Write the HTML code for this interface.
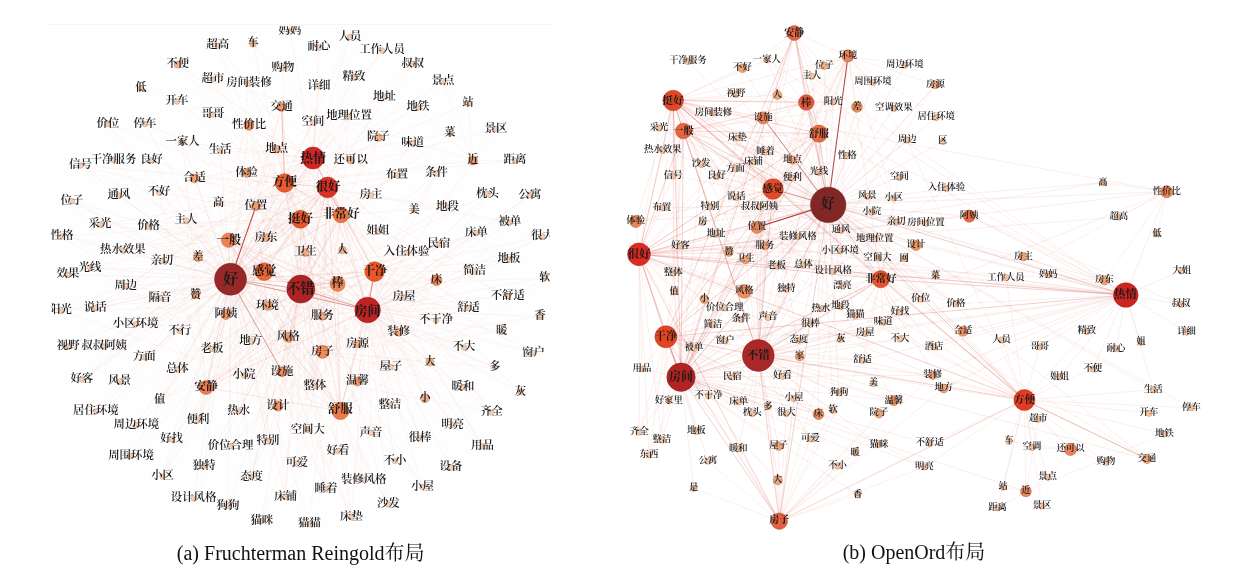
<!DOCTYPE html>
<html><head><meta charset="utf-8"><title>graph layouts</title>
<style>
html,body{margin:0;padding:0;background:#fff;width:1244px;height:571px;overflow:hidden}
svg{display:block;filter:blur(0.45px)}
text{font-family:"Liberation Serif","Noto Serif CJK SC",serif;fill:#1a1a1a;font-weight:600}
.cap{font-family:"Liberation Serif","Noto Serif CJK SC",serif;fill:#111;font-weight:400}
</style></head><body>
<svg width="1244" height="571" viewBox="0 0 1244 571">
<defs><clipPath id="cl"><rect x="51.5" y="26.3" width="498" height="501"/></clipPath></defs>
<rect x="0" y="0" width="1244" height="571" fill="#fff"/>
<rect x="48" y="24" width="504" height="504" fill="#fefefe"/>
<line x1="48" y1="24.5" x2="552" y2="24.5" stroke="#f6f6f6" stroke-width="1"/>
<g clip-path="url(#cl)">
<g fill="none" stroke-linecap="round">
<line x1="230.5" y1="279.2" x2="267.4" y2="305.7" stroke="#cb6457" stroke-opacity="0.10" stroke-width="0.70"/>
<line x1="230.5" y1="279.2" x2="255.9" y2="206.1" stroke="#b02828" stroke-opacity="0.85" stroke-width="1.10"/>
<line x1="230.5" y1="279.2" x2="282.0" y2="371.7" stroke="#b03a30" stroke-opacity="0.55" stroke-width="0.90"/>
<line x1="230.5" y1="279.2" x2="322.5" y2="316.3" stroke="#cc695d" stroke-opacity="0.10" stroke-width="0.70"/>
<line x1="230.5" y1="279.2" x2="367.6" y2="310.0" stroke="#b02828" stroke-opacity="0.45" stroke-width="1.00"/>
<line x1="230.5" y1="279.2" x2="300.8" y2="289.1" stroke="#b02828" stroke-opacity="0.35" stroke-width="1.00"/>
<line x1="230.5" y1="279.2" x2="264.1" y2="271.6" stroke="#cb5445" stroke-opacity="0.18" stroke-width="0.91"/>
<line x1="230.5" y1="279.2" x2="228.6" y2="240.2" stroke="#cc5d4e" stroke-opacity="0.18" stroke-width="0.91"/>
<line x1="230.5" y1="279.2" x2="226.0" y2="314.5" stroke="#cb6254" stroke-opacity="0.10" stroke-width="0.70"/>
<line x1="230.5" y1="279.2" x2="72.0" y2="201.2" stroke="#cd736b" stroke-opacity="0.10" stroke-width="0.70"/>
<line x1="230.5" y1="279.2" x2="186.0" y2="220.5" stroke="#cd736b" stroke-opacity="0.10" stroke-width="0.70"/>
<line x1="230.5" y1="279.2" x2="148.6" y2="226.5" stroke="#cd736b" stroke-opacity="0.10" stroke-width="0.70"/>
<line x1="230.5" y1="279.2" x2="100.0" y2="224.5" stroke="#cd736b" stroke-opacity="0.10" stroke-width="0.70"/>
<line x1="230.5" y1="279.2" x2="62.0" y2="236.5" stroke="#cd736b" stroke-opacity="0.10" stroke-width="0.70"/>
<line x1="230.5" y1="279.2" x2="122.8" y2="250.5" stroke="#cd736b" stroke-opacity="0.10" stroke-width="0.70"/>
<line x1="230.5" y1="279.2" x2="90.0" y2="267.8" stroke="#cd736b" stroke-opacity="0.10" stroke-width="0.70"/>
<line x1="230.5" y1="279.2" x2="67.9" y2="274.6" stroke="#cd736b" stroke-opacity="0.10" stroke-width="0.70"/>
<line x1="230.5" y1="279.2" x2="125.8" y2="286.1" stroke="#cd736b" stroke-opacity="0.10" stroke-width="0.70"/>
<line x1="230.5" y1="279.2" x2="160.0" y2="297.9" stroke="#cd736b" stroke-opacity="0.10" stroke-width="0.70"/>
<line x1="230.5" y1="279.2" x2="195.6" y2="294.9" stroke="#cc695c" stroke-opacity="0.10" stroke-width="0.70"/>
<line x1="230.5" y1="279.2" x2="95.2" y2="308.3" stroke="#cd736b" stroke-opacity="0.10" stroke-width="0.70"/>
<line x1="230.5" y1="279.2" x2="60.5" y2="310.4" stroke="#cd736b" stroke-opacity="0.10" stroke-width="0.70"/>
<line x1="230.5" y1="279.2" x2="135.6" y2="324.3" stroke="#cd736b" stroke-opacity="0.10" stroke-width="0.70"/>
<line x1="230.5" y1="279.2" x2="179.7" y2="331.0" stroke="#cd736b" stroke-opacity="0.10" stroke-width="0.70"/>
<line x1="230.5" y1="279.2" x2="68.2" y2="346.5" stroke="#cd736b" stroke-opacity="0.10" stroke-width="0.70"/>
<line x1="230.5" y1="279.2" x2="104.2" y2="346.5" stroke="#cd736b" stroke-opacity="0.10" stroke-width="0.70"/>
<line x1="230.5" y1="279.2" x2="144.2" y2="357.2" stroke="#cd736b" stroke-opacity="0.10" stroke-width="0.70"/>
<line x1="230.5" y1="279.2" x2="212.0" y2="348.9" stroke="#cd736b" stroke-opacity="0.10" stroke-width="0.70"/>
<line x1="230.5" y1="279.2" x2="177.3" y2="369.5" stroke="#cd736b" stroke-opacity="0.10" stroke-width="0.70"/>
<line x1="230.5" y1="279.2" x2="82.0" y2="379.5" stroke="#cd736b" stroke-opacity="0.10" stroke-width="0.70"/>
<line x1="230.5" y1="279.2" x2="119.7" y2="381.5" stroke="#cd736b" stroke-opacity="0.10" stroke-width="0.70"/>
<line x1="230.5" y1="279.2" x2="159.6" y2="400.5" stroke="#cd736b" stroke-opacity="0.10" stroke-width="0.70"/>
<line x1="230.5" y1="279.2" x2="95.9" y2="411.5" stroke="#cd736b" stroke-opacity="0.10" stroke-width="0.70"/>
<line x1="230.5" y1="279.2" x2="198.0" y2="420.3" stroke="#cd736b" stroke-opacity="0.10" stroke-width="0.70"/>
<line x1="230.5" y1="279.2" x2="136.3" y2="425.5" stroke="#cd736b" stroke-opacity="0.10" stroke-width="0.70"/>
<line x1="230.5" y1="279.2" x2="171.6" y2="439.5" stroke="#cd736b" stroke-opacity="0.10" stroke-width="0.70"/>
<line x1="230.5" y1="279.2" x2="131.0" y2="455.9" stroke="#cd736b" stroke-opacity="0.10" stroke-width="0.70"/>
<line x1="230.5" y1="279.2" x2="162.6" y2="476.5" stroke="#cd736b" stroke-opacity="0.10" stroke-width="0.70"/>
<line x1="230.5" y1="279.2" x2="193.5" y2="498.3" stroke="#cd736b" stroke-opacity="0.10" stroke-width="0.70"/>
<line x1="230.5" y1="279.2" x2="204.2" y2="465.8" stroke="#cd736b" stroke-opacity="0.10" stroke-width="0.70"/>
<line x1="230.5" y1="279.2" x2="230.6" y2="446.1" stroke="#cd736b" stroke-opacity="0.10" stroke-width="0.70"/>
<line x1="230.5" y1="279.2" x2="238.7" y2="411.5" stroke="#cd736b" stroke-opacity="0.10" stroke-width="0.70"/>
<line x1="230.5" y1="279.2" x2="206.0" y2="387.5" stroke="#cb5b4d" stroke-opacity="0.18" stroke-width="0.91"/>
<line x1="230.5" y1="279.2" x2="244.0" y2="375.5" stroke="#cd736b" stroke-opacity="0.10" stroke-width="0.70"/>
<line x1="230.5" y1="279.2" x2="250.7" y2="340.8" stroke="#cd736b" stroke-opacity="0.10" stroke-width="0.70"/>
<line x1="230.5" y1="279.2" x2="288.2" y2="337.5" stroke="#cb6456" stroke-opacity="0.10" stroke-width="0.70"/>
<line x1="230.5" y1="279.2" x2="278.0" y2="406.1" stroke="#cb6254" stroke-opacity="0.10" stroke-width="0.70"/>
<line x1="230.5" y1="279.2" x2="251.6" y2="476.7" stroke="#cd736b" stroke-opacity="0.10" stroke-width="0.70"/>
<line x1="230.5" y1="279.2" x2="228.0" y2="505.7" stroke="#cd736b" stroke-opacity="0.10" stroke-width="0.70"/>
<line x1="230.5" y1="279.2" x2="268.0" y2="441.2" stroke="#cd736b" stroke-opacity="0.10" stroke-width="0.70"/>
<line x1="230.5" y1="279.2" x2="119.0" y2="195.5" stroke="#cd736b" stroke-opacity="0.10" stroke-width="0.70"/>
<line x1="230.5" y1="279.2" x2="218.4" y2="203.5" stroke="#cd736b" stroke-opacity="0.10" stroke-width="0.70"/>
<line x1="230.5" y1="279.2" x2="198.0" y2="257.0" stroke="#cc675a" stroke-opacity="0.10" stroke-width="0.70"/>
<line x1="230.5" y1="279.2" x2="161.8" y2="261.1" stroke="#cd736b" stroke-opacity="0.10" stroke-width="0.70"/>
<line x1="230.5" y1="279.2" x2="80.4" y2="165.5" stroke="#cd736b" stroke-opacity="0.10" stroke-width="0.70"/>
<line x1="230.5" y1="279.2" x2="113.5" y2="160.2" stroke="#cd736b" stroke-opacity="0.10" stroke-width="0.70"/>
<line x1="230.5" y1="279.2" x2="151.5" y2="160.2" stroke="#cd736b" stroke-opacity="0.10" stroke-width="0.70"/>
<line x1="230.5" y1="279.2" x2="158.9" y2="192.5" stroke="#cd736b" stroke-opacity="0.10" stroke-width="0.70"/>
<line x1="230.5" y1="279.2" x2="194.4" y2="178.4" stroke="#cc675a" stroke-opacity="0.10" stroke-width="0.70"/>
<line x1="230.5" y1="279.2" x2="182.6" y2="142.3" stroke="#cd736b" stroke-opacity="0.10" stroke-width="0.70"/>
<line x1="230.5" y1="279.2" x2="220.0" y2="150.5" stroke="#cd736b" stroke-opacity="0.10" stroke-width="0.70"/>
<line x1="230.5" y1="279.2" x2="246.6" y2="173.0" stroke="#cb6457" stroke-opacity="0.10" stroke-width="0.70"/>
<line x1="230.5" y1="279.2" x2="266.0" y2="237.9" stroke="#cc6a5e" stroke-opacity="0.10" stroke-width="0.70"/>
<line x1="230.5" y1="279.2" x2="249.0" y2="125.3" stroke="#cb6153" stroke-opacity="0.10" stroke-width="0.70"/>
<line x1="230.5" y1="279.2" x2="108.0" y2="124.0" stroke="#cd736b" stroke-opacity="0.10" stroke-width="0.70"/>
<line x1="230.5" y1="279.2" x2="145.0" y2="124.0" stroke="#cd736b" stroke-opacity="0.10" stroke-width="0.70"/>
<line x1="230.5" y1="279.2" x2="276.7" y2="149.0" stroke="#cc6a5e" stroke-opacity="0.10" stroke-width="0.70"/>
<line x1="230.5" y1="279.2" x2="281.6" y2="106.9" stroke="#cb6456" stroke-opacity="0.10" stroke-width="0.70"/>
<line x1="230.5" y1="279.2" x2="313.0" y2="122.5" stroke="#cd736b" stroke-opacity="0.10" stroke-width="0.70"/>
<line x1="230.5" y1="279.2" x2="349.0" y2="116.5" stroke="#cd736b" stroke-opacity="0.10" stroke-width="0.70"/>
<line x1="230.5" y1="279.2" x2="363.7" y2="479.8" stroke="#cd736b" stroke-opacity="0.10" stroke-width="0.70"/>
<line x1="230.5" y1="279.2" x2="315.0" y2="386.0" stroke="#cd736b" stroke-opacity="0.10" stroke-width="0.70"/>
<line x1="230.5" y1="279.2" x2="307.8" y2="430.1" stroke="#cd736b" stroke-opacity="0.10" stroke-width="0.70"/>
<line x1="230.5" y1="279.2" x2="406.6" y2="252.5" stroke="#cd736b" stroke-opacity="0.10" stroke-width="0.70"/>
<line x1="230.5" y1="279.2" x2="327.6" y2="187.4" stroke="#c64441" stroke-opacity="0.18" stroke-width="0.91"/>
<line x1="230.5" y1="279.2" x2="300.5" y2="219.3" stroke="#ca5043" stroke-opacity="0.18" stroke-width="0.91"/>
<line x1="230.5" y1="279.2" x2="341.0" y2="215.0" stroke="#cb5849" stroke-opacity="0.18" stroke-width="0.91"/>
<line x1="230.5" y1="279.2" x2="340.4" y2="411.0" stroke="#cb5a4c" stroke-opacity="0.18" stroke-width="0.91"/>
<line x1="230.5" y1="279.2" x2="337.6" y2="284.0" stroke="#cc5d4f" stroke-opacity="0.18" stroke-width="0.91"/>
<line x1="230.5" y1="279.2" x2="322.5" y2="351.8" stroke="#cc5f51" stroke-opacity="0.10" stroke-width="0.70"/>
<line x1="230.5" y1="279.2" x2="313.0" y2="158.0" stroke="#c44040" stroke-opacity="0.18" stroke-width="0.91"/>
<line x1="230.5" y1="279.2" x2="374.6" y2="271.6" stroke="#ca4f41" stroke-opacity="0.18" stroke-width="0.91"/>
<line x1="230.5" y1="279.2" x2="284.6" y2="183.0" stroke="#ca5143" stroke-opacity="0.18" stroke-width="0.91"/>
<line x1="230.5" y1="279.2" x2="285.7" y2="496.8" stroke="#cd736b" stroke-opacity="0.10" stroke-width="0.70"/>
<line x1="230.5" y1="279.2" x2="326.0" y2="489.5" stroke="#cd736b" stroke-opacity="0.10" stroke-width="0.70"/>
<line x1="230.5" y1="279.2" x2="309.5" y2="524.0" stroke="#cd736b" stroke-opacity="0.10" stroke-width="0.70"/>
<line x1="230.5" y1="279.2" x2="396.8" y2="175.5" stroke="#cd736b" stroke-opacity="0.10" stroke-width="0.70"/>
<line x1="230.5" y1="279.2" x2="357.4" y2="344.0" stroke="#cc6a5f" stroke-opacity="0.10" stroke-width="0.70"/>
<line x1="300.8" y1="289.1" x2="367.6" y2="310.0" stroke="#b02828" stroke-opacity="0.45" stroke-width="1.00"/>
<line x1="300.8" y1="289.1" x2="322.5" y2="316.3" stroke="#d2685c" stroke-opacity="0.10" stroke-width="0.70"/>
<line x1="300.8" y1="289.1" x2="267.4" y2="305.7" stroke="#d26356" stroke-opacity="0.10" stroke-width="0.70"/>
<line x1="300.8" y1="289.1" x2="322.5" y2="351.8" stroke="#d25d4f" stroke-opacity="0.10" stroke-width="0.70"/>
<line x1="300.8" y1="289.1" x2="357.4" y2="344.0" stroke="#d2695d" stroke-opacity="0.10" stroke-width="0.70"/>
<line x1="300.8" y1="289.1" x2="288.2" y2="337.5" stroke="#d26255" stroke-opacity="0.10" stroke-width="0.70"/>
<line x1="300.8" y1="289.1" x2="305.4" y2="252.5" stroke="#d2685c" stroke-opacity="0.10" stroke-width="0.70"/>
<line x1="300.8" y1="289.1" x2="315.0" y2="386.0" stroke="#d37269" stroke-opacity="0.10" stroke-width="0.70"/>
<line x1="300.8" y1="289.1" x2="282.0" y2="371.7" stroke="#d16051" stroke-opacity="0.10" stroke-width="0.70"/>
<line x1="300.8" y1="289.1" x2="398.7" y2="332.2" stroke="#d2685c" stroke-opacity="0.10" stroke-width="0.70"/>
<line x1="300.8" y1="289.1" x2="255.9" y2="206.1" stroke="#d26355" stroke-opacity="0.10" stroke-width="0.70"/>
<line x1="300.8" y1="289.1" x2="264.1" y2="271.6" stroke="#d25244" stroke-opacity="0.18" stroke-width="0.91"/>
<line x1="300.8" y1="289.1" x2="148.6" y2="226.5" stroke="#d37269" stroke-opacity="0.10" stroke-width="0.70"/>
<line x1="300.8" y1="289.1" x2="281.6" y2="106.9" stroke="#d26255" stroke-opacity="0.10" stroke-width="0.70"/>
<line x1="300.8" y1="289.1" x2="212.0" y2="348.9" stroke="#d37269" stroke-opacity="0.10" stroke-width="0.70"/>
<line x1="300.8" y1="289.1" x2="250.7" y2="340.8" stroke="#d37269" stroke-opacity="0.10" stroke-width="0.70"/>
<line x1="300.8" y1="289.1" x2="249.0" y2="125.3" stroke="#d15f51" stroke-opacity="0.10" stroke-width="0.70"/>
<line x1="300.8" y1="289.1" x2="391.0" y2="367.0" stroke="#d37269" stroke-opacity="0.10" stroke-width="0.70"/>
<line x1="300.8" y1="289.1" x2="439.0" y2="244.0" stroke="#d37269" stroke-opacity="0.10" stroke-width="0.70"/>
<line x1="300.8" y1="289.1" x2="436.5" y2="280.2" stroke="#d15d50" stroke-opacity="0.10" stroke-width="0.70"/>
<line x1="300.8" y1="289.1" x2="357.4" y2="381.5" stroke="#d26255" stroke-opacity="0.10" stroke-width="0.70"/>
<line x1="300.8" y1="289.1" x2="422.5" y2="487.1" stroke="#d37269" stroke-opacity="0.10" stroke-width="0.70"/>
<line x1="300.8" y1="289.1" x2="338.0" y2="451.0" stroke="#d37269" stroke-opacity="0.10" stroke-width="0.70"/>
<line x1="300.8" y1="289.1" x2="296.8" y2="463.5" stroke="#d37269" stroke-opacity="0.10" stroke-width="0.70"/>
<line x1="300.8" y1="289.1" x2="307.8" y2="430.1" stroke="#d37269" stroke-opacity="0.10" stroke-width="0.70"/>
<line x1="300.8" y1="289.1" x2="326.0" y2="489.5" stroke="#d37269" stroke-opacity="0.10" stroke-width="0.70"/>
<line x1="300.8" y1="289.1" x2="251.6" y2="476.7" stroke="#d37269" stroke-opacity="0.10" stroke-width="0.70"/>
<line x1="300.8" y1="289.1" x2="371.0" y2="432.8" stroke="#d37269" stroke-opacity="0.10" stroke-width="0.70"/>
<line x1="300.8" y1="289.1" x2="285.7" y2="496.8" stroke="#d37269" stroke-opacity="0.10" stroke-width="0.70"/>
<line x1="300.8" y1="289.1" x2="363.7" y2="479.8" stroke="#d37269" stroke-opacity="0.10" stroke-width="0.70"/>
<line x1="300.8" y1="289.1" x2="278.0" y2="406.1" stroke="#d16152" stroke-opacity="0.10" stroke-width="0.70"/>
<line x1="300.8" y1="289.1" x2="495.0" y2="367.5" stroke="#d37269" stroke-opacity="0.10" stroke-width="0.70"/>
<line x1="300.8" y1="289.1" x2="542.5" y2="236.5" stroke="#d37269" stroke-opacity="0.10" stroke-width="0.70"/>
<line x1="300.8" y1="289.1" x2="487.5" y2="193.8" stroke="#d37269" stroke-opacity="0.10" stroke-width="0.70"/>
<line x1="300.8" y1="289.1" x2="476.4" y2="233.0" stroke="#d37269" stroke-opacity="0.10" stroke-width="0.70"/>
<line x1="300.8" y1="289.1" x2="436.0" y2="320.5" stroke="#d37269" stroke-opacity="0.10" stroke-width="0.70"/>
<line x1="300.8" y1="289.1" x2="464.0" y2="347.5" stroke="#d37269" stroke-opacity="0.10" stroke-width="0.70"/>
<line x1="300.8" y1="289.1" x2="468.6" y2="308.2" stroke="#d37269" stroke-opacity="0.10" stroke-width="0.70"/>
<line x1="300.8" y1="289.1" x2="412.7" y2="143.5" stroke="#d37269" stroke-opacity="0.10" stroke-width="0.70"/>
<line x1="300.8" y1="289.1" x2="204.2" y2="465.8" stroke="#d37269" stroke-opacity="0.10" stroke-width="0.70"/>
<line x1="300.8" y1="289.1" x2="177.3" y2="369.5" stroke="#d37269" stroke-opacity="0.10" stroke-width="0.70"/>
<line x1="300.8" y1="289.1" x2="171.6" y2="439.5" stroke="#d37269" stroke-opacity="0.10" stroke-width="0.70"/>
<line x1="300.8" y1="289.1" x2="238.7" y2="411.5" stroke="#d37269" stroke-opacity="0.10" stroke-width="0.70"/>
<line x1="300.8" y1="289.1" x2="447.5" y2="206.8" stroke="#d37269" stroke-opacity="0.10" stroke-width="0.70"/>
<line x1="300.8" y1="289.1" x2="420.0" y2="438.0" stroke="#d37269" stroke-opacity="0.10" stroke-width="0.70"/>
<line x1="300.8" y1="289.1" x2="430.0" y2="362.1" stroke="#d2695d" stroke-opacity="0.10" stroke-width="0.70"/>
<line x1="300.8" y1="289.1" x2="378.5" y2="137.5" stroke="#d2685c" stroke-opacity="0.10" stroke-width="0.70"/>
<line x1="300.8" y1="289.1" x2="261.8" y2="521.1" stroke="#d37269" stroke-opacity="0.10" stroke-width="0.70"/>
<line x1="300.8" y1="289.1" x2="228.0" y2="505.7" stroke="#d37269" stroke-opacity="0.10" stroke-width="0.70"/>
<line x1="300.8" y1="289.1" x2="463.0" y2="387.2" stroke="#d37269" stroke-opacity="0.10" stroke-width="0.70"/>
<line x1="300.8" y1="289.1" x2="545.0" y2="277.8" stroke="#d37269" stroke-opacity="0.10" stroke-width="0.70"/>
<line x1="300.8" y1="289.1" x2="436.5" y2="173.5" stroke="#d37269" stroke-opacity="0.10" stroke-width="0.70"/>
<line x1="300.8" y1="289.1" x2="230.6" y2="446.1" stroke="#d37269" stroke-opacity="0.10" stroke-width="0.70"/>
<line x1="300.8" y1="289.1" x2="342.5" y2="250.0" stroke="#d2695d" stroke-opacity="0.10" stroke-width="0.70"/>
<line x1="367.6" y1="310.0" x2="374.6" y2="271.6" stroke="#d84020" stroke-opacity="0.60" stroke-width="1.00"/>
<line x1="367.6" y1="310.0" x2="398.7" y2="332.2" stroke="#d8685c" stroke-opacity="0.10" stroke-width="0.70"/>
<line x1="367.6" y1="310.0" x2="404.0" y2="297.5" stroke="#d97269" stroke-opacity="0.10" stroke-width="0.70"/>
<line x1="367.6" y1="310.0" x2="436.0" y2="320.5" stroke="#d97269" stroke-opacity="0.10" stroke-width="0.70"/>
<line x1="367.6" y1="310.0" x2="464.0" y2="347.5" stroke="#d97269" stroke-opacity="0.10" stroke-width="0.70"/>
<line x1="367.6" y1="310.0" x2="430.0" y2="362.1" stroke="#d8695d" stroke-opacity="0.10" stroke-width="0.70"/>
<line x1="367.6" y1="310.0" x2="391.0" y2="367.0" stroke="#d97269" stroke-opacity="0.10" stroke-width="0.70"/>
<line x1="367.6" y1="310.0" x2="425.0" y2="398.3" stroke="#d8685d" stroke-opacity="0.10" stroke-width="0.70"/>
<line x1="367.6" y1="310.0" x2="468.6" y2="308.2" stroke="#d97269" stroke-opacity="0.10" stroke-width="0.70"/>
<line x1="367.6" y1="310.0" x2="507.8" y2="295.9" stroke="#d97269" stroke-opacity="0.10" stroke-width="0.70"/>
<line x1="367.6" y1="310.0" x2="501.7" y2="331.0" stroke="#d97269" stroke-opacity="0.10" stroke-width="0.70"/>
<line x1="367.6" y1="310.0" x2="533.5" y2="353.0" stroke="#d97269" stroke-opacity="0.10" stroke-width="0.70"/>
<line x1="367.6" y1="310.0" x2="495.0" y2="367.5" stroke="#d97269" stroke-opacity="0.10" stroke-width="0.70"/>
<line x1="367.6" y1="310.0" x2="463.0" y2="387.2" stroke="#d97269" stroke-opacity="0.10" stroke-width="0.70"/>
<line x1="367.6" y1="310.0" x2="520.5" y2="392.1" stroke="#d97269" stroke-opacity="0.10" stroke-width="0.70"/>
<line x1="367.6" y1="310.0" x2="491.6" y2="412.5" stroke="#d97269" stroke-opacity="0.10" stroke-width="0.70"/>
<line x1="367.6" y1="310.0" x2="452.6" y2="424.7" stroke="#d97269" stroke-opacity="0.10" stroke-width="0.70"/>
<line x1="367.6" y1="310.0" x2="482.5" y2="446.1" stroke="#d97269" stroke-opacity="0.10" stroke-width="0.70"/>
<line x1="367.6" y1="310.0" x2="451.0" y2="467.5" stroke="#d97269" stroke-opacity="0.10" stroke-width="0.70"/>
<line x1="367.6" y1="310.0" x2="390.0" y2="405.1" stroke="#d97269" stroke-opacity="0.10" stroke-width="0.70"/>
<line x1="367.6" y1="310.0" x2="420.0" y2="438.0" stroke="#d97269" stroke-opacity="0.10" stroke-width="0.70"/>
<line x1="367.6" y1="310.0" x2="395.0" y2="461.0" stroke="#d97269" stroke-opacity="0.10" stroke-width="0.70"/>
<line x1="367.6" y1="310.0" x2="422.5" y2="487.1" stroke="#d97269" stroke-opacity="0.10" stroke-width="0.70"/>
<line x1="367.6" y1="310.0" x2="436.5" y2="280.2" stroke="#d65d50" stroke-opacity="0.10" stroke-width="0.70"/>
<line x1="367.6" y1="310.0" x2="545.0" y2="277.8" stroke="#d97269" stroke-opacity="0.10" stroke-width="0.70"/>
<line x1="367.6" y1="310.0" x2="540.0" y2="316.3" stroke="#d97269" stroke-opacity="0.10" stroke-width="0.70"/>
<line x1="367.6" y1="310.0" x2="474.7" y2="271.5" stroke="#d97269" stroke-opacity="0.10" stroke-width="0.70"/>
<line x1="367.6" y1="310.0" x2="509.0" y2="259.5" stroke="#d97269" stroke-opacity="0.10" stroke-width="0.70"/>
<line x1="367.6" y1="310.0" x2="476.4" y2="233.0" stroke="#d97269" stroke-opacity="0.10" stroke-width="0.70"/>
<line x1="367.6" y1="310.0" x2="510.0" y2="222.5" stroke="#d97269" stroke-opacity="0.10" stroke-width="0.70"/>
<line x1="367.6" y1="310.0" x2="487.5" y2="193.8" stroke="#d97269" stroke-opacity="0.10" stroke-width="0.70"/>
<line x1="367.6" y1="310.0" x2="439.0" y2="244.0" stroke="#d97269" stroke-opacity="0.10" stroke-width="0.70"/>
<line x1="367.6" y1="310.0" x2="530.0" y2="195.0" stroke="#d97269" stroke-opacity="0.10" stroke-width="0.70"/>
<line x1="367.6" y1="310.0" x2="406.6" y2="252.5" stroke="#d97269" stroke-opacity="0.10" stroke-width="0.70"/>
<line x1="367.6" y1="310.0" x2="305.4" y2="252.5" stroke="#d8685c" stroke-opacity="0.10" stroke-width="0.70"/>
<line x1="367.6" y1="310.0" x2="357.4" y2="344.0" stroke="#d8695d" stroke-opacity="0.10" stroke-width="0.70"/>
<line x1="367.6" y1="310.0" x2="357.4" y2="381.5" stroke="#d76255" stroke-opacity="0.10" stroke-width="0.70"/>
<line x1="367.6" y1="310.0" x2="322.5" y2="351.8" stroke="#d75d4f" stroke-opacity="0.10" stroke-width="0.70"/>
<line x1="367.6" y1="310.0" x2="371.0" y2="432.8" stroke="#d97269" stroke-opacity="0.10" stroke-width="0.70"/>
<line x1="367.6" y1="310.0" x2="388.5" y2="504.5" stroke="#d97269" stroke-opacity="0.10" stroke-width="0.70"/>
<line x1="367.6" y1="310.0" x2="351.5" y2="517.3" stroke="#d97269" stroke-opacity="0.10" stroke-width="0.70"/>
<line x1="367.6" y1="310.0" x2="542.5" y2="236.5" stroke="#d97269" stroke-opacity="0.10" stroke-width="0.70"/>
<line x1="367.6" y1="310.0" x2="436.5" y2="173.5" stroke="#d97269" stroke-opacity="0.10" stroke-width="0.70"/>
<line x1="367.6" y1="310.0" x2="230.6" y2="446.1" stroke="#d97269" stroke-opacity="0.10" stroke-width="0.70"/>
<line x1="367.6" y1="310.0" x2="315.0" y2="386.0" stroke="#d97269" stroke-opacity="0.10" stroke-width="0.70"/>
<line x1="367.6" y1="310.0" x2="159.6" y2="400.5" stroke="#d97269" stroke-opacity="0.10" stroke-width="0.70"/>
<line x1="367.6" y1="310.0" x2="322.5" y2="316.3" stroke="#d8685c" stroke-opacity="0.10" stroke-width="0.70"/>
<line x1="367.6" y1="310.0" x2="267.4" y2="305.7" stroke="#d76356" stroke-opacity="0.10" stroke-width="0.70"/>
<line x1="367.6" y1="310.0" x2="255.9" y2="206.1" stroke="#d76355" stroke-opacity="0.10" stroke-width="0.70"/>
<line x1="367.6" y1="310.0" x2="327.6" y2="187.4" stroke="#d2433f" stroke-opacity="0.18" stroke-width="0.91"/>
<line x1="313.0" y1="158.0" x2="327.6" y2="187.4" stroke="#d84340" stroke-opacity="0.18" stroke-width="0.91"/>
<line x1="313.0" y1="158.0" x2="322.5" y2="316.3" stroke="#de685c" stroke-opacity="0.10" stroke-width="0.70"/>
<line x1="313.0" y1="158.0" x2="226.0" y2="314.5" stroke="#dd6153" stroke-opacity="0.10" stroke-width="0.70"/>
<line x1="313.0" y1="158.0" x2="212.0" y2="348.9" stroke="#df726a" stroke-opacity="0.10" stroke-width="0.70"/>
<line x1="313.0" y1="158.0" x2="319.0" y2="47.5" stroke="#df726a" stroke-opacity="0.10" stroke-width="0.70"/>
<line x1="313.0" y1="158.0" x2="350.0" y2="37.0" stroke="#df726a" stroke-opacity="0.10" stroke-width="0.70"/>
<line x1="313.0" y1="158.0" x2="382.0" y2="50.5" stroke="#df726a" stroke-opacity="0.10" stroke-width="0.70"/>
<line x1="313.0" y1="158.0" x2="412.7" y2="64.0" stroke="#df726a" stroke-opacity="0.10" stroke-width="0.70"/>
<line x1="313.0" y1="158.0" x2="319.0" y2="86.0" stroke="#df726a" stroke-opacity="0.10" stroke-width="0.70"/>
<line x1="313.0" y1="158.0" x2="354.0" y2="77.5" stroke="#df726a" stroke-opacity="0.10" stroke-width="0.70"/>
<line x1="313.0" y1="158.0" x2="290.0" y2="30.8" stroke="#df726a" stroke-opacity="0.10" stroke-width="0.70"/>
<line x1="313.0" y1="158.0" x2="177.7" y2="64.5" stroke="#de6a60" stroke-opacity="0.10" stroke-width="0.70"/>
<line x1="313.0" y1="158.0" x2="220.0" y2="150.5" stroke="#df726a" stroke-opacity="0.10" stroke-width="0.70"/>
<line x1="313.0" y1="158.0" x2="378.0" y2="231.0" stroke="#df726a" stroke-opacity="0.10" stroke-width="0.70"/>
<line x1="313.0" y1="158.0" x2="266.0" y2="237.9" stroke="#de695d" stroke-opacity="0.10" stroke-width="0.70"/>
<line x1="313.0" y1="158.0" x2="371.0" y2="195.0" stroke="#df726a" stroke-opacity="0.10" stroke-width="0.70"/>
<line x1="313.0" y1="158.0" x2="213.0" y2="114.5" stroke="#df726a" stroke-opacity="0.10" stroke-width="0.70"/>
<line x1="313.0" y1="158.0" x2="186.0" y2="220.5" stroke="#df726a" stroke-opacity="0.10" stroke-width="0.70"/>
<line x1="313.0" y1="158.0" x2="104.2" y2="346.5" stroke="#df726a" stroke-opacity="0.10" stroke-width="0.70"/>
<line x1="313.0" y1="158.0" x2="251.6" y2="476.7" stroke="#df726a" stroke-opacity="0.10" stroke-width="0.70"/>
<line x1="313.0" y1="158.0" x2="182.6" y2="142.3" stroke="#df726a" stroke-opacity="0.10" stroke-width="0.70"/>
<line x1="313.0" y1="158.0" x2="342.5" y2="250.0" stroke="#de695d" stroke-opacity="0.10" stroke-width="0.70"/>
<line x1="313.0" y1="158.0" x2="161.8" y2="261.1" stroke="#df726a" stroke-opacity="0.10" stroke-width="0.70"/>
<line x1="313.0" y1="158.0" x2="82.0" y2="379.5" stroke="#df726a" stroke-opacity="0.10" stroke-width="0.70"/>
<line x1="313.0" y1="158.0" x2="95.2" y2="308.3" stroke="#df726a" stroke-opacity="0.10" stroke-width="0.70"/>
<line x1="313.0" y1="158.0" x2="341.0" y2="215.0" stroke="#dd5748" stroke-opacity="0.18" stroke-width="0.91"/>
<line x1="313.0" y1="158.0" x2="374.6" y2="271.6" stroke="#dc4e40" stroke-opacity="0.18" stroke-width="0.91"/>
<line x1="313.0" y1="158.0" x2="194.4" y2="178.4" stroke="#de6659" stroke-opacity="0.10" stroke-width="0.70"/>
<line x1="313.0" y1="158.0" x2="148.6" y2="226.5" stroke="#df726a" stroke-opacity="0.10" stroke-width="0.70"/>
<line x1="313.0" y1="158.0" x2="450.0" y2="133.5" stroke="#df726a" stroke-opacity="0.10" stroke-width="0.70"/>
<line x1="313.0" y1="158.0" x2="398.7" y2="332.2" stroke="#de685c" stroke-opacity="0.10" stroke-width="0.70"/>
<line x1="313.0" y1="158.0" x2="250.7" y2="340.8" stroke="#df726a" stroke-opacity="0.10" stroke-width="0.70"/>
<line x1="313.0" y1="158.0" x2="468.6" y2="308.2" stroke="#df726a" stroke-opacity="0.10" stroke-width="0.70"/>
<line x1="313.0" y1="158.0" x2="404.0" y2="297.5" stroke="#df726a" stroke-opacity="0.10" stroke-width="0.70"/>
<line x1="284.6" y1="183.0" x2="281.6" y2="106.9" stroke="#e06040" stroke-opacity="0.45" stroke-width="0.90"/>
<line x1="284.6" y1="183.0" x2="283.0" y2="68.2" stroke="#e6826c" stroke-opacity="0.10" stroke-width="0.70"/>
<line x1="284.6" y1="183.0" x2="213.0" y2="79.5" stroke="#e6826c" stroke-opacity="0.10" stroke-width="0.70"/>
<line x1="284.6" y1="183.0" x2="418.0" y2="107.5" stroke="#e6826c" stroke-opacity="0.10" stroke-width="0.70"/>
<line x1="284.6" y1="183.0" x2="253.0" y2="43.5" stroke="#e57d64" stroke-opacity="0.10" stroke-width="0.70"/>
<line x1="284.6" y1="183.0" x2="145.0" y2="124.0" stroke="#e6826c" stroke-opacity="0.10" stroke-width="0.70"/>
<line x1="284.6" y1="183.0" x2="177.0" y2="101.5" stroke="#e6826c" stroke-opacity="0.10" stroke-width="0.70"/>
<line x1="284.6" y1="183.0" x2="468.0" y2="103.2" stroke="#e6826c" stroke-opacity="0.10" stroke-width="0.70"/>
<line x1="284.6" y1="183.0" x2="443.0" y2="81.1" stroke="#e6826c" stroke-opacity="0.10" stroke-width="0.70"/>
<line x1="284.6" y1="183.0" x2="473.0" y2="160.5" stroke="#e37055" stroke-opacity="0.10" stroke-width="0.70"/>
<line x1="284.6" y1="183.0" x2="515.0" y2="160.5" stroke="#e6826c" stroke-opacity="0.10" stroke-width="0.70"/>
<line x1="284.6" y1="183.0" x2="496.0" y2="129.0" stroke="#e6826c" stroke-opacity="0.10" stroke-width="0.70"/>
<line x1="284.6" y1="183.0" x2="220.0" y2="150.5" stroke="#e6826c" stroke-opacity="0.10" stroke-width="0.70"/>
<line x1="284.6" y1="183.0" x2="350.7" y2="160.2" stroke="#e5795f" stroke-opacity="0.10" stroke-width="0.70"/>
<line x1="284.6" y1="183.0" x2="255.9" y2="206.1" stroke="#e47358" stroke-opacity="0.10" stroke-width="0.70"/>
<line x1="284.6" y1="183.0" x2="349.0" y2="116.5" stroke="#e6826c" stroke-opacity="0.10" stroke-width="0.70"/>
<line x1="284.6" y1="183.0" x2="384.5" y2="97.1" stroke="#e6826c" stroke-opacity="0.10" stroke-width="0.70"/>
<line x1="284.6" y1="183.0" x2="276.7" y2="149.0" stroke="#e5795f" stroke-opacity="0.10" stroke-width="0.70"/>
<line x1="284.6" y1="183.0" x2="447.5" y2="206.8" stroke="#e6826c" stroke-opacity="0.10" stroke-width="0.70"/>
<line x1="284.6" y1="183.0" x2="125.8" y2="286.1" stroke="#e6826c" stroke-opacity="0.10" stroke-width="0.70"/>
<line x1="284.6" y1="183.0" x2="198.0" y2="420.3" stroke="#e6826c" stroke-opacity="0.10" stroke-width="0.70"/>
<line x1="284.6" y1="183.0" x2="327.6" y2="187.4" stroke="#df5342" stroke-opacity="0.18" stroke-width="0.91"/>
<line x1="284.6" y1="183.0" x2="300.8" y2="289.1" stroke="#d14f42" stroke-opacity="0.18" stroke-width="0.91"/>
<line x1="284.6" y1="183.0" x2="341.0" y2="215.0" stroke="#e4674a" stroke-opacity="0.18" stroke-width="0.91"/>
<line x1="284.6" y1="183.0" x2="300.5" y2="219.3" stroke="#e25f44" stroke-opacity="0.18" stroke-width="0.91"/>
<line x1="284.6" y1="183.0" x2="177.7" y2="64.5" stroke="#e57b62" stroke-opacity="0.10" stroke-width="0.70"/>
<line x1="284.6" y1="183.0" x2="382.0" y2="50.5" stroke="#e6826c" stroke-opacity="0.10" stroke-width="0.70"/>
<line x1="284.6" y1="183.0" x2="350.0" y2="37.0" stroke="#e6826c" stroke-opacity="0.10" stroke-width="0.70"/>
<line x1="284.6" y1="183.0" x2="213.0" y2="114.5" stroke="#e6826c" stroke-opacity="0.10" stroke-width="0.70"/>
<line x1="284.6" y1="183.0" x2="378.0" y2="231.0" stroke="#e6826c" stroke-opacity="0.10" stroke-width="0.70"/>
<line x1="284.6" y1="183.0" x2="354.0" y2="77.5" stroke="#e6826c" stroke-opacity="0.10" stroke-width="0.70"/>
<line x1="284.6" y1="183.0" x2="250.7" y2="340.8" stroke="#e6826c" stroke-opacity="0.10" stroke-width="0.70"/>
<line x1="284.6" y1="183.0" x2="398.7" y2="332.2" stroke="#e5785e" stroke-opacity="0.10" stroke-width="0.70"/>
<line x1="284.6" y1="183.0" x2="507.8" y2="295.9" stroke="#e6826c" stroke-opacity="0.10" stroke-width="0.70"/>
<line x1="284.6" y1="183.0" x2="468.6" y2="308.2" stroke="#e6826c" stroke-opacity="0.10" stroke-width="0.70"/>
<line x1="284.6" y1="183.0" x2="452.6" y2="424.7" stroke="#e6826c" stroke-opacity="0.10" stroke-width="0.70"/>
<line x1="284.6" y1="183.0" x2="194.4" y2="178.4" stroke="#e4765b" stroke-opacity="0.10" stroke-width="0.70"/>
<line x1="327.6" y1="187.4" x2="341.0" y2="215.0" stroke="#e05a48" stroke-opacity="0.18" stroke-width="0.91"/>
<line x1="327.6" y1="187.4" x2="322.5" y2="351.8" stroke="#e06150" stroke-opacity="0.10" stroke-width="0.70"/>
<line x1="327.6" y1="187.4" x2="135.6" y2="324.3" stroke="#e2756a" stroke-opacity="0.10" stroke-width="0.70"/>
<line x1="327.6" y1="187.4" x2="363.7" y2="479.8" stroke="#e2756a" stroke-opacity="0.10" stroke-width="0.70"/>
<line x1="327.6" y1="187.4" x2="349.0" y2="116.5" stroke="#e2756a" stroke-opacity="0.10" stroke-width="0.70"/>
<line x1="327.6" y1="187.4" x2="226.0" y2="314.5" stroke="#e06454" stroke-opacity="0.10" stroke-width="0.70"/>
<line x1="327.6" y1="187.4" x2="322.5" y2="316.3" stroke="#e06c5d" stroke-opacity="0.10" stroke-width="0.70"/>
<line x1="327.6" y1="187.4" x2="267.4" y2="305.7" stroke="#e06757" stroke-opacity="0.10" stroke-width="0.70"/>
<line x1="327.6" y1="187.4" x2="255.9" y2="206.1" stroke="#e06756" stroke-opacity="0.10" stroke-width="0.70"/>
<line x1="327.6" y1="187.4" x2="374.6" y2="271.6" stroke="#df5240" stroke-opacity="0.18" stroke-width="0.91"/>
<line x1="327.6" y1="187.4" x2="315.0" y2="386.0" stroke="#e2756a" stroke-opacity="0.10" stroke-width="0.70"/>
<line x1="327.6" y1="187.4" x2="159.6" y2="400.5" stroke="#e2756a" stroke-opacity="0.10" stroke-width="0.70"/>
<line x1="327.6" y1="187.4" x2="82.0" y2="379.5" stroke="#e2756a" stroke-opacity="0.10" stroke-width="0.70"/>
<line x1="327.6" y1="187.4" x2="246.6" y2="173.0" stroke="#e06756" stroke-opacity="0.10" stroke-width="0.70"/>
<line x1="327.6" y1="187.4" x2="396.8" y2="175.5" stroke="#e2756a" stroke-opacity="0.10" stroke-width="0.70"/>
<line x1="327.6" y1="187.4" x2="238.7" y2="411.5" stroke="#e2756a" stroke-opacity="0.10" stroke-width="0.70"/>
<line x1="327.6" y1="187.4" x2="264.1" y2="271.6" stroke="#e05745" stroke-opacity="0.18" stroke-width="0.91"/>
<line x1="327.6" y1="187.4" x2="288.2" y2="337.5" stroke="#e06655" stroke-opacity="0.10" stroke-width="0.70"/>
<line x1="327.6" y1="187.4" x2="398.7" y2="332.2" stroke="#e06c5d" stroke-opacity="0.10" stroke-width="0.70"/>
<line x1="327.6" y1="187.4" x2="282.0" y2="371.7" stroke="#df6352" stroke-opacity="0.10" stroke-width="0.70"/>
<line x1="327.6" y1="187.4" x2="305.4" y2="252.5" stroke="#e06c5d" stroke-opacity="0.10" stroke-width="0.70"/>
<line x1="327.6" y1="187.4" x2="266.0" y2="237.9" stroke="#e06c5d" stroke-opacity="0.10" stroke-width="0.70"/>
<line x1="327.6" y1="187.4" x2="251.6" y2="476.7" stroke="#e2756a" stroke-opacity="0.10" stroke-width="0.70"/>
<line x1="327.6" y1="187.4" x2="268.0" y2="441.2" stroke="#e2756a" stroke-opacity="0.10" stroke-width="0.70"/>
<line x1="327.6" y1="187.4" x2="482.5" y2="446.1" stroke="#e2756a" stroke-opacity="0.10" stroke-width="0.70"/>
<line x1="327.6" y1="187.4" x2="491.6" y2="412.5" stroke="#e2756a" stroke-opacity="0.10" stroke-width="0.70"/>
<line x1="327.6" y1="187.4" x2="390.0" y2="405.1" stroke="#e2756a" stroke-opacity="0.10" stroke-width="0.70"/>
<line x1="327.6" y1="187.4" x2="80.4" y2="165.5" stroke="#e2756a" stroke-opacity="0.10" stroke-width="0.70"/>
<line x1="327.6" y1="187.4" x2="122.8" y2="250.5" stroke="#e2756a" stroke-opacity="0.10" stroke-width="0.70"/>
<line x1="327.6" y1="187.4" x2="100.0" y2="224.5" stroke="#e2756a" stroke-opacity="0.10" stroke-width="0.70"/>
<line x1="327.6" y1="187.4" x2="228.6" y2="240.2" stroke="#e05f4e" stroke-opacity="0.18" stroke-width="0.91"/>
<line x1="327.6" y1="187.4" x2="249.0" y2="125.3" stroke="#df6352" stroke-opacity="0.10" stroke-width="0.70"/>
<line x1="327.6" y1="187.4" x2="218.4" y2="203.5" stroke="#e2756a" stroke-opacity="0.10" stroke-width="0.70"/>
<line x1="327.6" y1="187.4" x2="217.7" y2="45.5" stroke="#e2756a" stroke-opacity="0.10" stroke-width="0.70"/>
<line x1="327.6" y1="187.4" x2="384.5" y2="97.1" stroke="#e2756a" stroke-opacity="0.10" stroke-width="0.70"/>
<line x1="327.6" y1="187.4" x2="195.6" y2="294.9" stroke="#e06b5b" stroke-opacity="0.10" stroke-width="0.70"/>
<line x1="327.6" y1="187.4" x2="474.7" y2="271.5" stroke="#e2756a" stroke-opacity="0.10" stroke-width="0.70"/>
<line x1="327.6" y1="187.4" x2="425.0" y2="398.3" stroke="#e06c5e" stroke-opacity="0.10" stroke-width="0.70"/>
<line x1="327.6" y1="187.4" x2="510.0" y2="222.5" stroke="#e2756a" stroke-opacity="0.10" stroke-width="0.70"/>
<line x1="300.5" y1="219.3" x2="300.8" y2="289.1" stroke="#d04f42" stroke-opacity="0.18" stroke-width="0.91"/>
<line x1="300.5" y1="219.3" x2="264.1" y2="271.6" stroke="#e36346" stroke-opacity="0.18" stroke-width="0.91"/>
<line x1="300.5" y1="219.3" x2="340.4" y2="411.0" stroke="#e3694d" stroke-opacity="0.18" stroke-width="0.91"/>
<line x1="300.5" y1="219.3" x2="337.6" y2="284.0" stroke="#e46c50" stroke-opacity="0.18" stroke-width="0.91"/>
<line x1="300.5" y1="219.3" x2="341.0" y2="215.0" stroke="#e3664a" stroke-opacity="0.18" stroke-width="0.91"/>
<line x1="300.5" y1="219.3" x2="62.0" y2="236.5" stroke="#e5816c" stroke-opacity="0.10" stroke-width="0.70"/>
<line x1="300.5" y1="219.3" x2="276.7" y2="149.0" stroke="#e4785f" stroke-opacity="0.10" stroke-width="0.70"/>
<line x1="300.5" y1="219.3" x2="198.0" y2="420.3" stroke="#e5816c" stroke-opacity="0.10" stroke-width="0.70"/>
<line x1="300.5" y1="219.3" x2="90.0" y2="267.8" stroke="#e5816c" stroke-opacity="0.10" stroke-width="0.70"/>
<line x1="300.5" y1="219.3" x2="326.0" y2="489.5" stroke="#e5816c" stroke-opacity="0.10" stroke-width="0.70"/>
<line x1="300.5" y1="219.3" x2="285.7" y2="496.8" stroke="#e5816c" stroke-opacity="0.10" stroke-width="0.70"/>
<line x1="300.5" y1="219.3" x2="144.2" y2="357.2" stroke="#e5816c" stroke-opacity="0.10" stroke-width="0.70"/>
<line x1="300.5" y1="219.3" x2="95.2" y2="308.3" stroke="#e5816c" stroke-opacity="0.10" stroke-width="0.70"/>
<line x1="300.5" y1="219.3" x2="104.2" y2="346.5" stroke="#e5816c" stroke-opacity="0.10" stroke-width="0.70"/>
<line x1="300.5" y1="219.3" x2="305.4" y2="252.5" stroke="#e4785e" stroke-opacity="0.10" stroke-width="0.70"/>
<line x1="300.5" y1="219.3" x2="315.0" y2="386.0" stroke="#e5816c" stroke-opacity="0.10" stroke-width="0.70"/>
<line x1="300.5" y1="219.3" x2="159.6" y2="400.5" stroke="#e5816c" stroke-opacity="0.10" stroke-width="0.70"/>
<line x1="300.5" y1="219.3" x2="82.0" y2="379.5" stroke="#e5816c" stroke-opacity="0.10" stroke-width="0.70"/>
<line x1="300.5" y1="219.3" x2="267.4" y2="305.7" stroke="#e37358" stroke-opacity="0.10" stroke-width="0.70"/>
<line x1="300.5" y1="219.3" x2="367.6" y2="310.0" stroke="#d64f42" stroke-opacity="0.18" stroke-width="0.91"/>
<line x1="300.5" y1="219.3" x2="228.6" y2="240.2" stroke="#e46b4f" stroke-opacity="0.18" stroke-width="0.91"/>
<line x1="300.5" y1="219.3" x2="100.0" y2="224.5" stroke="#e5816c" stroke-opacity="0.10" stroke-width="0.70"/>
<line x1="300.5" y1="219.3" x2="68.2" y2="346.5" stroke="#e5816c" stroke-opacity="0.10" stroke-width="0.70"/>
<line x1="300.5" y1="219.3" x2="249.0" y2="83.5" stroke="#e5816c" stroke-opacity="0.10" stroke-width="0.70"/>
<line x1="300.5" y1="219.3" x2="158.9" y2="192.5" stroke="#e5816c" stroke-opacity="0.10" stroke-width="0.70"/>
<line x1="300.5" y1="219.3" x2="122.8" y2="250.5" stroke="#e5816c" stroke-opacity="0.10" stroke-width="0.70"/>
<line x1="300.5" y1="219.3" x2="80.4" y2="165.5" stroke="#e5816c" stroke-opacity="0.10" stroke-width="0.70"/>
<line x1="300.5" y1="219.3" x2="388.5" y2="504.5" stroke="#e5816c" stroke-opacity="0.10" stroke-width="0.70"/>
<line x1="300.5" y1="219.3" x2="396.8" y2="175.5" stroke="#e5816c" stroke-opacity="0.10" stroke-width="0.70"/>
<line x1="300.5" y1="219.3" x2="255.9" y2="206.1" stroke="#e37358" stroke-opacity="0.10" stroke-width="0.70"/>
<line x1="300.5" y1="219.3" x2="322.5" y2="316.3" stroke="#e4785e" stroke-opacity="0.10" stroke-width="0.70"/>
<line x1="300.5" y1="219.3" x2="282.0" y2="371.7" stroke="#e36f54" stroke-opacity="0.10" stroke-width="0.70"/>
<line x1="300.5" y1="219.3" x2="60.5" y2="310.4" stroke="#e5816c" stroke-opacity="0.10" stroke-width="0.70"/>
<line x1="300.5" y1="219.3" x2="249.0" y2="125.3" stroke="#e36f54" stroke-opacity="0.10" stroke-width="0.70"/>
<line x1="300.5" y1="219.3" x2="182.6" y2="142.3" stroke="#e5816c" stroke-opacity="0.10" stroke-width="0.70"/>
<line x1="300.5" y1="219.3" x2="342.5" y2="250.0" stroke="#e47960" stroke-opacity="0.10" stroke-width="0.70"/>
<line x1="300.5" y1="219.3" x2="351.5" y2="517.3" stroke="#e5816c" stroke-opacity="0.10" stroke-width="0.70"/>
<line x1="300.5" y1="219.3" x2="151.5" y2="160.2" stroke="#e5816c" stroke-opacity="0.10" stroke-width="0.70"/>
<line x1="300.5" y1="219.3" x2="246.6" y2="173.0" stroke="#e37358" stroke-opacity="0.10" stroke-width="0.70"/>
<line x1="300.5" y1="219.3" x2="327.6" y2="187.4" stroke="#de5242" stroke-opacity="0.18" stroke-width="0.91"/>
<line x1="374.6" y1="271.6" x2="305.4" y2="252.5" stroke="#e5775d" stroke-opacity="0.10" stroke-width="0.70"/>
<line x1="374.6" y1="271.6" x2="390.0" y2="405.1" stroke="#e6816a" stroke-opacity="0.10" stroke-width="0.70"/>
<line x1="374.6" y1="271.6" x2="300.8" y2="289.1" stroke="#d14e3f" stroke-opacity="0.18" stroke-width="0.91"/>
<line x1="374.6" y1="271.6" x2="482.5" y2="446.1" stroke="#e6816a" stroke-opacity="0.10" stroke-width="0.70"/>
<line x1="374.6" y1="271.6" x2="474.7" y2="271.5" stroke="#e6816a" stroke-opacity="0.10" stroke-width="0.70"/>
<line x1="374.6" y1="271.6" x2="510.0" y2="222.5" stroke="#e6816a" stroke-opacity="0.10" stroke-width="0.70"/>
<line x1="374.6" y1="271.6" x2="476.4" y2="233.0" stroke="#e6816a" stroke-opacity="0.10" stroke-width="0.70"/>
<line x1="374.6" y1="271.6" x2="533.5" y2="353.0" stroke="#e6816a" stroke-opacity="0.10" stroke-width="0.70"/>
<line x1="374.6" y1="271.6" x2="491.6" y2="412.5" stroke="#e6816a" stroke-opacity="0.10" stroke-width="0.70"/>
<line x1="374.6" y1="271.6" x2="315.0" y2="386.0" stroke="#e6816a" stroke-opacity="0.10" stroke-width="0.70"/>
<line x1="374.6" y1="271.6" x2="267.4" y2="305.7" stroke="#e47257" stroke-opacity="0.10" stroke-width="0.70"/>
<line x1="374.6" y1="271.6" x2="468.6" y2="308.2" stroke="#e6816a" stroke-opacity="0.10" stroke-width="0.70"/>
<line x1="374.6" y1="271.6" x2="452.6" y2="424.7" stroke="#e6816a" stroke-opacity="0.10" stroke-width="0.70"/>
<line x1="374.6" y1="271.6" x2="357.4" y2="381.5" stroke="#e47255" stroke-opacity="0.10" stroke-width="0.70"/>
<line x1="374.6" y1="271.6" x2="404.0" y2="297.5" stroke="#e6816a" stroke-opacity="0.10" stroke-width="0.70"/>
<line x1="374.6" y1="271.6" x2="436.5" y2="280.2" stroke="#e36d51" stroke-opacity="0.10" stroke-width="0.70"/>
<line x1="374.6" y1="271.6" x2="159.6" y2="400.5" stroke="#e6816a" stroke-opacity="0.10" stroke-width="0.70"/>
<line x1="374.6" y1="271.6" x2="425.0" y2="398.3" stroke="#e5785e" stroke-opacity="0.10" stroke-width="0.70"/>
<line x1="374.6" y1="271.6" x2="230.6" y2="446.1" stroke="#e6816a" stroke-opacity="0.10" stroke-width="0.70"/>
<line x1="374.6" y1="271.6" x2="436.5" y2="173.5" stroke="#e6816a" stroke-opacity="0.10" stroke-width="0.70"/>
<line x1="374.6" y1="271.6" x2="509.0" y2="259.5" stroke="#e6816a" stroke-opacity="0.10" stroke-width="0.70"/>
<line x1="374.6" y1="271.6" x2="439.0" y2="244.0" stroke="#e6816a" stroke-opacity="0.10" stroke-width="0.70"/>
<line x1="374.6" y1="271.6" x2="436.0" y2="320.5" stroke="#e6816a" stroke-opacity="0.10" stroke-width="0.70"/>
<line x1="264.1" y1="271.6" x2="340.4" y2="411.0" stroke="#e56d4f" stroke-opacity="0.18" stroke-width="0.91"/>
<line x1="264.1" y1="271.6" x2="276.7" y2="149.0" stroke="#e67c61" stroke-opacity="0.10" stroke-width="0.70"/>
<line x1="264.1" y1="271.6" x2="198.0" y2="420.3" stroke="#e7866f" stroke-opacity="0.10" stroke-width="0.70"/>
<line x1="264.1" y1="271.6" x2="326.0" y2="489.5" stroke="#e7866f" stroke-opacity="0.10" stroke-width="0.70"/>
<line x1="264.1" y1="271.6" x2="285.7" y2="496.8" stroke="#e7866f" stroke-opacity="0.10" stroke-width="0.70"/>
<line x1="264.1" y1="271.6" x2="144.2" y2="357.2" stroke="#e7866f" stroke-opacity="0.10" stroke-width="0.70"/>
<line x1="264.1" y1="271.6" x2="151.5" y2="160.2" stroke="#e7866f" stroke-opacity="0.10" stroke-width="0.70"/>
<line x1="264.1" y1="271.6" x2="95.2" y2="308.3" stroke="#e7866f" stroke-opacity="0.10" stroke-width="0.70"/>
<line x1="264.1" y1="271.6" x2="388.5" y2="504.5" stroke="#e7866f" stroke-opacity="0.10" stroke-width="0.70"/>
<line x1="264.1" y1="271.6" x2="351.5" y2="517.3" stroke="#e7866f" stroke-opacity="0.10" stroke-width="0.70"/>
<line x1="264.1" y1="271.6" x2="246.6" y2="173.0" stroke="#e5775a" stroke-opacity="0.10" stroke-width="0.70"/>
<line x1="264.1" y1="271.6" x2="267.4" y2="305.7" stroke="#e5775b" stroke-opacity="0.10" stroke-width="0.70"/>
<line x1="264.1" y1="271.6" x2="357.4" y2="381.5" stroke="#e5765a" stroke-opacity="0.10" stroke-width="0.70"/>
<line x1="264.1" y1="271.6" x2="367.6" y2="310.0" stroke="#d75244" stroke-opacity="0.18" stroke-width="0.91"/>
<line x1="264.1" y1="271.6" x2="255.9" y2="206.1" stroke="#e5775a" stroke-opacity="0.10" stroke-width="0.70"/>
<line x1="264.1" y1="271.6" x2="268.0" y2="441.2" stroke="#e7866f" stroke-opacity="0.10" stroke-width="0.70"/>
<line x1="264.1" y1="271.6" x2="104.2" y2="346.5" stroke="#e7866f" stroke-opacity="0.10" stroke-width="0.70"/>
<line x1="264.1" y1="271.6" x2="90.0" y2="267.8" stroke="#e7866f" stroke-opacity="0.10" stroke-width="0.70"/>
<line x1="264.1" y1="271.6" x2="62.0" y2="236.5" stroke="#e7866f" stroke-opacity="0.10" stroke-width="0.70"/>
<line x1="341.0" y1="215.0" x2="300.8" y2="289.1" stroke="#d25648" stroke-opacity="0.18" stroke-width="0.91"/>
<line x1="341.0" y1="215.0" x2="267.4" y2="305.7" stroke="#e57b5e" stroke-opacity="0.10" stroke-width="0.70"/>
<line x1="341.0" y1="215.0" x2="255.9" y2="206.1" stroke="#e57b5e" stroke-opacity="0.10" stroke-width="0.70"/>
<line x1="341.0" y1="215.0" x2="322.5" y2="316.3" stroke="#e67f64" stroke-opacity="0.10" stroke-width="0.70"/>
<line x1="341.0" y1="215.0" x2="367.6" y2="310.0" stroke="#d75648" stroke-opacity="0.18" stroke-width="0.91"/>
<line x1="341.0" y1="215.0" x2="278.0" y2="406.1" stroke="#e5785b" stroke-opacity="0.10" stroke-width="0.70"/>
<line x1="341.0" y1="215.0" x2="447.5" y2="206.8" stroke="#e78a72" stroke-opacity="0.10" stroke-width="0.70"/>
<line x1="341.0" y1="215.0" x2="108.0" y2="124.0" stroke="#e78a72" stroke-opacity="0.10" stroke-width="0.70"/>
<line x1="341.0" y1="215.0" x2="148.6" y2="226.5" stroke="#e78a72" stroke-opacity="0.10" stroke-width="0.70"/>
<line x1="341.0" y1="215.0" x2="412.7" y2="143.5" stroke="#e78a72" stroke-opacity="0.10" stroke-width="0.70"/>
<line x1="341.0" y1="215.0" x2="171.6" y2="439.5" stroke="#e78a72" stroke-opacity="0.10" stroke-width="0.70"/>
<line x1="341.0" y1="215.0" x2="450.0" y2="133.5" stroke="#e78a72" stroke-opacity="0.10" stroke-width="0.70"/>
<line x1="341.0" y1="215.0" x2="404.0" y2="297.5" stroke="#e78a72" stroke-opacity="0.10" stroke-width="0.70"/>
<line x1="341.0" y1="215.0" x2="464.0" y2="347.5" stroke="#e78a72" stroke-opacity="0.10" stroke-width="0.70"/>
<line x1="341.0" y1="215.0" x2="309.5" y2="524.0" stroke="#e78a72" stroke-opacity="0.10" stroke-width="0.70"/>
<line x1="341.0" y1="215.0" x2="420.0" y2="438.0" stroke="#e78a72" stroke-opacity="0.10" stroke-width="0.70"/>
<line x1="341.0" y1="215.0" x2="177.3" y2="369.5" stroke="#e78a72" stroke-opacity="0.10" stroke-width="0.70"/>
<line x1="341.0" y1="215.0" x2="307.8" y2="430.1" stroke="#e78a72" stroke-opacity="0.10" stroke-width="0.70"/>
<line x1="341.0" y1="215.0" x2="193.5" y2="498.3" stroke="#e78a72" stroke-opacity="0.10" stroke-width="0.70"/>
<line x1="341.0" y1="215.0" x2="194.4" y2="178.4" stroke="#e57d61" stroke-opacity="0.10" stroke-width="0.70"/>
<line x1="341.0" y1="215.0" x2="468.6" y2="308.2" stroke="#e78a72" stroke-opacity="0.10" stroke-width="0.70"/>
<line x1="341.0" y1="215.0" x2="238.7" y2="411.5" stroke="#e78a72" stroke-opacity="0.10" stroke-width="0.70"/>
<line x1="341.0" y1="215.0" x2="520.5" y2="392.1" stroke="#e78a72" stroke-opacity="0.10" stroke-width="0.70"/>
<line x1="341.0" y1="215.0" x2="349.0" y2="116.5" stroke="#e78a72" stroke-opacity="0.10" stroke-width="0.70"/>
<line x1="341.0" y1="215.0" x2="162.6" y2="476.5" stroke="#e78a72" stroke-opacity="0.10" stroke-width="0.70"/>
<line x1="341.0" y1="215.0" x2="161.8" y2="261.1" stroke="#e78a72" stroke-opacity="0.10" stroke-width="0.70"/>
<line x1="341.0" y1="215.0" x2="313.0" y2="122.5" stroke="#e78a72" stroke-opacity="0.10" stroke-width="0.70"/>
<line x1="340.4" y1="411.0" x2="327.6" y2="187.4" stroke="#e05d4b" stroke-opacity="0.18" stroke-width="0.91"/>
<line x1="340.4" y1="411.0" x2="367.6" y2="310.0" stroke="#d7584a" stroke-opacity="0.18" stroke-width="0.91"/>
<line x1="340.4" y1="411.0" x2="436.5" y2="280.2" stroke="#e4785b" stroke-opacity="0.10" stroke-width="0.70"/>
<line x1="340.4" y1="411.0" x2="206.0" y2="387.5" stroke="#e57357" stroke-opacity="0.18" stroke-width="0.91"/>
<line x1="340.4" y1="411.0" x2="267.4" y2="305.7" stroke="#e57d61" stroke-opacity="0.10" stroke-width="0.70"/>
<line x1="340.4" y1="411.0" x2="374.6" y2="271.6" stroke="#e4684b" stroke-opacity="0.18" stroke-width="0.91"/>
<line x1="340.4" y1="411.0" x2="326.0" y2="489.5" stroke="#e78c75" stroke-opacity="0.10" stroke-width="0.70"/>
<line x1="340.4" y1="411.0" x2="351.5" y2="517.3" stroke="#e78c75" stroke-opacity="0.10" stroke-width="0.70"/>
<line x1="340.4" y1="411.0" x2="285.7" y2="496.8" stroke="#e78c75" stroke-opacity="0.10" stroke-width="0.70"/>
<line x1="340.4" y1="411.0" x2="487.5" y2="193.8" stroke="#e78c75" stroke-opacity="0.10" stroke-width="0.70"/>
<line x1="340.4" y1="411.0" x2="388.5" y2="504.5" stroke="#e78c75" stroke-opacity="0.10" stroke-width="0.70"/>
<line x1="340.4" y1="411.0" x2="510.0" y2="222.5" stroke="#e78c75" stroke-opacity="0.10" stroke-width="0.70"/>
<line x1="340.4" y1="411.0" x2="545.0" y2="277.8" stroke="#e78c75" stroke-opacity="0.10" stroke-width="0.70"/>
<line x1="340.4" y1="411.0" x2="60.5" y2="310.4" stroke="#e78c75" stroke-opacity="0.10" stroke-width="0.70"/>
<line x1="340.4" y1="411.0" x2="90.0" y2="267.8" stroke="#e78c75" stroke-opacity="0.10" stroke-width="0.70"/>
<line x1="340.4" y1="411.0" x2="62.0" y2="236.5" stroke="#e78c75" stroke-opacity="0.10" stroke-width="0.70"/>
<line x1="340.4" y1="411.0" x2="198.0" y2="257.0" stroke="#e57f64" stroke-opacity="0.10" stroke-width="0.70"/>
<line x1="340.4" y1="411.0" x2="337.6" y2="284.0" stroke="#e57659" stroke-opacity="0.18" stroke-width="0.91"/>
<line x1="340.4" y1="411.0" x2="313.0" y2="122.5" stroke="#e78c75" stroke-opacity="0.10" stroke-width="0.70"/>
<line x1="228.6" y1="240.2" x2="300.8" y2="289.1" stroke="#d25b4c" stroke-opacity="0.18" stroke-width="0.91"/>
<line x1="228.6" y1="240.2" x2="340.4" y2="411.0" stroke="#e57558" stroke-opacity="0.18" stroke-width="0.91"/>
<line x1="228.6" y1="240.2" x2="337.6" y2="284.0" stroke="#e6785b" stroke-opacity="0.18" stroke-width="0.91"/>
<line x1="228.6" y1="240.2" x2="276.7" y2="149.0" stroke="#e6856a" stroke-opacity="0.10" stroke-width="0.70"/>
<line x1="228.6" y1="240.2" x2="326.0" y2="489.5" stroke="#e88e78" stroke-opacity="0.10" stroke-width="0.70"/>
<line x1="228.6" y1="240.2" x2="351.5" y2="517.3" stroke="#e88e78" stroke-opacity="0.10" stroke-width="0.70"/>
<line x1="228.6" y1="240.2" x2="144.2" y2="357.2" stroke="#e88e78" stroke-opacity="0.10" stroke-width="0.70"/>
<line x1="228.6" y1="240.2" x2="268.0" y2="441.2" stroke="#e88e78" stroke-opacity="0.10" stroke-width="0.70"/>
<line x1="228.6" y1="240.2" x2="264.1" y2="271.6" stroke="#e56f52" stroke-opacity="0.18" stroke-width="0.91"/>
<line x1="228.6" y1="240.2" x2="267.4" y2="305.7" stroke="#e57f64" stroke-opacity="0.10" stroke-width="0.70"/>
<line x1="228.6" y1="240.2" x2="100.0" y2="224.5" stroke="#e88e78" stroke-opacity="0.10" stroke-width="0.70"/>
<line x1="228.6" y1="240.2" x2="122.8" y2="250.5" stroke="#e88e78" stroke-opacity="0.10" stroke-width="0.70"/>
<line x1="228.6" y1="240.2" x2="255.9" y2="206.1" stroke="#e57f63" stroke-opacity="0.10" stroke-width="0.70"/>
<line x1="228.6" y1="240.2" x2="322.5" y2="316.3" stroke="#e6846a" stroke-opacity="0.10" stroke-width="0.70"/>
<line x1="228.6" y1="240.2" x2="148.6" y2="226.5" stroke="#e88e78" stroke-opacity="0.10" stroke-width="0.70"/>
<line x1="228.6" y1="240.2" x2="282.0" y2="371.7" stroke="#e57c5f" stroke-opacity="0.10" stroke-width="0.70"/>
<line x1="228.6" y1="240.2" x2="198.0" y2="257.0" stroke="#e68267" stroke-opacity="0.10" stroke-width="0.70"/>
<line x1="228.6" y1="240.2" x2="249.0" y2="83.5" stroke="#e88e78" stroke-opacity="0.10" stroke-width="0.70"/>
<line x1="228.6" y1="240.2" x2="80.4" y2="165.5" stroke="#e88e78" stroke-opacity="0.10" stroke-width="0.70"/>
<line x1="228.6" y1="240.2" x2="388.5" y2="504.5" stroke="#e88e78" stroke-opacity="0.10" stroke-width="0.70"/>
<line x1="228.6" y1="240.2" x2="367.6" y2="310.0" stroke="#d75b4c" stroke-opacity="0.18" stroke-width="0.91"/>
<line x1="228.6" y1="240.2" x2="315.0" y2="386.0" stroke="#e88e78" stroke-opacity="0.10" stroke-width="0.70"/>
<line x1="228.6" y1="240.2" x2="159.6" y2="400.5" stroke="#e88e78" stroke-opacity="0.10" stroke-width="0.70"/>
<line x1="337.6" y1="284.0" x2="267.4" y2="305.7" stroke="#e58064" stroke-opacity="0.10" stroke-width="0.70"/>
<line x1="337.6" y1="284.0" x2="322.5" y2="316.3" stroke="#e6856a" stroke-opacity="0.10" stroke-width="0.70"/>
<line x1="337.6" y1="284.0" x2="255.9" y2="206.1" stroke="#e58064" stroke-opacity="0.10" stroke-width="0.70"/>
<line x1="337.6" y1="284.0" x2="342.5" y2="250.0" stroke="#e6866c" stroke-opacity="0.10" stroke-width="0.70"/>
<line x1="337.6" y1="284.0" x2="186.0" y2="220.5" stroke="#e88e78" stroke-opacity="0.10" stroke-width="0.70"/>
<line x1="337.6" y1="284.0" x2="72.0" y2="201.2" stroke="#e88e78" stroke-opacity="0.10" stroke-width="0.70"/>
<line x1="337.6" y1="284.0" x2="60.5" y2="310.4" stroke="#e88e78" stroke-opacity="0.10" stroke-width="0.70"/>
<line x1="337.6" y1="284.0" x2="206.0" y2="387.5" stroke="#e5765a" stroke-opacity="0.18" stroke-width="0.91"/>
<line x1="337.6" y1="284.0" x2="182.6" y2="142.3" stroke="#e88e78" stroke-opacity="0.10" stroke-width="0.70"/>
<line x1="337.6" y1="284.0" x2="282.0" y2="371.7" stroke="#e57c60" stroke-opacity="0.10" stroke-width="0.70"/>
<line x1="337.6" y1="284.0" x2="276.7" y2="149.0" stroke="#e6856b" stroke-opacity="0.10" stroke-width="0.70"/>
<line x1="206.0" y1="387.5" x2="267.4" y2="305.7" stroke="#e57e63" stroke-opacity="0.10" stroke-width="0.70"/>
<line x1="206.0" y1="387.5" x2="374.6" y2="271.6" stroke="#e4694c" stroke-opacity="0.18" stroke-width="0.91"/>
<line x1="206.0" y1="387.5" x2="255.9" y2="206.1" stroke="#e57e62" stroke-opacity="0.10" stroke-width="0.70"/>
<line x1="206.0" y1="387.5" x2="182.6" y2="142.3" stroke="#e78c76" stroke-opacity="0.10" stroke-width="0.70"/>
<line x1="206.0" y1="387.5" x2="342.5" y2="250.0" stroke="#e6846a" stroke-opacity="0.10" stroke-width="0.70"/>
<line x1="206.0" y1="387.5" x2="282.0" y2="371.7" stroke="#e57a5e" stroke-opacity="0.10" stroke-width="0.70"/>
<line x1="206.0" y1="387.5" x2="367.6" y2="310.0" stroke="#d75a4b" stroke-opacity="0.18" stroke-width="0.91"/>
<line x1="206.0" y1="387.5" x2="162.6" y2="476.5" stroke="#e78c76" stroke-opacity="0.10" stroke-width="0.70"/>
<line x1="206.0" y1="387.5" x2="158.9" y2="192.5" stroke="#e78c76" stroke-opacity="0.10" stroke-width="0.70"/>
<line x1="206.0" y1="387.5" x2="72.0" y2="201.2" stroke="#e78c76" stroke-opacity="0.10" stroke-width="0.70"/>
<line x1="206.0" y1="387.5" x2="186.0" y2="220.5" stroke="#e78c76" stroke-opacity="0.10" stroke-width="0.70"/>
<line x1="322.5" y1="351.8" x2="284.6" y2="183.0" stroke="#e46e52" stroke-opacity="0.10" stroke-width="0.70"/>
<line x1="322.5" y1="351.8" x2="430.0" y2="362.1" stroke="#e6886e" stroke-opacity="0.10" stroke-width="0.70"/>
<line x1="322.5" y1="351.8" x2="540.0" y2="316.3" stroke="#e8917a" stroke-opacity="0.10" stroke-width="0.70"/>
<line x1="322.5" y1="351.8" x2="395.0" y2="461.0" stroke="#e8917a" stroke-opacity="0.10" stroke-width="0.70"/>
<line x1="322.5" y1="351.8" x2="501.7" y2="331.0" stroke="#e8917a" stroke-opacity="0.10" stroke-width="0.70"/>
<line x1="322.5" y1="351.8" x2="530.0" y2="195.0" stroke="#e8917a" stroke-opacity="0.10" stroke-width="0.70"/>
<line x1="322.5" y1="351.8" x2="463.0" y2="387.2" stroke="#e8917a" stroke-opacity="0.10" stroke-width="0.70"/>
<line x1="322.5" y1="351.8" x2="391.0" y2="367.0" stroke="#e8917a" stroke-opacity="0.10" stroke-width="0.70"/>
<line x1="322.5" y1="351.8" x2="374.6" y2="271.6" stroke="#e46d50" stroke-opacity="0.10" stroke-width="0.70"/>
<line x1="322.5" y1="351.8" x2="422.5" y2="487.1" stroke="#e8917a" stroke-opacity="0.10" stroke-width="0.70"/>
<line x1="322.5" y1="351.8" x2="296.8" y2="463.5" stroke="#e8917a" stroke-opacity="0.10" stroke-width="0.70"/>
<line x1="322.5" y1="351.8" x2="357.4" y2="381.5" stroke="#e58165" stroke-opacity="0.10" stroke-width="0.70"/>
<line x1="322.5" y1="351.8" x2="398.7" y2="332.2" stroke="#e6876c" stroke-opacity="0.10" stroke-width="0.70"/>
<line x1="322.5" y1="351.8" x2="250.7" y2="340.8" stroke="#e8917a" stroke-opacity="0.10" stroke-width="0.70"/>
<line x1="322.5" y1="351.8" x2="378.5" y2="137.5" stroke="#e6876d" stroke-opacity="0.10" stroke-width="0.70"/>
<line x1="322.5" y1="351.8" x2="261.8" y2="521.1" stroke="#e8917a" stroke-opacity="0.10" stroke-width="0.70"/>
<line x1="322.5" y1="351.8" x2="228.0" y2="505.7" stroke="#e8917a" stroke-opacity="0.10" stroke-width="0.70"/>
<line x1="322.5" y1="351.8" x2="452.6" y2="424.7" stroke="#e8917a" stroke-opacity="0.10" stroke-width="0.70"/>
<line x1="322.5" y1="351.8" x2="468.6" y2="308.2" stroke="#e8917a" stroke-opacity="0.10" stroke-width="0.70"/>
<line x1="322.5" y1="351.8" x2="542.5" y2="236.5" stroke="#e8917a" stroke-opacity="0.10" stroke-width="0.70"/>
<line x1="322.5" y1="351.8" x2="495.0" y2="367.5" stroke="#e8917a" stroke-opacity="0.10" stroke-width="0.70"/>
<line x1="267.4" y1="305.7" x2="136.3" y2="425.5" stroke="#e79681" stroke-opacity="0.10" stroke-width="0.70"/>
<line x1="267.4" y1="305.7" x2="131.0" y2="455.9" stroke="#e79681" stroke-opacity="0.10" stroke-width="0.70"/>
<line x1="267.4" y1="305.7" x2="135.6" y2="324.3" stroke="#e79681" stroke-opacity="0.10" stroke-width="0.70"/>
<line x1="267.4" y1="305.7" x2="95.9" y2="411.5" stroke="#e79681" stroke-opacity="0.10" stroke-width="0.70"/>
<line x1="267.4" y1="305.7" x2="162.6" y2="476.5" stroke="#e79681" stroke-opacity="0.10" stroke-width="0.70"/>
<line x1="267.4" y1="305.7" x2="72.0" y2="201.2" stroke="#e79681" stroke-opacity="0.10" stroke-width="0.70"/>
<line x1="267.4" y1="305.7" x2="186.0" y2="220.5" stroke="#e79681" stroke-opacity="0.10" stroke-width="0.70"/>
<line x1="267.4" y1="305.7" x2="305.4" y2="252.5" stroke="#e68c73" stroke-opacity="0.10" stroke-width="0.70"/>
<line x1="267.4" y1="305.7" x2="198.0" y2="257.0" stroke="#e58a70" stroke-opacity="0.10" stroke-width="0.70"/>
<line x1="267.4" y1="305.7" x2="125.8" y2="286.1" stroke="#e79681" stroke-opacity="0.10" stroke-width="0.70"/>
<line x1="267.4" y1="305.7" x2="357.4" y2="344.0" stroke="#e68d75" stroke-opacity="0.10" stroke-width="0.70"/>
<line x1="267.4" y1="305.7" x2="60.5" y2="310.4" stroke="#e79681" stroke-opacity="0.10" stroke-width="0.70"/>
<line x1="249.0" y1="125.3" x2="218.4" y2="203.5" stroke="#e6927c" stroke-opacity="0.10" stroke-width="0.70"/>
<line x1="249.0" y1="125.3" x2="217.7" y2="45.5" stroke="#e6927c" stroke-opacity="0.10" stroke-width="0.70"/>
<line x1="249.0" y1="125.3" x2="141.0" y2="88.5" stroke="#e6927c" stroke-opacity="0.10" stroke-width="0.70"/>
<line x1="249.0" y1="125.3" x2="148.6" y2="226.5" stroke="#e6927c" stroke-opacity="0.10" stroke-width="0.70"/>
<line x1="249.0" y1="125.3" x2="313.0" y2="158.0" stroke="#dd6052" stroke-opacity="0.10" stroke-width="0.70"/>
<line x1="249.0" y1="125.3" x2="266.0" y2="237.9" stroke="#e5886f" stroke-opacity="0.10" stroke-width="0.70"/>
<line x1="255.9" y1="206.1" x2="349.0" y2="116.5" stroke="#e79680" stroke-opacity="0.10" stroke-width="0.70"/>
<line x1="255.9" y1="206.1" x2="281.6" y2="106.9" stroke="#e5876b" stroke-opacity="0.10" stroke-width="0.70"/>
<line x1="255.9" y1="206.1" x2="198.0" y2="420.3" stroke="#e79680" stroke-opacity="0.10" stroke-width="0.70"/>
<line x1="282.0" y1="371.7" x2="491.6" y2="412.5" stroke="#e6927c" stroke-opacity="0.10" stroke-width="0.70"/>
<line x1="282.0" y1="371.7" x2="367.6" y2="310.0" stroke="#d76051" stroke-opacity="0.10" stroke-width="0.70"/>
<line x1="282.0" y1="371.7" x2="351.5" y2="517.3" stroke="#e6927c" stroke-opacity="0.10" stroke-width="0.70"/>
<line x1="322.5" y1="316.3" x2="251.6" y2="476.7" stroke="#e89a87" stroke-opacity="0.10" stroke-width="0.70"/>
<line x1="226.0" y1="314.5" x2="412.7" y2="64.0" stroke="#e7937e" stroke-opacity="0.10" stroke-width="0.70"/>
<line x1="226.0" y1="314.5" x2="266.0" y2="237.9" stroke="#e68a70" stroke-opacity="0.10" stroke-width="0.70"/>
<line x1="226.0" y1="314.5" x2="406.6" y2="252.5" stroke="#e7937e" stroke-opacity="0.10" stroke-width="0.70"/>
<line x1="473.0" y1="160.5" x2="468.0" y2="103.2" stroke="#e6927e" stroke-opacity="0.10" stroke-width="0.70"/>
<line x1="473.0" y1="160.5" x2="515.0" y2="160.5" stroke="#e6927e" stroke-opacity="0.10" stroke-width="0.70"/>
<line x1="473.0" y1="160.5" x2="443.0" y2="81.1" stroke="#e6927e" stroke-opacity="0.10" stroke-width="0.70"/>
<line x1="473.0" y1="160.5" x2="496.0" y2="129.0" stroke="#e6927e" stroke-opacity="0.10" stroke-width="0.70"/>
<line x1="473.0" y1="160.5" x2="418.0" y2="107.5" stroke="#e6927e" stroke-opacity="0.10" stroke-width="0.70"/>
<line x1="473.0" y1="160.5" x2="213.0" y2="79.5" stroke="#e6927e" stroke-opacity="0.10" stroke-width="0.70"/>
<line x1="473.0" y1="160.5" x2="367.6" y2="310.0" stroke="#d76052" stroke-opacity="0.10" stroke-width="0.70"/>
<line x1="350.7" y1="160.2" x2="253.0" y2="43.5" stroke="#e7967f" stroke-opacity="0.10" stroke-width="0.70"/>
<line x1="350.7" y1="160.2" x2="213.0" y2="79.5" stroke="#e89c87" stroke-opacity="0.10" stroke-width="0.70"/>
<line x1="350.7" y1="160.2" x2="283.0" y2="68.2" stroke="#e89c87" stroke-opacity="0.10" stroke-width="0.70"/>
<line x1="350.7" y1="160.2" x2="443.0" y2="81.1" stroke="#e89c87" stroke-opacity="0.10" stroke-width="0.70"/>
</g>
<g>
<circle cx="290.0" cy="30.8" r="2.8" fill="#f4cdb2" stroke="#b79a86" stroke-width="0.5"/>
<circle cx="350.0" cy="37.0" r="2.8" fill="#f4cdb2" stroke="#b79a86" stroke-width="0.5"/>
<circle cx="217.7" cy="45.5" r="2.8" fill="#f4cdb2" stroke="#b79a86" stroke-width="0.5"/>
<circle cx="319.0" cy="47.5" r="2.8" fill="#f4cdb2" stroke="#b79a86" stroke-width="0.5"/>
<circle cx="382.0" cy="50.5" r="2.8" fill="#f4cdb2" stroke="#b79a86" stroke-width="0.5"/>
<circle cx="412.7" cy="64.0" r="2.8" fill="#f4cdb2" stroke="#b79a86" stroke-width="0.5"/>
<circle cx="283.0" cy="68.2" r="2.8" fill="#f4cdb2" stroke="#b79a86" stroke-width="0.5"/>
<circle cx="354.0" cy="77.5" r="2.8" fill="#f4cdb2" stroke="#b79a86" stroke-width="0.5"/>
<circle cx="213.0" cy="79.5" r="2.8" fill="#f4cdb2" stroke="#b79a86" stroke-width="0.5"/>
<circle cx="249.0" cy="83.5" r="2.8" fill="#f4cdb2" stroke="#b79a86" stroke-width="0.5"/>
<circle cx="443.0" cy="81.1" r="2.8" fill="#f4cdb2" stroke="#b79a86" stroke-width="0.5"/>
<circle cx="319.0" cy="86.0" r="2.8" fill="#f4cdb2" stroke="#b79a86" stroke-width="0.5"/>
<circle cx="141.0" cy="88.5" r="2.8" fill="#f4cdb2" stroke="#b79a86" stroke-width="0.5"/>
<circle cx="384.5" cy="97.1" r="2.8" fill="#f4cdb2" stroke="#b79a86" stroke-width="0.5"/>
<circle cx="177.0" cy="101.5" r="2.8" fill="#f4cdb2" stroke="#b79a86" stroke-width="0.5"/>
<circle cx="468.0" cy="103.2" r="2.8" fill="#f4cdb2" stroke="#b79a86" stroke-width="0.5"/>
<circle cx="418.0" cy="107.5" r="2.8" fill="#f4cdb2" stroke="#b79a86" stroke-width="0.5"/>
<circle cx="213.0" cy="114.5" r="2.8" fill="#f4cdb2" stroke="#b79a86" stroke-width="0.5"/>
<circle cx="349.0" cy="116.5" r="2.8" fill="#f4cdb2" stroke="#b79a86" stroke-width="0.5"/>
<circle cx="313.0" cy="122.5" r="2.8" fill="#f4cdb2" stroke="#b79a86" stroke-width="0.5"/>
<circle cx="108.0" cy="124.0" r="2.8" fill="#f4cdb2" stroke="#b79a86" stroke-width="0.5"/>
<circle cx="145.0" cy="124.0" r="2.8" fill="#f4cdb2" stroke="#b79a86" stroke-width="0.5"/>
<circle cx="496.0" cy="129.0" r="2.8" fill="#f4cdb2" stroke="#b79a86" stroke-width="0.5"/>
<circle cx="450.0" cy="133.5" r="2.8" fill="#f4cdb2" stroke="#b79a86" stroke-width="0.5"/>
<circle cx="182.6" cy="142.3" r="2.8" fill="#f4cdb2" stroke="#b79a86" stroke-width="0.5"/>
<circle cx="412.7" cy="143.5" r="2.8" fill="#f4cdb2" stroke="#b79a86" stroke-width="0.5"/>
<circle cx="220.0" cy="150.5" r="2.8" fill="#f4cdb2" stroke="#b79a86" stroke-width="0.5"/>
<circle cx="113.5" cy="160.2" r="2.8" fill="#f4cdb2" stroke="#b79a86" stroke-width="0.5"/>
<circle cx="151.5" cy="160.2" r="2.8" fill="#f4cdb2" stroke="#b79a86" stroke-width="0.5"/>
<circle cx="515.0" cy="160.5" r="2.8" fill="#f4cdb2" stroke="#b79a86" stroke-width="0.5"/>
<circle cx="80.4" cy="165.5" r="2.8" fill="#f4cdb2" stroke="#b79a86" stroke-width="0.5"/>
<circle cx="436.5" cy="173.5" r="2.8" fill="#f4cdb2" stroke="#b79a86" stroke-width="0.5"/>
<circle cx="396.8" cy="175.5" r="2.8" fill="#f4cdb2" stroke="#b79a86" stroke-width="0.5"/>
<circle cx="158.9" cy="192.5" r="2.8" fill="#f4cdb2" stroke="#b79a86" stroke-width="0.5"/>
<circle cx="487.5" cy="193.8" r="2.8" fill="#f4cdb2" stroke="#b79a86" stroke-width="0.5"/>
<circle cx="371.0" cy="195.0" r="2.8" fill="#f4cdb2" stroke="#b79a86" stroke-width="0.5"/>
<circle cx="530.0" cy="195.0" r="2.8" fill="#f4cdb2" stroke="#b79a86" stroke-width="0.5"/>
<circle cx="119.0" cy="195.5" r="2.8" fill="#f4cdb2" stroke="#b79a86" stroke-width="0.5"/>
<circle cx="72.0" cy="201.2" r="2.8" fill="#f4cdb2" stroke="#b79a86" stroke-width="0.5"/>
<circle cx="218.4" cy="203.5" r="2.8" fill="#f4cdb2" stroke="#b79a86" stroke-width="0.5"/>
<circle cx="447.5" cy="206.8" r="2.8" fill="#f4cdb2" stroke="#b79a86" stroke-width="0.5"/>
<circle cx="414.0" cy="210.2" r="2.8" fill="#f4cdb2" stroke="#b79a86" stroke-width="0.5"/>
<circle cx="186.0" cy="220.5" r="2.8" fill="#f4cdb2" stroke="#b79a86" stroke-width="0.5"/>
<circle cx="510.0" cy="222.5" r="2.8" fill="#f4cdb2" stroke="#b79a86" stroke-width="0.5"/>
<circle cx="100.0" cy="224.5" r="2.8" fill="#f4cdb2" stroke="#b79a86" stroke-width="0.5"/>
<circle cx="148.6" cy="226.5" r="2.8" fill="#f4cdb2" stroke="#b79a86" stroke-width="0.5"/>
<circle cx="378.0" cy="231.0" r="2.8" fill="#f4cdb2" stroke="#b79a86" stroke-width="0.5"/>
<circle cx="476.4" cy="233.0" r="2.8" fill="#f4cdb2" stroke="#b79a86" stroke-width="0.5"/>
<circle cx="542.5" cy="236.5" r="2.8" fill="#f4cdb2" stroke="#b79a86" stroke-width="0.5"/>
<circle cx="62.0" cy="236.5" r="2.8" fill="#f4cdb2" stroke="#b79a86" stroke-width="0.5"/>
<circle cx="439.0" cy="244.0" r="2.8" fill="#f4cdb2" stroke="#b79a86" stroke-width="0.5"/>
<circle cx="122.8" cy="250.5" r="2.8" fill="#f4cdb2" stroke="#b79a86" stroke-width="0.5"/>
<circle cx="406.6" cy="252.5" r="2.8" fill="#f4cdb2" stroke="#b79a86" stroke-width="0.5"/>
<circle cx="509.0" cy="259.5" r="2.8" fill="#f4cdb2" stroke="#b79a86" stroke-width="0.5"/>
<circle cx="161.8" cy="261.1" r="2.8" fill="#f4cdb2" stroke="#b79a86" stroke-width="0.5"/>
<circle cx="90.0" cy="267.8" r="2.8" fill="#f4cdb2" stroke="#b79a86" stroke-width="0.5"/>
<circle cx="474.7" cy="271.5" r="2.8" fill="#f4cdb2" stroke="#b79a86" stroke-width="0.5"/>
<circle cx="67.9" cy="274.6" r="2.8" fill="#f4cdb2" stroke="#b79a86" stroke-width="0.5"/>
<circle cx="545.0" cy="277.8" r="2.8" fill="#f4cdb2" stroke="#b79a86" stroke-width="0.5"/>
<circle cx="125.8" cy="286.1" r="2.8" fill="#f4cdb2" stroke="#b79a86" stroke-width="0.5"/>
<circle cx="507.8" cy="295.9" r="2.8" fill="#f4cdb2" stroke="#b79a86" stroke-width="0.5"/>
<circle cx="404.0" cy="297.5" r="2.8" fill="#f4cdb2" stroke="#b79a86" stroke-width="0.5"/>
<circle cx="160.0" cy="297.9" r="2.8" fill="#f4cdb2" stroke="#b79a86" stroke-width="0.5"/>
<circle cx="468.6" cy="308.2" r="2.8" fill="#f4cdb2" stroke="#b79a86" stroke-width="0.5"/>
<circle cx="95.2" cy="308.3" r="2.8" fill="#f4cdb2" stroke="#b79a86" stroke-width="0.5"/>
<circle cx="60.5" cy="310.4" r="2.8" fill="#f4cdb2" stroke="#b79a86" stroke-width="0.5"/>
<circle cx="540.0" cy="316.3" r="2.8" fill="#f4cdb2" stroke="#b79a86" stroke-width="0.5"/>
<circle cx="436.0" cy="320.5" r="2.8" fill="#f4cdb2" stroke="#b79a86" stroke-width="0.5"/>
<circle cx="135.6" cy="324.3" r="2.8" fill="#f4cdb2" stroke="#b79a86" stroke-width="0.5"/>
<circle cx="179.7" cy="331.0" r="2.8" fill="#f4cdb2" stroke="#b79a86" stroke-width="0.5"/>
<circle cx="501.7" cy="331.0" r="2.8" fill="#f4cdb2" stroke="#b79a86" stroke-width="0.5"/>
<circle cx="250.7" cy="340.8" r="2.8" fill="#f4cdb2" stroke="#b79a86" stroke-width="0.5"/>
<circle cx="68.2" cy="346.5" r="2.8" fill="#f4cdb2" stroke="#b79a86" stroke-width="0.5"/>
<circle cx="104.2" cy="346.5" r="2.8" fill="#f4cdb2" stroke="#b79a86" stroke-width="0.5"/>
<circle cx="464.0" cy="347.5" r="2.8" fill="#f4cdb2" stroke="#b79a86" stroke-width="0.5"/>
<circle cx="212.0" cy="348.9" r="2.8" fill="#f4cdb2" stroke="#b79a86" stroke-width="0.5"/>
<circle cx="533.5" cy="353.0" r="2.8" fill="#f4cdb2" stroke="#b79a86" stroke-width="0.5"/>
<circle cx="144.2" cy="357.2" r="2.8" fill="#f4cdb2" stroke="#b79a86" stroke-width="0.5"/>
<circle cx="391.0" cy="367.0" r="2.8" fill="#f4cdb2" stroke="#b79a86" stroke-width="0.5"/>
<circle cx="495.0" cy="367.5" r="2.8" fill="#f4cdb2" stroke="#b79a86" stroke-width="0.5"/>
<circle cx="177.3" cy="369.5" r="2.8" fill="#f4cdb2" stroke="#b79a86" stroke-width="0.5"/>
<circle cx="244.0" cy="375.5" r="2.8" fill="#f4cdb2" stroke="#b79a86" stroke-width="0.5"/>
<circle cx="82.0" cy="379.5" r="2.8" fill="#f4cdb2" stroke="#b79a86" stroke-width="0.5"/>
<circle cx="119.7" cy="381.5" r="2.8" fill="#f4cdb2" stroke="#b79a86" stroke-width="0.5"/>
<circle cx="315.0" cy="386.0" r="2.8" fill="#f4cdb2" stroke="#b79a86" stroke-width="0.5"/>
<circle cx="463.0" cy="387.2" r="2.8" fill="#f4cdb2" stroke="#b79a86" stroke-width="0.5"/>
<circle cx="520.5" cy="392.1" r="2.8" fill="#f4cdb2" stroke="#b79a86" stroke-width="0.5"/>
<circle cx="159.6" cy="400.5" r="2.8" fill="#f4cdb2" stroke="#b79a86" stroke-width="0.5"/>
<circle cx="390.0" cy="405.1" r="2.8" fill="#f4cdb2" stroke="#b79a86" stroke-width="0.5"/>
<circle cx="95.9" cy="411.5" r="2.8" fill="#f4cdb2" stroke="#b79a86" stroke-width="0.5"/>
<circle cx="238.7" cy="411.5" r="2.8" fill="#f4cdb2" stroke="#b79a86" stroke-width="0.5"/>
<circle cx="491.6" cy="412.5" r="2.8" fill="#f4cdb2" stroke="#b79a86" stroke-width="0.5"/>
<circle cx="198.0" cy="420.3" r="2.8" fill="#f4cdb2" stroke="#b79a86" stroke-width="0.5"/>
<circle cx="452.6" cy="424.7" r="2.8" fill="#f4cdb2" stroke="#b79a86" stroke-width="0.5"/>
<circle cx="136.3" cy="425.5" r="2.8" fill="#f4cdb2" stroke="#b79a86" stroke-width="0.5"/>
<circle cx="307.8" cy="430.1" r="2.8" fill="#f4cdb2" stroke="#b79a86" stroke-width="0.5"/>
<circle cx="371.0" cy="432.8" r="2.8" fill="#f4cdb2" stroke="#b79a86" stroke-width="0.5"/>
<circle cx="420.0" cy="438.0" r="2.8" fill="#f4cdb2" stroke="#b79a86" stroke-width="0.5"/>
<circle cx="171.6" cy="439.5" r="2.8" fill="#f4cdb2" stroke="#b79a86" stroke-width="0.5"/>
<circle cx="268.0" cy="441.2" r="2.8" fill="#f4cdb2" stroke="#b79a86" stroke-width="0.5"/>
<circle cx="230.6" cy="446.1" r="2.8" fill="#f4cdb2" stroke="#b79a86" stroke-width="0.5"/>
<circle cx="482.5" cy="446.1" r="2.8" fill="#f4cdb2" stroke="#b79a86" stroke-width="0.5"/>
<circle cx="338.0" cy="451.0" r="2.8" fill="#f4cdb2" stroke="#b79a86" stroke-width="0.5"/>
<circle cx="131.0" cy="455.9" r="2.8" fill="#f4cdb2" stroke="#b79a86" stroke-width="0.5"/>
<circle cx="395.0" cy="461.0" r="2.8" fill="#f4cdb2" stroke="#b79a86" stroke-width="0.5"/>
<circle cx="296.8" cy="463.5" r="2.8" fill="#f4cdb2" stroke="#b79a86" stroke-width="0.5"/>
<circle cx="204.2" cy="465.8" r="2.8" fill="#f4cdb2" stroke="#b79a86" stroke-width="0.5"/>
<circle cx="451.0" cy="467.5" r="2.8" fill="#f4cdb2" stroke="#b79a86" stroke-width="0.5"/>
<circle cx="162.6" cy="476.5" r="2.8" fill="#f4cdb2" stroke="#b79a86" stroke-width="0.5"/>
<circle cx="251.6" cy="476.7" r="2.8" fill="#f4cdb2" stroke="#b79a86" stroke-width="0.5"/>
<circle cx="363.7" cy="479.8" r="2.8" fill="#f4cdb2" stroke="#b79a86" stroke-width="0.5"/>
<circle cx="422.5" cy="487.1" r="2.8" fill="#f4cdb2" stroke="#b79a86" stroke-width="0.5"/>
<circle cx="326.0" cy="489.5" r="2.8" fill="#f4cdb2" stroke="#b79a86" stroke-width="0.5"/>
<circle cx="285.7" cy="496.8" r="2.8" fill="#f4cdb2" stroke="#b79a86" stroke-width="0.5"/>
<circle cx="193.5" cy="498.3" r="2.8" fill="#f4cdb2" stroke="#b79a86" stroke-width="0.5"/>
<circle cx="388.5" cy="504.5" r="2.8" fill="#f4cdb2" stroke="#b79a86" stroke-width="0.5"/>
<circle cx="228.0" cy="505.7" r="2.8" fill="#f4cdb2" stroke="#b79a86" stroke-width="0.5"/>
<circle cx="351.5" cy="517.3" r="2.8" fill="#f4cdb2" stroke="#b79a86" stroke-width="0.5"/>
<circle cx="261.8" cy="521.1" r="2.8" fill="#f4cdb2" stroke="#b79a86" stroke-width="0.5"/>
<circle cx="309.5" cy="524.0" r="2.8" fill="#f4cdb2" stroke="#b79a86" stroke-width="0.5"/>
<circle cx="253.0" cy="43.5" r="3.6" fill="#f2bc98" stroke="#b68d72" stroke-width="0.5"/>
<circle cx="177.7" cy="64.5" r="3.6" fill="#f0b490" stroke="#b4876c" stroke-width="0.5"/>
<circle cx="378.5" cy="137.5" r="3.8" fill="#f0ae86" stroke="#b48264" stroke-width="0.5"/>
<circle cx="276.7" cy="149.0" r="3.8" fill="#f0ae86" stroke="#b48264" stroke-width="0.5"/>
<circle cx="350.7" cy="160.2" r="3.8" fill="#f0ae86" stroke="#b48264" stroke-width="0.5"/>
<circle cx="266.0" cy="237.9" r="3.8" fill="#f0ae86" stroke="#b48264" stroke-width="0.5"/>
<circle cx="342.5" cy="250.0" r="3.8" fill="#f0b088" stroke="#b48466" stroke-width="0.5"/>
<circle cx="357.4" cy="344.0" r="3.8" fill="#f0b08a" stroke="#b48468" stroke-width="0.5"/>
<circle cx="305.4" cy="252.5" r="4.0" fill="#f0ac84" stroke="#b48163" stroke-width="0.5"/>
<circle cx="195.6" cy="294.9" r="4.0" fill="#f0aa80" stroke="#b48060" stroke-width="0.5"/>
<circle cx="322.5" cy="316.3" r="4.0" fill="#f0ac84" stroke="#b48163" stroke-width="0.5"/>
<circle cx="398.7" cy="332.2" r="4.0" fill="#f0ac84" stroke="#b48163" stroke-width="0.5"/>
<circle cx="430.0" cy="362.1" r="4.0" fill="#f0b08a" stroke="#b48468" stroke-width="0.5"/>
<circle cx="246.6" cy="173.0" r="4.4" fill="#ee9c6e" stroke="#b27552" stroke-width="0.5"/>
<circle cx="255.9" cy="206.1" r="4.4" fill="#ee9c6e" stroke="#b27552" stroke-width="0.5"/>
<circle cx="425.0" cy="398.3" r="4.4" fill="#f0ae88" stroke="#b48266" stroke-width="0.5"/>
<circle cx="281.6" cy="106.9" r="4.5" fill="#ee9a6c" stroke="#b27451" stroke-width="0.5"/>
<circle cx="473.0" cy="160.5" r="4.5" fill="#ec9066" stroke="#b16c4c" stroke-width="0.5"/>
<circle cx="194.4" cy="178.4" r="4.5" fill="#efa47a" stroke="#b37b5c" stroke-width="0.5"/>
<circle cx="198.0" cy="257.0" r="4.5" fill="#efa47a" stroke="#b37b5c" stroke-width="0.5"/>
<circle cx="267.4" cy="305.7" r="4.5" fill="#ee9c70" stroke="#b27554" stroke-width="0.5"/>
<circle cx="357.4" cy="381.5" r="4.5" fill="#ee9a6c" stroke="#b27451" stroke-width="0.5"/>
<circle cx="249.0" cy="125.3" r="5.0" fill="#ec8f62" stroke="#b16b4a" stroke-width="0.5"/>
<circle cx="226.0" cy="314.5" r="5.0" fill="#ee9466" stroke="#b26f4c" stroke-width="0.5"/>
<circle cx="288.2" cy="337.5" r="5.0" fill="#ee9a6c" stroke="#b27451" stroke-width="0.5"/>
<circle cx="282.0" cy="371.7" r="5.0" fill="#ec9060" stroke="#b16c48" stroke-width="0.5"/>
<circle cx="278.0" cy="406.1" r="5.0" fill="#ec9464" stroke="#b16f4b" stroke-width="0.5"/>
<circle cx="436.5" cy="280.2" r="5.4" fill="#ea8a5c" stroke="#b06845" stroke-width="0.5"/>
<circle cx="322.5" cy="351.8" r="6.5" fill="#ef8a5a" stroke="#b36844" stroke-width="0.5"/>
<circle cx="206.0" cy="387.5" r="6.9" fill="#ee7c4e" stroke="#b25d3a" stroke-width="0.5"/>
<circle cx="228.6" cy="240.2" r="7.2" fill="#ef8252" stroke="#b3623e" stroke-width="0.5"/>
<circle cx="337.6" cy="284.0" r="7.5" fill="#ef8454" stroke="#b3633f" stroke-width="0.5"/>
<circle cx="341.0" cy="215.0" r="7.8" fill="#ee7240" stroke="#b25630" stroke-width="0.5"/>
<circle cx="340.4" cy="411.0" r="8.6" fill="#ee7a4a" stroke="#b25c38" stroke-width="0.5"/>
<circle cx="264.1" cy="271.6" r="8.9" fill="#ee6634" stroke="#b24c27" stroke-width="0.5"/>
<circle cx="300.5" cy="219.3" r="9.0" fill="#e8582c" stroke="#ae4221" stroke-width="0.5"/>
<circle cx="284.6" cy="183.0" r="9.3" fill="#ea5a2c" stroke="#b04421" stroke-width="0.5"/>
<circle cx="374.6" cy="271.6" r="9.8" fill="#ea5626" stroke="#b0401c" stroke-width="0.5"/>
<circle cx="327.6" cy="187.4" r="10.3" fill="#dc3026" stroke="#a5241c" stroke-width="0.5"/>
<circle cx="313.0" cy="158.0" r="11.0" fill="#d42424" stroke="#9f1b1b" stroke-width="0.5"/>
<circle cx="367.6" cy="310.0" r="12.8" fill="#bf2323" stroke="#8f1a1a" stroke-width="0.5"/>
<circle cx="300.8" cy="289.1" r="14.0" fill="#ad2323" stroke="#821a1a" stroke-width="0.5"/>
<circle cx="230.5" cy="279.2" r="16.0" fill="#982828" stroke="#721e1e" stroke-width="0.5"/>
</g>
<g text-anchor="middle" dominant-baseline="central">
<text x="290.0" y="29.6" font-size="11.4">妈妈</text>
<text x="253.0" y="42.3" font-size="11.4">车</text>
<text x="350.0" y="35.8" font-size="11.4">人员</text>
<text x="217.7" y="44.3" font-size="11.4">超高</text>
<text x="319.0" y="46.3" font-size="11.4">耐心</text>
<text x="382.0" y="49.3" font-size="11.4">工作人员</text>
<text x="177.7" y="63.3" font-size="11.4">不便</text>
<text x="412.7" y="62.8" font-size="11.4">叔叔</text>
<text x="283.0" y="67.0" font-size="11.4">购物</text>
<text x="354.0" y="76.3" font-size="11.4">精致</text>
<text x="213.0" y="78.3" font-size="11.4">超市</text>
<text x="249.0" y="82.3" font-size="11.4">房间装修</text>
<text x="443.0" y="79.9" font-size="11.4">景点</text>
<text x="319.0" y="84.8" font-size="11.4">详细</text>
<text x="141.0" y="87.3" font-size="11.4">低</text>
<text x="384.5" y="95.9" font-size="11.4">地址</text>
<text x="177.0" y="100.3" font-size="11.4">开车</text>
<text x="468.0" y="102.0" font-size="11.4">站</text>
<text x="281.6" y="105.7" font-size="11.4">交通</text>
<text x="418.0" y="106.3" font-size="11.4">地铁</text>
<text x="213.0" y="113.3" font-size="11.4">哥哥</text>
<text x="349.0" y="115.3" font-size="11.4">地理位置</text>
<text x="313.0" y="121.3" font-size="11.4">空间</text>
<text x="108.0" y="122.8" font-size="11.4">价位</text>
<text x="145.0" y="122.8" font-size="11.4">停车</text>
<text x="249.0" y="124.1" font-size="11.4">性价比</text>
<text x="496.0" y="127.8" font-size="11.4">景区</text>
<text x="450.0" y="132.3" font-size="11.4">菜</text>
<text x="378.5" y="136.3" font-size="11.4">院子</text>
<text x="182.6" y="141.1" font-size="11.4">一家人</text>
<text x="412.7" y="142.3" font-size="11.4">味道</text>
<text x="276.7" y="147.8" font-size="11.4">地点</text>
<text x="220.0" y="149.3" font-size="11.4">生活</text>
<text x="313.0" y="157.0" font-size="13.0" style="font-weight:700">热情</text>
<text x="350.7" y="159.0" font-size="11.4">还可以</text>
<text x="113.5" y="159.0" font-size="11.4">干净服务</text>
<text x="151.5" y="159.0" font-size="11.4">良好</text>
<text x="473.0" y="159.3" font-size="11.4">近</text>
<text x="515.0" y="159.3" font-size="11.4">距离</text>
<text x="80.4" y="164.3" font-size="11.4">信号</text>
<text x="246.6" y="171.8" font-size="11.4">体验</text>
<text x="436.5" y="172.3" font-size="11.4">条件</text>
<text x="396.8" y="174.3" font-size="11.4">布置</text>
<text x="194.4" y="177.2" font-size="11.4">合适</text>
<text x="284.6" y="182.0" font-size="12.5" style="font-weight:700">方便</text>
<text x="328.0" y="186.5" font-size="12.5" style="font-weight:700">很好</text>
<text x="158.9" y="191.3" font-size="11.4">不好</text>
<text x="487.5" y="192.6" font-size="11.4">枕头</text>
<text x="371.0" y="193.8" font-size="11.4">房主</text>
<text x="530.0" y="193.8" font-size="11.4">公寓</text>
<text x="119.0" y="194.3" font-size="11.4">通风</text>
<text x="72.0" y="200.0" font-size="11.4">位子</text>
<text x="218.4" y="202.3" font-size="11.4">高</text>
<text x="255.9" y="204.9" font-size="11.4">位置</text>
<text x="447.5" y="205.6" font-size="11.4">地段</text>
<text x="414.0" y="209.0" font-size="11.4">美</text>
<text x="341.0" y="213.5" font-size="12.3" style="font-weight:700">非常好</text>
<text x="300.5" y="218.5" font-size="12.5" style="font-weight:700">挺好</text>
<text x="186.0" y="219.3" font-size="11.4">主人</text>
<text x="510.0" y="221.3" font-size="11.4">被单</text>
<text x="100.0" y="223.3" font-size="11.4">采光</text>
<text x="148.6" y="225.3" font-size="11.4">价格</text>
<text x="378.0" y="229.8" font-size="11.4">姐姐</text>
<text x="476.4" y="231.8" font-size="11.4">床单</text>
<text x="542.5" y="235.3" font-size="11.4">很大</text>
<text x="62.0" y="235.3" font-size="11.4">性格</text>
<text x="266.0" y="236.7" font-size="11.4">房东</text>
<text x="229.0" y="239.5" font-size="12.3" style="font-weight:700">一般</text>
<text x="439.0" y="242.8" font-size="11.4">民宿</text>
<text x="342.5" y="248.8" font-size="11.4">人</text>
<text x="122.8" y="249.3" font-size="11.4">热水效果</text>
<text x="305.4" y="251.3" font-size="11.4">卫生</text>
<text x="406.6" y="251.3" font-size="11.4">入住体验</text>
<text x="198.0" y="255.8" font-size="11.4">差</text>
<text x="509.0" y="258.3" font-size="11.4">地板</text>
<text x="161.8" y="259.9" font-size="11.4">亲切</text>
<text x="90.0" y="266.6" font-size="11.4">光线</text>
<text x="474.7" y="270.3" font-size="11.4">简洁</text>
<text x="264.2" y="270.6" font-size="12.0" style="font-weight:700">感觉</text>
<text x="375.0" y="270.6" font-size="12.0" style="font-weight:700">干净</text>
<text x="67.9" y="273.4" font-size="11.4">效果</text>
<text x="545.0" y="276.6" font-size="11.4">软</text>
<text x="230.5" y="279.0" font-size="15.0" style="font-weight:700">好</text>
<text x="436.5" y="279.0" font-size="11.4">床</text>
<text x="337.5" y="283.0" font-size="12.0" style="font-weight:700">棒</text>
<text x="125.8" y="284.9" font-size="11.4">周边</text>
<text x="300.5" y="288.0" font-size="14.0" style="font-weight:700">不错</text>
<text x="195.6" y="293.7" font-size="11.4">赞</text>
<text x="507.8" y="294.7" font-size="11.4">不舒适</text>
<text x="404.0" y="296.3" font-size="11.4">房屋</text>
<text x="160.0" y="296.7" font-size="11.4">隔音</text>
<text x="267.4" y="304.5" font-size="11.4">环境</text>
<text x="468.6" y="307.0" font-size="11.4">舒适</text>
<text x="95.2" y="307.1" font-size="11.4">说话</text>
<text x="60.5" y="309.2" font-size="11.4">阳光</text>
<text x="367.5" y="310.0" font-size="13.0" style="font-weight:700">房间</text>
<text x="226.0" y="313.3" font-size="11.4">阿姨</text>
<text x="322.5" y="315.1" font-size="11.4">服务</text>
<text x="540.0" y="315.1" font-size="11.4">香</text>
<text x="436.0" y="319.3" font-size="11.4">不干净</text>
<text x="135.6" y="323.1" font-size="11.4">小区环境</text>
<text x="179.7" y="329.8" font-size="11.4">不行</text>
<text x="501.7" y="329.8" font-size="11.4">暖</text>
<text x="398.7" y="331.0" font-size="11.4">装修</text>
<text x="288.2" y="336.3" font-size="11.4">风格</text>
<text x="250.7" y="339.6" font-size="11.4">地方</text>
<text x="357.4" y="342.8" font-size="11.4">房源</text>
<text x="68.2" y="345.3" font-size="11.4">视野</text>
<text x="104.2" y="345.3" font-size="11.4">叔叔阿姨</text>
<text x="464.0" y="346.3" font-size="11.4">不大</text>
<text x="212.0" y="347.7" font-size="11.4">老板</text>
<text x="322.5" y="350.6" font-size="11.4">房子</text>
<text x="533.5" y="351.8" font-size="11.4">窗户</text>
<text x="144.2" y="356.0" font-size="11.4">方面</text>
<text x="430.0" y="360.9" font-size="11.4">大</text>
<text x="391.0" y="365.8" font-size="11.4">屋子</text>
<text x="495.0" y="366.3" font-size="11.4">多</text>
<text x="177.3" y="368.3" font-size="11.4">总体</text>
<text x="282.0" y="370.5" font-size="11.4">设施</text>
<text x="244.0" y="374.3" font-size="11.4">小院</text>
<text x="82.0" y="378.3" font-size="11.4">好客</text>
<text x="119.7" y="380.3" font-size="11.4">风景</text>
<text x="357.4" y="380.3" font-size="11.4">温馨</text>
<text x="315.0" y="384.8" font-size="11.4">整体</text>
<text x="463.0" y="386.0" font-size="11.4">暖和</text>
<text x="206.0" y="385.7" font-size="11.8" style="font-weight:700">安静</text>
<text x="520.5" y="390.9" font-size="11.4">灰</text>
<text x="425.0" y="397.1" font-size="11.4">小</text>
<text x="159.6" y="399.3" font-size="11.4">值</text>
<text x="390.0" y="403.9" font-size="11.4">整洁</text>
<text x="278.0" y="404.9" font-size="11.4">设计</text>
<text x="340.4" y="409.0" font-size="12.3" style="font-weight:700">舒服</text>
<text x="95.9" y="410.3" font-size="11.4">居住环境</text>
<text x="238.7" y="410.3" font-size="11.4">热水</text>
<text x="491.6" y="411.3" font-size="11.4">齐全</text>
<text x="198.0" y="419.1" font-size="11.4">便利</text>
<text x="452.6" y="423.5" font-size="11.4">明亮</text>
<text x="136.3" y="424.3" font-size="11.4">周边环境</text>
<text x="307.8" y="428.9" font-size="11.4">空间大</text>
<text x="371.0" y="431.6" font-size="11.4">声音</text>
<text x="420.0" y="436.8" font-size="11.4">很棒</text>
<text x="171.6" y="438.3" font-size="11.4">好找</text>
<text x="268.0" y="440.0" font-size="11.4">特别</text>
<text x="230.6" y="444.9" font-size="11.4">价位合理</text>
<text x="482.5" y="444.9" font-size="11.4">用品</text>
<text x="338.0" y="449.8" font-size="11.4">好看</text>
<text x="131.0" y="454.7" font-size="11.4">周围环境</text>
<text x="395.0" y="459.8" font-size="11.4">不小</text>
<text x="296.8" y="462.3" font-size="11.4">可爱</text>
<text x="204.2" y="464.6" font-size="11.4">独特</text>
<text x="451.0" y="466.3" font-size="11.4">设备</text>
<text x="162.6" y="475.3" font-size="11.4">小区</text>
<text x="251.6" y="475.5" font-size="11.4">态度</text>
<text x="363.7" y="478.6" font-size="11.4">装修风格</text>
<text x="422.5" y="485.9" font-size="11.4">小屋</text>
<text x="326.0" y="488.3" font-size="11.4">睡着</text>
<text x="285.7" y="495.6" font-size="11.4">床铺</text>
<text x="193.5" y="497.1" font-size="11.4">设计风格</text>
<text x="388.5" y="503.3" font-size="11.4">沙发</text>
<text x="228.0" y="504.5" font-size="11.4">狗狗</text>
<text x="351.5" y="516.1" font-size="11.4">床垫</text>
<text x="261.8" y="519.9" font-size="11.4">猫咪</text>
<text x="309.5" y="522.8" font-size="11.4">猫猫</text>
</g>
</g>
<g>
<g fill="none" stroke-linecap="round">
<line x1="828.2" y1="204.9" x2="848.0" y2="55.9" stroke="#a82020" stroke-opacity="0.80" stroke-width="1.10"/>
<line x1="828.2" y1="204.9" x2="757.0" y2="227.4" stroke="#a82020" stroke-opacity="0.85" stroke-width="1.20"/>
<line x1="828.2" y1="204.9" x2="763.2" y2="117.9" stroke="#a82828" stroke-opacity="0.60" stroke-width="1.00"/>
<line x1="828.2" y1="204.9" x2="765.0" y2="245.9" stroke="#c5665a" stroke-opacity="0.16" stroke-width="0.70"/>
<line x1="828.2" y1="204.9" x2="681.0" y2="377.2" stroke="#b34040" stroke-opacity="0.29" stroke-width="0.91"/>
<line x1="828.2" y1="204.9" x2="758.3" y2="355.5" stroke="#b04141" stroke-opacity="0.29" stroke-width="0.91"/>
<line x1="828.2" y1="204.9" x2="773.0" y2="189.0" stroke="#b02820" stroke-opacity="0.50" stroke-width="1.00"/>
<line x1="828.2" y1="204.9" x2="683.3" y2="131.0" stroke="#c25348" stroke-opacity="0.29" stroke-width="0.91"/>
<line x1="828.2" y1="204.9" x2="969.2" y2="216.1" stroke="#c25549" stroke-opacity="0.16" stroke-width="0.70"/>
<line x1="828.2" y1="204.9" x2="824.4" y2="65.7" stroke="#c66a5e" stroke-opacity="0.16" stroke-width="0.70"/>
<line x1="828.2" y1="204.9" x2="811.7" y2="76.3" stroke="#c67066" stroke-opacity="0.16" stroke-width="0.70"/>
<line x1="828.2" y1="204.9" x2="956.0" y2="303.8" stroke="#c67066" stroke-opacity="0.16" stroke-width="0.70"/>
<line x1="828.2" y1="204.9" x2="659.0" y2="128.0" stroke="#c67066" stroke-opacity="0.16" stroke-width="0.70"/>
<line x1="828.2" y1="204.9" x2="847.2" y2="155.8" stroke="#c67066" stroke-opacity="0.16" stroke-width="0.70"/>
<line x1="828.2" y1="204.9" x2="662.7" y2="150.5" stroke="#c67066" stroke-opacity="0.16" stroke-width="0.70"/>
<line x1="828.2" y1="204.9" x2="819.0" y2="172.5" stroke="#c67066" stroke-opacity="0.16" stroke-width="0.70"/>
<line x1="828.2" y1="204.9" x2="907.2" y2="140.0" stroke="#c67066" stroke-opacity="0.16" stroke-width="0.70"/>
<line x1="828.2" y1="204.9" x2="728.9" y2="252.2" stroke="#c5665a" stroke-opacity="0.16" stroke-width="0.70"/>
<line x1="828.2" y1="204.9" x2="736.2" y2="197.5" stroke="#c67066" stroke-opacity="0.16" stroke-width="0.70"/>
<line x1="828.2" y1="204.9" x2="833.2" y2="102.0" stroke="#c67066" stroke-opacity="0.16" stroke-width="0.70"/>
<line x1="828.2" y1="204.9" x2="840.2" y2="251.1" stroke="#c67066" stroke-opacity="0.16" stroke-width="0.70"/>
<line x1="828.2" y1="204.9" x2="736.0" y2="94.5" stroke="#c67066" stroke-opacity="0.16" stroke-width="0.70"/>
<line x1="828.2" y1="204.9" x2="759.5" y2="206.8" stroke="#c67066" stroke-opacity="0.16" stroke-width="0.70"/>
<line x1="828.2" y1="204.9" x2="735.5" y2="168.8" stroke="#c67066" stroke-opacity="0.16" stroke-width="0.70"/>
<line x1="828.2" y1="204.9" x2="776.5" y2="266.0" stroke="#c67066" stroke-opacity="0.16" stroke-width="0.70"/>
<line x1="828.2" y1="204.9" x2="803.5" y2="264.8" stroke="#c67066" stroke-opacity="0.16" stroke-width="0.70"/>
<line x1="828.2" y1="204.9" x2="680.3" y2="245.9" stroke="#c67066" stroke-opacity="0.16" stroke-width="0.70"/>
<line x1="828.2" y1="204.9" x2="867.3" y2="196.3" stroke="#c67066" stroke-opacity="0.16" stroke-width="0.70"/>
<line x1="828.2" y1="204.9" x2="674.2" y2="291.7" stroke="#c67066" stroke-opacity="0.16" stroke-width="0.70"/>
<line x1="828.2" y1="204.9" x2="936.2" y2="117.5" stroke="#c67066" stroke-opacity="0.16" stroke-width="0.70"/>
<line x1="828.2" y1="204.9" x2="792.5" y2="177.9" stroke="#c67066" stroke-opacity="0.16" stroke-width="0.70"/>
<line x1="828.2" y1="204.9" x2="904.8" y2="65.2" stroke="#c67066" stroke-opacity="0.16" stroke-width="0.70"/>
<line x1="828.2" y1="204.9" x2="899.9" y2="312.1" stroke="#c67066" stroke-opacity="0.16" stroke-width="0.70"/>
<line x1="828.2" y1="204.9" x2="873.0" y2="82.4" stroke="#c67066" stroke-opacity="0.16" stroke-width="0.70"/>
<line x1="828.2" y1="204.9" x2="893.8" y2="198.0" stroke="#c67066" stroke-opacity="0.16" stroke-width="0.70"/>
<line x1="828.2" y1="204.9" x2="833.2" y2="271.5" stroke="#c67066" stroke-opacity="0.16" stroke-width="0.70"/>
<line x1="828.2" y1="204.9" x2="786.3" y2="289.3" stroke="#c67066" stroke-opacity="0.16" stroke-width="0.70"/>
<line x1="828.2" y1="204.9" x2="724.7" y2="307.7" stroke="#c67066" stroke-opacity="0.16" stroke-width="0.70"/>
<line x1="828.2" y1="204.9" x2="821.0" y2="308.9" stroke="#c67066" stroke-opacity="0.16" stroke-width="0.70"/>
<line x1="828.2" y1="204.9" x2="794.3" y2="33.0" stroke="#c25549" stroke-opacity="0.29" stroke-width="0.91"/>
<line x1="828.2" y1="204.9" x2="871.7" y2="212.2" stroke="#c67066" stroke-opacity="0.16" stroke-width="0.70"/>
<line x1="828.2" y1="204.9" x2="943.8" y2="388.6" stroke="#c5665a" stroke-opacity="0.16" stroke-width="0.70"/>
<line x1="828.2" y1="204.9" x2="744.3" y2="291.3" stroke="#c46052" stroke-opacity="0.16" stroke-width="0.70"/>
<line x1="828.2" y1="204.9" x2="916.0" y2="245.3" stroke="#c46154" stroke-opacity="0.16" stroke-width="0.70"/>
<line x1="828.2" y1="204.9" x2="798.8" y2="340.4" stroke="#c67066" stroke-opacity="0.16" stroke-width="0.70"/>
<line x1="828.2" y1="204.9" x2="839.1" y2="392.9" stroke="#c67066" stroke-opacity="0.16" stroke-width="0.70"/>
<line x1="828.2" y1="204.9" x2="710.0" y2="206.8" stroke="#c67066" stroke-opacity="0.16" stroke-width="0.70"/>
<line x1="828.2" y1="204.9" x2="841.0" y2="230.5" stroke="#c67066" stroke-opacity="0.16" stroke-width="0.70"/>
<line x1="828.2" y1="204.9" x2="1103.0" y2="182.7" stroke="#c67066" stroke-opacity="0.16" stroke-width="0.70"/>
<line x1="828.2" y1="204.9" x2="857.0" y2="106.9" stroke="#c46153" stroke-opacity="0.16" stroke-width="0.70"/>
<line x1="828.2" y1="204.9" x2="896.2" y2="222.0" stroke="#c67066" stroke-opacity="0.16" stroke-width="0.70"/>
<line x1="828.2" y1="204.9" x2="673.2" y2="175.9" stroke="#c67066" stroke-opacity="0.16" stroke-width="0.70"/>
<line x1="828.2" y1="204.9" x2="688.0" y2="61.5" stroke="#c67066" stroke-opacity="0.16" stroke-width="0.70"/>
<line x1="828.2" y1="204.9" x2="716.6" y2="176.6" stroke="#c67066" stroke-opacity="0.16" stroke-width="0.70"/>
<line x1="828.2" y1="204.9" x2="742.4" y2="68.2" stroke="#c5665a" stroke-opacity="0.16" stroke-width="0.70"/>
<line x1="828.2" y1="204.9" x2="963.1" y2="331.2" stroke="#c46154" stroke-opacity="0.16" stroke-width="0.70"/>
<line x1="828.2" y1="204.9" x2="766.9" y2="59.8" stroke="#c67066" stroke-opacity="0.16" stroke-width="0.70"/>
<line x1="828.2" y1="204.9" x2="1153.2" y2="389.7" stroke="#c67066" stroke-opacity="0.16" stroke-width="0.70"/>
<line x1="828.2" y1="204.9" x2="635.7" y2="221.5" stroke="#c45d50" stroke-opacity="0.16" stroke-width="0.70"/>
<line x1="828.2" y1="204.9" x2="1104.5" y2="280.5" stroke="#c5665a" stroke-opacity="0.16" stroke-width="0.70"/>
<line x1="828.2" y1="204.9" x2="1166.7" y2="191.7" stroke="#c45c50" stroke-opacity="0.16" stroke-width="0.70"/>
<line x1="828.2" y1="204.9" x2="920.7" y2="299.1" stroke="#c67066" stroke-opacity="0.16" stroke-width="0.70"/>
<line x1="828.2" y1="204.9" x2="1191.5" y2="407.8" stroke="#c67066" stroke-opacity="0.16" stroke-width="0.70"/>
<line x1="828.2" y1="204.9" x2="792.5" y2="160.0" stroke="#c5665a" stroke-opacity="0.16" stroke-width="0.70"/>
<line x1="828.2" y1="204.9" x2="1147.0" y2="459.1" stroke="#c5665a" stroke-opacity="0.16" stroke-width="0.70"/>
<line x1="828.2" y1="204.9" x2="899.4" y2="177.4" stroke="#c67066" stroke-opacity="0.16" stroke-width="0.70"/>
<line x1="828.2" y1="204.9" x2="874.7" y2="238.7" stroke="#c67066" stroke-opacity="0.16" stroke-width="0.70"/>
<line x1="828.2" y1="204.9" x2="798.0" y2="236.7" stroke="#c67066" stroke-opacity="0.16" stroke-width="0.70"/>
<line x1="828.2" y1="204.9" x2="673.2" y2="272.9" stroke="#c67066" stroke-opacity="0.16" stroke-width="0.70"/>
<line x1="828.2" y1="204.9" x2="877.6" y2="257.9" stroke="#c67066" stroke-opacity="0.16" stroke-width="0.70"/>
<line x1="828.2" y1="204.9" x2="946.5" y2="188.5" stroke="#c67066" stroke-opacity="0.16" stroke-width="0.70"/>
<line x1="828.2" y1="204.9" x2="904.3" y2="258.7" stroke="#c67066" stroke-opacity="0.16" stroke-width="0.70"/>
<line x1="828.2" y1="204.9" x2="942.8" y2="141.5" stroke="#c67066" stroke-opacity="0.16" stroke-width="0.70"/>
<line x1="828.2" y1="204.9" x2="702.6" y2="222.5" stroke="#c67066" stroke-opacity="0.16" stroke-width="0.70"/>
<line x1="828.2" y1="204.9" x2="926.0" y2="223.2" stroke="#c67066" stroke-opacity="0.16" stroke-width="0.70"/>
<line x1="828.2" y1="204.9" x2="639.0" y2="254.3" stroke="#c0423f" stroke-opacity="0.29" stroke-width="0.91"/>
<line x1="828.2" y1="204.9" x2="673.2" y2="100.5" stroke="#c24b40" stroke-opacity="0.29" stroke-width="0.91"/>
<line x1="828.2" y1="204.9" x2="880.8" y2="279.2" stroke="#c24e42" stroke-opacity="0.29" stroke-width="0.91"/>
<line x1="828.2" y1="204.9" x2="819.0" y2="133.6" stroke="#c25548" stroke-opacity="0.29" stroke-width="0.91"/>
<line x1="828.2" y1="204.9" x2="806.3" y2="102.5" stroke="#c24f46" stroke-opacity="0.29" stroke-width="0.91"/>
<line x1="828.2" y1="204.9" x2="779.3" y2="521.2" stroke="#c25248" stroke-opacity="0.29" stroke-width="0.91"/>
<line x1="828.2" y1="204.9" x2="1125.8" y2="295.0" stroke="#bb403f" stroke-opacity="0.29" stroke-width="0.91"/>
<line x1="828.2" y1="204.9" x2="665.9" y2="336.8" stroke="#c2493f" stroke-opacity="0.29" stroke-width="0.91"/>
<line x1="828.2" y1="204.9" x2="1024.4" y2="400.0" stroke="#c1473f" stroke-opacity="0.29" stroke-width="0.91"/>
<line x1="828.2" y1="204.9" x2="753.4" y2="161.9" stroke="#c67066" stroke-opacity="0.16" stroke-width="0.70"/>
<line x1="828.2" y1="204.9" x2="765.6" y2="152.1" stroke="#c67066" stroke-opacity="0.16" stroke-width="0.70"/>
<line x1="828.2" y1="204.9" x2="842.3" y2="286.1" stroke="#c67066" stroke-opacity="0.16" stroke-width="0.70"/>
<line x1="828.2" y1="204.9" x2="855.3" y2="315.5" stroke="#c67066" stroke-opacity="0.16" stroke-width="0.70"/>
<line x1="828.2" y1="204.9" x2="662.0" y2="207.8" stroke="#c67066" stroke-opacity="0.16" stroke-width="0.70"/>
<line x1="828.2" y1="204.9" x2="893.8" y2="108.5" stroke="#c67066" stroke-opacity="0.16" stroke-width="0.70"/>
<line x1="828.2" y1="204.9" x2="935.4" y2="84.8" stroke="#c6685c" stroke-opacity="0.16" stroke-width="0.70"/>
<line x1="758.3" y1="355.5" x2="681.0" y2="377.2" stroke="#bf4040" stroke-opacity="0.29" stroke-width="0.91"/>
<line x1="758.3" y1="355.5" x2="765.0" y2="245.9" stroke="#d1675a" stroke-opacity="0.16" stroke-width="0.70"/>
<line x1="758.3" y1="355.5" x2="848.0" y2="55.9" stroke="#cf5d51" stroke-opacity="0.16" stroke-width="0.70"/>
<line x1="758.3" y1="355.5" x2="779.3" y2="521.2" stroke="#ce5249" stroke-opacity="0.29" stroke-width="0.91"/>
<line x1="758.3" y1="355.5" x2="935.4" y2="84.8" stroke="#d1695d" stroke-opacity="0.16" stroke-width="0.70"/>
<line x1="758.3" y1="355.5" x2="744.3" y2="291.3" stroke="#d06052" stroke-opacity="0.16" stroke-width="0.70"/>
<line x1="758.3" y1="355.5" x2="745.5" y2="259.5" stroke="#d1675a" stroke-opacity="0.16" stroke-width="0.70"/>
<line x1="758.3" y1="355.5" x2="673.2" y2="272.9" stroke="#d27067" stroke-opacity="0.16" stroke-width="0.70"/>
<line x1="758.3" y1="355.5" x2="763.2" y2="117.9" stroke="#cf5d51" stroke-opacity="0.16" stroke-width="0.70"/>
<line x1="758.3" y1="355.5" x2="932.7" y2="375.2" stroke="#d1675a" stroke-opacity="0.16" stroke-width="0.70"/>
<line x1="758.3" y1="355.5" x2="757.0" y2="227.4" stroke="#cf5e51" stroke-opacity="0.16" stroke-width="0.70"/>
<line x1="758.3" y1="355.5" x2="773.0" y2="189.0" stroke="#ce4c42" stroke-opacity="0.29" stroke-width="0.91"/>
<line x1="758.3" y1="355.5" x2="956.0" y2="303.8" stroke="#d27067" stroke-opacity="0.16" stroke-width="0.70"/>
<line x1="758.3" y1="355.5" x2="1147.0" y2="459.1" stroke="#d1675a" stroke-opacity="0.16" stroke-width="0.70"/>
<line x1="758.3" y1="355.5" x2="776.5" y2="266.0" stroke="#d27067" stroke-opacity="0.16" stroke-width="0.70"/>
<line x1="758.3" y1="355.5" x2="943.8" y2="388.6" stroke="#d1675a" stroke-opacity="0.16" stroke-width="0.70"/>
<line x1="758.3" y1="355.5" x2="1166.7" y2="191.7" stroke="#cf5d51" stroke-opacity="0.16" stroke-width="0.70"/>
<line x1="758.3" y1="355.5" x2="778.6" y2="446.1" stroke="#d1675a" stroke-opacity="0.16" stroke-width="0.70"/>
<line x1="758.3" y1="355.5" x2="732.5" y2="377.1" stroke="#d27067" stroke-opacity="0.16" stroke-width="0.70"/>
<line x1="758.3" y1="355.5" x2="818.5" y2="414.2" stroke="#d05f51" stroke-opacity="0.16" stroke-width="0.70"/>
<line x1="758.3" y1="355.5" x2="893.8" y2="400.7" stroke="#d06254" stroke-opacity="0.16" stroke-width="0.70"/>
<line x1="758.3" y1="355.5" x2="793.9" y2="398.3" stroke="#d27067" stroke-opacity="0.16" stroke-width="0.70"/>
<line x1="758.3" y1="355.5" x2="782.5" y2="376.2" stroke="#d27067" stroke-opacity="0.16" stroke-width="0.70"/>
<line x1="758.3" y1="355.5" x2="810.4" y2="438.7" stroke="#d27067" stroke-opacity="0.16" stroke-width="0.70"/>
<line x1="758.3" y1="355.5" x2="877.6" y2="257.9" stroke="#d27067" stroke-opacity="0.16" stroke-width="0.70"/>
<line x1="758.3" y1="355.5" x2="765.6" y2="152.1" stroke="#d27067" stroke-opacity="0.16" stroke-width="0.70"/>
<line x1="758.3" y1="355.5" x2="798.8" y2="340.4" stroke="#d27067" stroke-opacity="0.16" stroke-width="0.70"/>
<line x1="758.3" y1="355.5" x2="768.0" y2="317.5" stroke="#d27067" stroke-opacity="0.16" stroke-width="0.70"/>
<line x1="758.3" y1="355.5" x2="753.4" y2="161.9" stroke="#d27067" stroke-opacity="0.16" stroke-width="0.70"/>
<line x1="758.3" y1="355.5" x2="798.0" y2="236.7" stroke="#d27067" stroke-opacity="0.16" stroke-width="0.70"/>
<line x1="758.3" y1="355.5" x2="916.0" y2="245.3" stroke="#d06254" stroke-opacity="0.16" stroke-width="0.70"/>
<line x1="758.3" y1="355.5" x2="799.7" y2="356.5" stroke="#d1675a" stroke-opacity="0.16" stroke-width="0.70"/>
<line x1="758.3" y1="355.5" x2="768.0" y2="406.8" stroke="#d27067" stroke-opacity="0.16" stroke-width="0.70"/>
<line x1="758.3" y1="355.5" x2="786.3" y2="413.5" stroke="#d27067" stroke-opacity="0.16" stroke-width="0.70"/>
<line x1="758.3" y1="355.5" x2="752.2" y2="413.5" stroke="#d27067" stroke-opacity="0.16" stroke-width="0.70"/>
<line x1="758.3" y1="355.5" x2="738.7" y2="401.9" stroke="#d27067" stroke-opacity="0.16" stroke-width="0.70"/>
<line x1="758.3" y1="355.5" x2="708.5" y2="395.8" stroke="#d27067" stroke-opacity="0.16" stroke-width="0.70"/>
<line x1="758.3" y1="355.5" x2="899.9" y2="339.0" stroke="#d27067" stroke-opacity="0.16" stroke-width="0.70"/>
<line x1="758.3" y1="355.5" x2="862.6" y2="360.4" stroke="#d27067" stroke-opacity="0.16" stroke-width="0.70"/>
<line x1="758.3" y1="355.5" x2="883.2" y2="322.4" stroke="#d27067" stroke-opacity="0.16" stroke-width="0.70"/>
<line x1="758.3" y1="355.5" x2="786.3" y2="289.3" stroke="#d27067" stroke-opacity="0.16" stroke-width="0.70"/>
<line x1="758.3" y1="355.5" x2="803.5" y2="264.8" stroke="#d27067" stroke-opacity="0.16" stroke-width="0.70"/>
<line x1="758.3" y1="355.5" x2="899.9" y2="312.1" stroke="#d27067" stroke-opacity="0.16" stroke-width="0.70"/>
<line x1="758.3" y1="355.5" x2="821.0" y2="308.9" stroke="#d27067" stroke-opacity="0.16" stroke-width="0.70"/>
<line x1="758.3" y1="355.5" x2="840.6" y2="306.5" stroke="#d27067" stroke-opacity="0.16" stroke-width="0.70"/>
<line x1="758.3" y1="355.5" x2="810.4" y2="324.3" stroke="#d27067" stroke-opacity="0.16" stroke-width="0.70"/>
<line x1="758.3" y1="355.5" x2="777.8" y2="480.2" stroke="#d1675a" stroke-opacity="0.16" stroke-width="0.70"/>
<line x1="758.3" y1="355.5" x2="879.0" y2="413.5" stroke="#d1675a" stroke-opacity="0.16" stroke-width="0.70"/>
<line x1="758.3" y1="355.5" x2="879.0" y2="444.8" stroke="#d27067" stroke-opacity="0.16" stroke-width="0.70"/>
<line x1="758.3" y1="355.5" x2="839.1" y2="392.9" stroke="#d27067" stroke-opacity="0.16" stroke-width="0.70"/>
<line x1="758.3" y1="355.5" x2="738.3" y2="448.7" stroke="#d27067" stroke-opacity="0.16" stroke-width="0.70"/>
<line x1="758.3" y1="355.5" x2="833.2" y2="410.5" stroke="#d27067" stroke-opacity="0.16" stroke-width="0.70"/>
<line x1="758.3" y1="355.5" x2="741.1" y2="319.5" stroke="#d27067" stroke-opacity="0.16" stroke-width="0.70"/>
<line x1="758.3" y1="355.5" x2="724.7" y2="307.7" stroke="#d27067" stroke-opacity="0.16" stroke-width="0.70"/>
<line x1="758.3" y1="355.5" x2="777.4" y2="95.1" stroke="#d1675a" stroke-opacity="0.16" stroke-width="0.70"/>
<line x1="681.0" y1="377.2" x2="665.9" y2="336.8" stroke="#d03020" stroke-opacity="0.50" stroke-width="1.00"/>
<line x1="681.0" y1="377.2" x2="932.7" y2="375.2" stroke="#d36659" stroke-opacity="0.16" stroke-width="0.70"/>
<line x1="681.0" y1="377.2" x2="865.1" y2="333.5" stroke="#d46f66" stroke-opacity="0.16" stroke-width="0.70"/>
<line x1="681.0" y1="377.2" x2="708.5" y2="395.8" stroke="#d46f66" stroke-opacity="0.16" stroke-width="0.70"/>
<line x1="681.0" y1="377.2" x2="899.9" y2="339.0" stroke="#d46f66" stroke-opacity="0.16" stroke-width="0.70"/>
<line x1="681.0" y1="377.2" x2="777.8" y2="480.2" stroke="#d36659" stroke-opacity="0.16" stroke-width="0.70"/>
<line x1="681.0" y1="377.2" x2="778.6" y2="446.1" stroke="#d36659" stroke-opacity="0.16" stroke-width="0.70"/>
<line x1="681.0" y1="377.2" x2="704.4" y2="299.1" stroke="#d36659" stroke-opacity="0.16" stroke-width="0.70"/>
<line x1="681.0" y1="377.2" x2="862.6" y2="360.4" stroke="#d46f66" stroke-opacity="0.16" stroke-width="0.70"/>
<line x1="681.0" y1="377.2" x2="929.8" y2="443.5" stroke="#d46f66" stroke-opacity="0.16" stroke-width="0.70"/>
<line x1="681.0" y1="377.2" x2="855.3" y2="452.7" stroke="#d46f66" stroke-opacity="0.16" stroke-width="0.70"/>
<line x1="681.0" y1="377.2" x2="725.2" y2="340.8" stroke="#d46f66" stroke-opacity="0.16" stroke-width="0.70"/>
<line x1="681.0" y1="377.2" x2="768.0" y2="406.8" stroke="#d46f66" stroke-opacity="0.16" stroke-width="0.70"/>
<line x1="681.0" y1="377.2" x2="738.3" y2="448.7" stroke="#d46f66" stroke-opacity="0.16" stroke-width="0.70"/>
<line x1="681.0" y1="377.2" x2="840.6" y2="339.5" stroke="#d46f66" stroke-opacity="0.16" stroke-width="0.70"/>
<line x1="681.0" y1="377.2" x2="639.4" y2="432.1" stroke="#d46f66" stroke-opacity="0.16" stroke-width="0.70"/>
<line x1="681.0" y1="377.2" x2="924.4" y2="466.9" stroke="#d46f66" stroke-opacity="0.16" stroke-width="0.70"/>
<line x1="681.0" y1="377.2" x2="641.9" y2="368.9" stroke="#d46f66" stroke-opacity="0.16" stroke-width="0.70"/>
<line x1="681.0" y1="377.2" x2="662.0" y2="439.9" stroke="#d46f66" stroke-opacity="0.16" stroke-width="0.70"/>
<line x1="681.0" y1="377.2" x2="810.4" y2="324.3" stroke="#d46f66" stroke-opacity="0.16" stroke-width="0.70"/>
<line x1="681.0" y1="377.2" x2="837.6" y2="466.0" stroke="#d46f66" stroke-opacity="0.16" stroke-width="0.70"/>
<line x1="681.0" y1="377.2" x2="793.9" y2="398.3" stroke="#d46f66" stroke-opacity="0.16" stroke-width="0.70"/>
<line x1="681.0" y1="377.2" x2="818.5" y2="414.2" stroke="#d25e50" stroke-opacity="0.16" stroke-width="0.70"/>
<line x1="681.0" y1="377.2" x2="833.2" y2="410.5" stroke="#d46f66" stroke-opacity="0.16" stroke-width="0.70"/>
<line x1="681.0" y1="377.2" x2="857.7" y2="495.0" stroke="#d46f66" stroke-opacity="0.16" stroke-width="0.70"/>
<line x1="681.0" y1="377.2" x2="713.0" y2="324.8" stroke="#d46f66" stroke-opacity="0.16" stroke-width="0.70"/>
<line x1="681.0" y1="377.2" x2="696.3" y2="431.4" stroke="#d46f66" stroke-opacity="0.16" stroke-width="0.70"/>
<line x1="681.0" y1="377.2" x2="738.7" y2="401.9" stroke="#d46f66" stroke-opacity="0.16" stroke-width="0.70"/>
<line x1="681.0" y1="377.2" x2="694.0" y2="348.1" stroke="#d46f66" stroke-opacity="0.16" stroke-width="0.70"/>
<line x1="681.0" y1="377.2" x2="752.2" y2="413.5" stroke="#d46f66" stroke-opacity="0.16" stroke-width="0.70"/>
<line x1="681.0" y1="377.2" x2="732.5" y2="377.1" stroke="#d46f66" stroke-opacity="0.16" stroke-width="0.70"/>
<line x1="681.0" y1="377.2" x2="708.0" y2="461.1" stroke="#d46f66" stroke-opacity="0.16" stroke-width="0.70"/>
<line x1="681.0" y1="377.2" x2="946.5" y2="188.5" stroke="#d46f66" stroke-opacity="0.16" stroke-width="0.70"/>
<line x1="681.0" y1="377.2" x2="745.5" y2="259.5" stroke="#d36659" stroke-opacity="0.16" stroke-width="0.70"/>
<line x1="681.0" y1="377.2" x2="935.4" y2="84.8" stroke="#d4675b" stroke-opacity="0.16" stroke-width="0.70"/>
<line x1="681.0" y1="377.2" x2="893.8" y2="400.7" stroke="#d26153" stroke-opacity="0.16" stroke-width="0.70"/>
<line x1="681.0" y1="377.2" x2="779.3" y2="521.2" stroke="#d05148" stroke-opacity="0.29" stroke-width="0.91"/>
<line x1="681.0" y1="377.2" x2="768.0" y2="317.5" stroke="#d46f66" stroke-opacity="0.16" stroke-width="0.70"/>
<line x1="681.0" y1="377.2" x2="701.2" y2="164.4" stroke="#d46f66" stroke-opacity="0.16" stroke-width="0.70"/>
<line x1="681.0" y1="377.2" x2="737.5" y2="138.0" stroke="#d46f66" stroke-opacity="0.16" stroke-width="0.70"/>
<line x1="681.0" y1="377.2" x2="693.8" y2="488.2" stroke="#d46f66" stroke-opacity="0.16" stroke-width="0.70"/>
<line x1="681.0" y1="377.2" x2="649.0" y2="455.0" stroke="#d46f66" stroke-opacity="0.16" stroke-width="0.70"/>
<line x1="681.0" y1="377.2" x2="668.8" y2="400.7" stroke="#d46f66" stroke-opacity="0.16" stroke-width="0.70"/>
<line x1="681.0" y1="377.2" x2="786.3" y2="413.5" stroke="#d46f66" stroke-opacity="0.16" stroke-width="0.70"/>
<line x1="681.0" y1="377.2" x2="741.1" y2="319.5" stroke="#d46f66" stroke-opacity="0.16" stroke-width="0.70"/>
<line x1="681.0" y1="377.2" x2="724.7" y2="307.7" stroke="#d46f66" stroke-opacity="0.16" stroke-width="0.70"/>
<line x1="681.0" y1="377.2" x2="673.2" y2="272.9" stroke="#d46f66" stroke-opacity="0.16" stroke-width="0.70"/>
<line x1="681.0" y1="377.2" x2="674.2" y2="291.7" stroke="#d46f66" stroke-opacity="0.16" stroke-width="0.70"/>
<line x1="681.0" y1="377.2" x2="765.0" y2="245.9" stroke="#d36659" stroke-opacity="0.16" stroke-width="0.70"/>
<line x1="681.0" y1="377.2" x2="848.0" y2="55.9" stroke="#d15c4f" stroke-opacity="0.16" stroke-width="0.70"/>
<line x1="681.0" y1="377.2" x2="757.0" y2="227.4" stroke="#d15d50" stroke-opacity="0.16" stroke-width="0.70"/>
<line x1="681.0" y1="377.2" x2="639.0" y2="254.3" stroke="#ce413f" stroke-opacity="0.29" stroke-width="0.91"/>
<line x1="1125.8" y1="295.0" x2="639.0" y2="254.3" stroke="#d6413d" stroke-opacity="0.29" stroke-width="0.91"/>
<line x1="1125.8" y1="295.0" x2="765.0" y2="245.9" stroke="#db6658" stroke-opacity="0.16" stroke-width="0.70"/>
<line x1="1125.8" y1="295.0" x2="969.2" y2="216.1" stroke="#d95548" stroke-opacity="0.16" stroke-width="0.70"/>
<line x1="1125.8" y1="295.0" x2="776.5" y2="266.0" stroke="#dc6f64" stroke-opacity="0.16" stroke-width="0.70"/>
<line x1="1125.8" y1="295.0" x2="1115.9" y2="348.7" stroke="#dc6f64" stroke-opacity="0.16" stroke-width="0.70"/>
<line x1="1125.8" y1="295.0" x2="1001.6" y2="339.9" stroke="#dc6f64" stroke-opacity="0.16" stroke-width="0.70"/>
<line x1="1125.8" y1="295.0" x2="1006.0" y2="277.7" stroke="#dc6f64" stroke-opacity="0.16" stroke-width="0.70"/>
<line x1="1125.8" y1="295.0" x2="1181.0" y2="304.4" stroke="#dc6f64" stroke-opacity="0.16" stroke-width="0.70"/>
<line x1="1125.8" y1="295.0" x2="1186.6" y2="332.1" stroke="#dc6f64" stroke-opacity="0.16" stroke-width="0.70"/>
<line x1="1125.8" y1="295.0" x2="1086.8" y2="331.4" stroke="#dc6f64" stroke-opacity="0.16" stroke-width="0.70"/>
<line x1="1125.8" y1="295.0" x2="1048.3" y2="274.8" stroke="#dc6f64" stroke-opacity="0.16" stroke-width="0.70"/>
<line x1="1125.8" y1="295.0" x2="1092.8" y2="368.9" stroke="#dc6f64" stroke-opacity="0.16" stroke-width="0.70"/>
<line x1="1125.8" y1="295.0" x2="1153.2" y2="389.7" stroke="#dc6f64" stroke-opacity="0.16" stroke-width="0.70"/>
<line x1="1125.8" y1="295.0" x2="1059.5" y2="376.9" stroke="#dc6f64" stroke-opacity="0.16" stroke-width="0.70"/>
<line x1="1125.8" y1="295.0" x2="1104.5" y2="280.5" stroke="#da6658" stroke-opacity="0.16" stroke-width="0.70"/>
<line x1="1125.8" y1="295.0" x2="1023.5" y2="256.7" stroke="#db6658" stroke-opacity="0.16" stroke-width="0.70"/>
<line x1="1125.8" y1="295.0" x2="1039.8" y2="346.8" stroke="#dc6f64" stroke-opacity="0.16" stroke-width="0.70"/>
<line x1="1125.8" y1="295.0" x2="1181.7" y2="270.7" stroke="#dc6f64" stroke-opacity="0.16" stroke-width="0.70"/>
<line x1="1125.8" y1="295.0" x2="1141.0" y2="342.4" stroke="#dc6f64" stroke-opacity="0.16" stroke-width="0.70"/>
<line x1="1125.8" y1="295.0" x2="811.7" y2="76.3" stroke="#dc6f64" stroke-opacity="0.16" stroke-width="0.70"/>
<line x1="1125.8" y1="295.0" x2="759.5" y2="206.8" stroke="#dc6f64" stroke-opacity="0.16" stroke-width="0.70"/>
<line x1="1125.8" y1="295.0" x2="798.8" y2="340.4" stroke="#dc6f64" stroke-opacity="0.16" stroke-width="0.70"/>
<line x1="1125.8" y1="295.0" x2="766.9" y2="59.8" stroke="#dc6f64" stroke-opacity="0.16" stroke-width="0.70"/>
<line x1="1125.8" y1="295.0" x2="777.4" y2="95.1" stroke="#da6658" stroke-opacity="0.16" stroke-width="0.70"/>
<line x1="1125.8" y1="295.0" x2="896.2" y2="222.0" stroke="#dc6f64" stroke-opacity="0.16" stroke-width="0.70"/>
<line x1="1125.8" y1="295.0" x2="680.3" y2="245.9" stroke="#dc6f64" stroke-opacity="0.16" stroke-width="0.70"/>
<line x1="1125.8" y1="295.0" x2="736.2" y2="197.5" stroke="#dc6f64" stroke-opacity="0.16" stroke-width="0.70"/>
<line x1="1125.8" y1="295.0" x2="880.8" y2="279.2" stroke="#d84d40" stroke-opacity="0.29" stroke-width="0.91"/>
<line x1="1125.8" y1="295.0" x2="665.9" y2="336.8" stroke="#d8493d" stroke-opacity="0.29" stroke-width="0.91"/>
<line x1="1125.8" y1="295.0" x2="963.1" y2="331.2" stroke="#da6152" stroke-opacity="0.16" stroke-width="0.70"/>
<line x1="1125.8" y1="295.0" x2="956.0" y2="303.8" stroke="#dc6f64" stroke-opacity="0.16" stroke-width="0.70"/>
<line x1="1125.8" y1="295.0" x2="935.4" y2="275.8" stroke="#dc6f64" stroke-opacity="0.16" stroke-width="0.70"/>
<line x1="1125.8" y1="295.0" x2="934.0" y2="346.9" stroke="#dc6f64" stroke-opacity="0.16" stroke-width="0.70"/>
<line x1="1125.8" y1="295.0" x2="932.7" y2="375.2" stroke="#db6658" stroke-opacity="0.16" stroke-width="0.70"/>
<line x1="1125.8" y1="295.0" x2="943.8" y2="388.6" stroke="#da6658" stroke-opacity="0.16" stroke-width="0.70"/>
<line x1="1125.8" y1="295.0" x2="862.6" y2="360.4" stroke="#dc6f64" stroke-opacity="0.16" stroke-width="0.70"/>
<line x1="1125.8" y1="295.0" x2="865.1" y2="333.5" stroke="#dc6f64" stroke-opacity="0.16" stroke-width="0.70"/>
<line x1="1024.4" y1="400.0" x2="1147.0" y2="459.1" stroke="#e06040" stroke-opacity="0.50" stroke-width="0.90"/>
<line x1="1024.4" y1="400.0" x2="1106.0" y2="462.3" stroke="#e37664" stroke-opacity="0.16" stroke-width="0.70"/>
<line x1="1024.4" y1="400.0" x2="1038.3" y2="419.3" stroke="#e37664" stroke-opacity="0.16" stroke-width="0.70"/>
<line x1="1024.4" y1="400.0" x2="1164.5" y2="434.0" stroke="#e37664" stroke-opacity="0.16" stroke-width="0.70"/>
<line x1="1024.4" y1="400.0" x2="1009.0" y2="441.4" stroke="#e37664" stroke-opacity="0.16" stroke-width="0.70"/>
<line x1="1024.4" y1="400.0" x2="1191.5" y2="407.8" stroke="#e37664" stroke-opacity="0.16" stroke-width="0.70"/>
<line x1="1024.4" y1="400.0" x2="1149.0" y2="413.2" stroke="#e37664" stroke-opacity="0.16" stroke-width="0.70"/>
<line x1="1024.4" y1="400.0" x2="1003.2" y2="487.0" stroke="#e37664" stroke-opacity="0.16" stroke-width="0.70"/>
<line x1="1024.4" y1="400.0" x2="1047.6" y2="477.2" stroke="#e37664" stroke-opacity="0.16" stroke-width="0.70"/>
<line x1="1024.4" y1="400.0" x2="1025.9" y2="491.4" stroke="#e0644f" stroke-opacity="0.16" stroke-width="0.70"/>
<line x1="1024.4" y1="400.0" x2="997.6" y2="507.7" stroke="#e37664" stroke-opacity="0.16" stroke-width="0.70"/>
<line x1="1024.4" y1="400.0" x2="1042.0" y2="506.0" stroke="#e37664" stroke-opacity="0.16" stroke-width="0.70"/>
<line x1="1024.4" y1="400.0" x2="1153.2" y2="389.7" stroke="#e37664" stroke-opacity="0.16" stroke-width="0.70"/>
<line x1="1024.4" y1="400.0" x2="1070.5" y2="449.5" stroke="#e0634e" stroke-opacity="0.16" stroke-width="0.70"/>
<line x1="1024.4" y1="400.0" x2="1032.0" y2="447.5" stroke="#e37664" stroke-opacity="0.16" stroke-width="0.70"/>
<line x1="1024.4" y1="400.0" x2="757.0" y2="227.4" stroke="#e0644f" stroke-opacity="0.16" stroke-width="0.70"/>
<line x1="1024.4" y1="400.0" x2="874.7" y2="238.7" stroke="#e37664" stroke-opacity="0.16" stroke-width="0.70"/>
<line x1="1024.4" y1="400.0" x2="715.9" y2="234.2" stroke="#e37664" stroke-opacity="0.16" stroke-width="0.70"/>
<line x1="1024.4" y1="400.0" x2="792.5" y2="160.0" stroke="#e26d58" stroke-opacity="0.16" stroke-width="0.70"/>
<line x1="1024.4" y1="400.0" x2="840.6" y2="306.5" stroke="#e37664" stroke-opacity="0.16" stroke-width="0.70"/>
<line x1="1024.4" y1="400.0" x2="907.2" y2="140.0" stroke="#e37664" stroke-opacity="0.16" stroke-width="0.70"/>
<line x1="1024.4" y1="400.0" x2="792.5" y2="177.9" stroke="#e37664" stroke-opacity="0.16" stroke-width="0.70"/>
<line x1="1024.4" y1="400.0" x2="639.0" y2="254.3" stroke="#dd483d" stroke-opacity="0.29" stroke-width="0.91"/>
<line x1="1024.4" y1="400.0" x2="758.3" y2="355.5" stroke="#cd483f" stroke-opacity="0.29" stroke-width="0.91"/>
<line x1="1024.4" y1="400.0" x2="880.8" y2="279.2" stroke="#df5440" stroke-opacity="0.29" stroke-width="0.91"/>
<line x1="1024.4" y1="400.0" x2="673.2" y2="100.5" stroke="#de513f" stroke-opacity="0.29" stroke-width="0.91"/>
<line x1="1024.4" y1="400.0" x2="1092.8" y2="368.9" stroke="#e37664" stroke-opacity="0.16" stroke-width="0.70"/>
<line x1="1024.4" y1="400.0" x2="1006.0" y2="277.7" stroke="#e37664" stroke-opacity="0.16" stroke-width="0.70"/>
<line x1="1024.4" y1="400.0" x2="1001.6" y2="339.9" stroke="#e37664" stroke-opacity="0.16" stroke-width="0.70"/>
<line x1="1024.4" y1="400.0" x2="1039.8" y2="346.8" stroke="#e37664" stroke-opacity="0.16" stroke-width="0.70"/>
<line x1="1024.4" y1="400.0" x2="1059.5" y2="376.9" stroke="#e37664" stroke-opacity="0.16" stroke-width="0.70"/>
<line x1="1024.4" y1="400.0" x2="1086.8" y2="331.4" stroke="#e37664" stroke-opacity="0.16" stroke-width="0.70"/>
<line x1="1024.4" y1="400.0" x2="943.8" y2="388.6" stroke="#e26d58" stroke-opacity="0.16" stroke-width="0.70"/>
<line x1="1024.4" y1="400.0" x2="932.7" y2="375.2" stroke="#e26d58" stroke-opacity="0.16" stroke-width="0.70"/>
<line x1="1024.4" y1="400.0" x2="929.8" y2="443.5" stroke="#e37664" stroke-opacity="0.16" stroke-width="0.70"/>
<line x1="1024.4" y1="400.0" x2="862.6" y2="360.4" stroke="#e37664" stroke-opacity="0.16" stroke-width="0.70"/>
<line x1="1024.4" y1="400.0" x2="924.4" y2="466.9" stroke="#e37664" stroke-opacity="0.16" stroke-width="0.70"/>
<line x1="1024.4" y1="400.0" x2="963.1" y2="331.2" stroke="#e06852" stroke-opacity="0.16" stroke-width="0.70"/>
<line x1="639.0" y1="254.3" x2="880.8" y2="279.2" stroke="#de4f41" stroke-opacity="0.29" stroke-width="0.91"/>
<line x1="639.0" y1="254.3" x2="779.3" y2="521.2" stroke="#dd5347" stroke-opacity="0.29" stroke-width="0.91"/>
<line x1="639.0" y1="254.3" x2="840.2" y2="251.1" stroke="#e27165" stroke-opacity="0.16" stroke-width="0.70"/>
<line x1="639.0" y1="254.3" x2="798.0" y2="236.7" stroke="#e27165" stroke-opacity="0.16" stroke-width="0.70"/>
<line x1="639.0" y1="254.3" x2="874.7" y2="238.7" stroke="#e27165" stroke-opacity="0.16" stroke-width="0.70"/>
<line x1="639.0" y1="254.3" x2="969.2" y2="216.1" stroke="#de5748" stroke-opacity="0.16" stroke-width="0.70"/>
<line x1="639.0" y1="254.3" x2="765.0" y2="245.9" stroke="#e06758" stroke-opacity="0.16" stroke-width="0.70"/>
<line x1="639.0" y1="254.3" x2="848.0" y2="55.9" stroke="#df5e4f" stroke-opacity="0.16" stroke-width="0.70"/>
<line x1="639.0" y1="254.3" x2="757.0" y2="227.4" stroke="#df5e4f" stroke-opacity="0.16" stroke-width="0.70"/>
<line x1="639.0" y1="254.3" x2="665.9" y2="336.8" stroke="#e06050" stroke-opacity="0.40" stroke-width="0.90"/>
<line x1="639.0" y1="254.3" x2="673.2" y2="272.9" stroke="#e27165" stroke-opacity="0.16" stroke-width="0.70"/>
<line x1="639.0" y1="254.3" x2="674.2" y2="291.7" stroke="#e27165" stroke-opacity="0.16" stroke-width="0.70"/>
<line x1="639.0" y1="254.3" x2="680.3" y2="245.9" stroke="#e27165" stroke-opacity="0.16" stroke-width="0.70"/>
<line x1="639.0" y1="254.3" x2="635.7" y2="221.5" stroke="#df5e4f" stroke-opacity="0.16" stroke-width="0.70"/>
<line x1="639.0" y1="254.3" x2="662.0" y2="207.8" stroke="#e27165" stroke-opacity="0.16" stroke-width="0.70"/>
<line x1="639.0" y1="254.3" x2="821.0" y2="308.9" stroke="#e27165" stroke-opacity="0.16" stroke-width="0.70"/>
<line x1="639.0" y1="254.3" x2="773.0" y2="189.0" stroke="#dd4c40" stroke-opacity="0.29" stroke-width="0.91"/>
<line x1="639.0" y1="254.3" x2="744.3" y2="291.3" stroke="#df6151" stroke-opacity="0.16" stroke-width="0.70"/>
<line x1="639.0" y1="254.3" x2="932.7" y2="375.2" stroke="#e06758" stroke-opacity="0.16" stroke-width="0.70"/>
<line x1="639.0" y1="254.3" x2="763.2" y2="117.9" stroke="#df5d4f" stroke-opacity="0.16" stroke-width="0.70"/>
<line x1="639.0" y1="254.3" x2="745.5" y2="259.5" stroke="#e06758" stroke-opacity="0.16" stroke-width="0.70"/>
<line x1="639.0" y1="254.3" x2="1104.5" y2="280.5" stroke="#e06758" stroke-opacity="0.16" stroke-width="0.70"/>
<line x1="639.0" y1="254.3" x2="798.8" y2="340.4" stroke="#e27165" stroke-opacity="0.16" stroke-width="0.70"/>
<line x1="639.0" y1="254.3" x2="710.0" y2="206.8" stroke="#e27165" stroke-opacity="0.16" stroke-width="0.70"/>
<line x1="639.0" y1="254.3" x2="641.9" y2="368.9" stroke="#e27165" stroke-opacity="0.16" stroke-width="0.70"/>
<line x1="639.0" y1="254.3" x2="639.4" y2="432.1" stroke="#e27165" stroke-opacity="0.16" stroke-width="0.70"/>
<line x1="639.0" y1="254.3" x2="662.0" y2="439.9" stroke="#e27165" stroke-opacity="0.16" stroke-width="0.70"/>
<line x1="639.0" y1="254.3" x2="649.0" y2="455.0" stroke="#e27165" stroke-opacity="0.16" stroke-width="0.70"/>
<line x1="639.0" y1="254.3" x2="673.2" y2="175.9" stroke="#e27165" stroke-opacity="0.16" stroke-width="0.70"/>
<line x1="639.0" y1="254.3" x2="662.7" y2="150.5" stroke="#e27165" stroke-opacity="0.16" stroke-width="0.70"/>
<line x1="639.0" y1="254.3" x2="659.0" y2="128.0" stroke="#e27165" stroke-opacity="0.16" stroke-width="0.70"/>
<line x1="639.0" y1="254.3" x2="683.3" y2="131.0" stroke="#de5446" stroke-opacity="0.29" stroke-width="0.91"/>
<line x1="639.0" y1="254.3" x2="1166.7" y2="191.7" stroke="#df5d4f" stroke-opacity="0.16" stroke-width="0.70"/>
<line x1="639.0" y1="254.3" x2="1103.0" y2="182.7" stroke="#e27165" stroke-opacity="0.16" stroke-width="0.70"/>
<line x1="639.0" y1="254.3" x2="1118.8" y2="217.0" stroke="#e27165" stroke-opacity="0.16" stroke-width="0.70"/>
<line x1="639.0" y1="254.3" x2="715.9" y2="234.2" stroke="#e27165" stroke-opacity="0.16" stroke-width="0.70"/>
<line x1="639.0" y1="254.3" x2="728.9" y2="252.2" stroke="#e06758" stroke-opacity="0.16" stroke-width="0.70"/>
<line x1="639.0" y1="254.3" x2="713.0" y2="324.8" stroke="#e27165" stroke-opacity="0.16" stroke-width="0.70"/>
<line x1="639.0" y1="254.3" x2="704.4" y2="299.1" stroke="#e06758" stroke-opacity="0.16" stroke-width="0.70"/>
<line x1="639.0" y1="254.3" x2="694.0" y2="348.1" stroke="#e27165" stroke-opacity="0.16" stroke-width="0.70"/>
<line x1="673.2" y1="100.5" x2="758.3" y2="355.5" stroke="#cd4b41" stroke-opacity="0.29" stroke-width="0.91"/>
<line x1="673.2" y1="100.5" x2="773.0" y2="189.0" stroke="#df5541" stroke-opacity="0.29" stroke-width="0.91"/>
<line x1="673.2" y1="100.5" x2="819.0" y2="133.6" stroke="#df5f48" stroke-opacity="0.29" stroke-width="0.91"/>
<line x1="673.2" y1="100.5" x2="806.3" y2="102.5" stroke="#df5a46" stroke-opacity="0.29" stroke-width="0.91"/>
<line x1="673.2" y1="100.5" x2="880.8" y2="279.2" stroke="#df5842" stroke-opacity="0.29" stroke-width="0.91"/>
<line x1="673.2" y1="100.5" x2="847.2" y2="155.8" stroke="#e37a66" stroke-opacity="0.16" stroke-width="0.70"/>
<line x1="673.2" y1="100.5" x2="792.5" y2="160.0" stroke="#e2705a" stroke-opacity="0.16" stroke-width="0.70"/>
<line x1="673.2" y1="100.5" x2="792.5" y2="177.9" stroke="#e37a66" stroke-opacity="0.16" stroke-width="0.70"/>
<line x1="673.2" y1="100.5" x2="819.0" y2="172.5" stroke="#e37a66" stroke-opacity="0.16" stroke-width="0.70"/>
<line x1="673.2" y1="100.5" x2="765.6" y2="152.1" stroke="#e37a66" stroke-opacity="0.16" stroke-width="0.70"/>
<line x1="673.2" y1="100.5" x2="753.4" y2="161.9" stroke="#e37a66" stroke-opacity="0.16" stroke-width="0.70"/>
<line x1="673.2" y1="100.5" x2="735.5" y2="168.8" stroke="#e37a66" stroke-opacity="0.16" stroke-width="0.70"/>
<line x1="673.2" y1="100.5" x2="736.2" y2="197.5" stroke="#e37a66" stroke-opacity="0.16" stroke-width="0.70"/>
<line x1="673.2" y1="100.5" x2="759.5" y2="206.8" stroke="#e37a66" stroke-opacity="0.16" stroke-width="0.70"/>
<line x1="673.2" y1="100.5" x2="745.5" y2="259.5" stroke="#e2705a" stroke-opacity="0.16" stroke-width="0.70"/>
<line x1="673.2" y1="100.5" x2="673.2" y2="272.9" stroke="#e37a66" stroke-opacity="0.16" stroke-width="0.70"/>
<line x1="673.2" y1="100.5" x2="674.2" y2="291.7" stroke="#e37a66" stroke-opacity="0.16" stroke-width="0.70"/>
<line x1="673.2" y1="100.5" x2="680.3" y2="245.9" stroke="#e37a66" stroke-opacity="0.16" stroke-width="0.70"/>
<line x1="673.2" y1="100.5" x2="848.0" y2="55.9" stroke="#e06750" stroke-opacity="0.16" stroke-width="0.70"/>
<line x1="673.2" y1="100.5" x2="681.0" y2="377.2" stroke="#d04a40" stroke-opacity="0.29" stroke-width="0.91"/>
<line x1="673.2" y1="100.5" x2="683.3" y2="131.0" stroke="#df5d48" stroke-opacity="0.29" stroke-width="0.91"/>
<line x1="673.2" y1="100.5" x2="659.0" y2="128.0" stroke="#e37a66" stroke-opacity="0.16" stroke-width="0.70"/>
<line x1="673.2" y1="100.5" x2="736.0" y2="94.5" stroke="#e37a66" stroke-opacity="0.16" stroke-width="0.70"/>
<line x1="673.2" y1="100.5" x2="713.4" y2="113.0" stroke="#e37a66" stroke-opacity="0.16" stroke-width="0.70"/>
<line x1="673.2" y1="100.5" x2="742.4" y2="68.2" stroke="#e2705a" stroke-opacity="0.16" stroke-width="0.70"/>
<line x1="673.2" y1="100.5" x2="662.7" y2="150.5" stroke="#e37a66" stroke-opacity="0.16" stroke-width="0.70"/>
<line x1="673.2" y1="100.5" x2="673.2" y2="175.9" stroke="#e37a66" stroke-opacity="0.16" stroke-width="0.70"/>
<line x1="673.2" y1="100.5" x2="701.2" y2="164.4" stroke="#e37a66" stroke-opacity="0.16" stroke-width="0.70"/>
<line x1="673.2" y1="100.5" x2="662.0" y2="207.8" stroke="#e37a66" stroke-opacity="0.16" stroke-width="0.70"/>
<line x1="673.2" y1="100.5" x2="757.0" y2="227.4" stroke="#e06751" stroke-opacity="0.16" stroke-width="0.70"/>
<line x1="673.2" y1="100.5" x2="765.0" y2="245.9" stroke="#e2705a" stroke-opacity="0.16" stroke-width="0.70"/>
<line x1="673.2" y1="100.5" x2="763.2" y2="117.9" stroke="#e06650" stroke-opacity="0.16" stroke-width="0.70"/>
<line x1="673.2" y1="100.5" x2="833.2" y2="102.0" stroke="#e37a66" stroke-opacity="0.16" stroke-width="0.70"/>
<line x1="673.2" y1="100.5" x2="1166.7" y2="191.7" stroke="#e06650" stroke-opacity="0.16" stroke-width="0.70"/>
<line x1="673.2" y1="100.5" x2="766.9" y2="59.8" stroke="#e37a66" stroke-opacity="0.16" stroke-width="0.70"/>
<line x1="673.2" y1="100.5" x2="777.4" y2="95.1" stroke="#e2705a" stroke-opacity="0.16" stroke-width="0.70"/>
<line x1="673.2" y1="100.5" x2="737.5" y2="138.0" stroke="#e37a66" stroke-opacity="0.16" stroke-width="0.70"/>
<line x1="673.2" y1="100.5" x2="716.6" y2="176.6" stroke="#e37a66" stroke-opacity="0.16" stroke-width="0.70"/>
<line x1="673.2" y1="100.5" x2="635.7" y2="221.5" stroke="#e06750" stroke-opacity="0.16" stroke-width="0.70"/>
<line x1="673.2" y1="100.5" x2="639.0" y2="254.3" stroke="#dd4c3f" stroke-opacity="0.29" stroke-width="0.91"/>
<line x1="665.9" y1="336.8" x2="745.5" y2="259.5" stroke="#e26f58" stroke-opacity="0.16" stroke-width="0.70"/>
<line x1="665.9" y1="336.8" x2="662.0" y2="439.9" stroke="#e37964" stroke-opacity="0.16" stroke-width="0.70"/>
<line x1="665.9" y1="336.8" x2="758.3" y2="355.5" stroke="#cd4a3f" stroke-opacity="0.29" stroke-width="0.91"/>
<line x1="665.9" y1="336.8" x2="641.9" y2="368.9" stroke="#e37964" stroke-opacity="0.16" stroke-width="0.70"/>
<line x1="665.9" y1="336.8" x2="713.0" y2="324.8" stroke="#e37964" stroke-opacity="0.16" stroke-width="0.70"/>
<line x1="665.9" y1="336.8" x2="694.0" y2="348.1" stroke="#e37964" stroke-opacity="0.16" stroke-width="0.70"/>
<line x1="665.9" y1="336.8" x2="738.7" y2="401.9" stroke="#e37964" stroke-opacity="0.16" stroke-width="0.70"/>
<line x1="665.9" y1="336.8" x2="725.2" y2="340.8" stroke="#e37964" stroke-opacity="0.16" stroke-width="0.70"/>
<line x1="665.9" y1="336.8" x2="639.4" y2="432.1" stroke="#e37964" stroke-opacity="0.16" stroke-width="0.70"/>
<line x1="665.9" y1="336.8" x2="649.0" y2="455.0" stroke="#e37964" stroke-opacity="0.16" stroke-width="0.70"/>
<line x1="665.9" y1="336.8" x2="668.8" y2="400.7" stroke="#e37964" stroke-opacity="0.16" stroke-width="0.70"/>
<line x1="665.9" y1="336.8" x2="673.2" y2="272.9" stroke="#e37964" stroke-opacity="0.16" stroke-width="0.70"/>
<line x1="665.9" y1="336.8" x2="848.0" y2="55.9" stroke="#e0664e" stroke-opacity="0.16" stroke-width="0.70"/>
<line x1="665.9" y1="336.8" x2="862.6" y2="360.4" stroke="#e37964" stroke-opacity="0.16" stroke-width="0.70"/>
<line x1="665.9" y1="336.8" x2="924.4" y2="466.9" stroke="#e37964" stroke-opacity="0.16" stroke-width="0.70"/>
<line x1="665.9" y1="336.8" x2="893.8" y2="400.7" stroke="#e06a52" stroke-opacity="0.16" stroke-width="0.70"/>
<line x1="665.9" y1="336.8" x2="865.1" y2="333.5" stroke="#e37964" stroke-opacity="0.16" stroke-width="0.70"/>
<line x1="665.9" y1="336.8" x2="818.5" y2="414.2" stroke="#e0674f" stroke-opacity="0.16" stroke-width="0.70"/>
<line x1="665.9" y1="336.8" x2="674.2" y2="291.7" stroke="#e37964" stroke-opacity="0.16" stroke-width="0.70"/>
<line x1="665.9" y1="336.8" x2="704.4" y2="299.1" stroke="#e26f58" stroke-opacity="0.16" stroke-width="0.70"/>
<line x1="665.9" y1="336.8" x2="724.7" y2="307.7" stroke="#e37964" stroke-opacity="0.16" stroke-width="0.70"/>
<line x1="665.9" y1="336.8" x2="741.1" y2="319.5" stroke="#e37964" stroke-opacity="0.16" stroke-width="0.70"/>
<line x1="665.9" y1="336.8" x2="696.3" y2="431.4" stroke="#e37964" stroke-opacity="0.16" stroke-width="0.70"/>
<line x1="665.9" y1="336.8" x2="732.5" y2="377.1" stroke="#e37964" stroke-opacity="0.16" stroke-width="0.70"/>
<line x1="665.9" y1="336.8" x2="708.5" y2="395.8" stroke="#e37964" stroke-opacity="0.16" stroke-width="0.70"/>
<line x1="773.0" y1="189.0" x2="819.0" y2="133.6" stroke="#e06049" stroke-opacity="0.29" stroke-width="0.91"/>
<line x1="773.0" y1="189.0" x2="792.5" y2="160.0" stroke="#e2715a" stroke-opacity="0.16" stroke-width="0.70"/>
<line x1="773.0" y1="189.0" x2="792.5" y2="177.9" stroke="#e37b67" stroke-opacity="0.16" stroke-width="0.70"/>
<line x1="773.0" y1="189.0" x2="765.6" y2="152.1" stroke="#e37b67" stroke-opacity="0.16" stroke-width="0.70"/>
<line x1="773.0" y1="189.0" x2="753.4" y2="161.9" stroke="#e37b67" stroke-opacity="0.16" stroke-width="0.70"/>
<line x1="773.0" y1="189.0" x2="735.5" y2="168.8" stroke="#e37b67" stroke-opacity="0.16" stroke-width="0.70"/>
<line x1="773.0" y1="189.0" x2="716.6" y2="176.6" stroke="#e37b67" stroke-opacity="0.16" stroke-width="0.70"/>
<line x1="773.0" y1="189.0" x2="736.2" y2="197.5" stroke="#e37b67" stroke-opacity="0.16" stroke-width="0.70"/>
<line x1="773.0" y1="189.0" x2="701.2" y2="164.4" stroke="#e37b67" stroke-opacity="0.16" stroke-width="0.70"/>
<line x1="773.0" y1="189.0" x2="737.5" y2="138.0" stroke="#e37b67" stroke-opacity="0.16" stroke-width="0.70"/>
<line x1="773.0" y1="189.0" x2="635.7" y2="221.5" stroke="#e06751" stroke-opacity="0.16" stroke-width="0.70"/>
<line x1="773.0" y1="189.0" x2="848.0" y2="55.9" stroke="#e06751" stroke-opacity="0.16" stroke-width="0.70"/>
<line x1="773.0" y1="189.0" x2="893.8" y2="400.7" stroke="#e16c54" stroke-opacity="0.16" stroke-width="0.70"/>
<line x1="773.0" y1="189.0" x2="799.7" y2="356.5" stroke="#e2715a" stroke-opacity="0.16" stroke-width="0.70"/>
<line x1="773.0" y1="189.0" x2="681.0" y2="377.2" stroke="#d04b40" stroke-opacity="0.29" stroke-width="0.91"/>
<line x1="773.0" y1="189.0" x2="757.0" y2="227.4" stroke="#e06851" stroke-opacity="0.16" stroke-width="0.70"/>
<line x1="773.0" y1="189.0" x2="710.0" y2="206.8" stroke="#e37b67" stroke-opacity="0.16" stroke-width="0.70"/>
<line x1="773.0" y1="189.0" x2="759.5" y2="206.8" stroke="#e37b67" stroke-opacity="0.16" stroke-width="0.70"/>
<line x1="773.0" y1="189.0" x2="819.0" y2="172.5" stroke="#e37b67" stroke-opacity="0.16" stroke-width="0.70"/>
<line x1="773.0" y1="189.0" x2="847.2" y2="155.8" stroke="#e37b67" stroke-opacity="0.16" stroke-width="0.70"/>
<line x1="880.8" y1="279.2" x2="758.3" y2="355.5" stroke="#ce4e43" stroke-opacity="0.29" stroke-width="0.91"/>
<line x1="880.8" y1="279.2" x2="848.0" y2="55.9" stroke="#e06a52" stroke-opacity="0.16" stroke-width="0.70"/>
<line x1="880.8" y1="279.2" x2="757.0" y2="227.4" stroke="#e06a52" stroke-opacity="0.16" stroke-width="0.70"/>
<line x1="880.8" y1="279.2" x2="765.0" y2="245.9" stroke="#e3735b" stroke-opacity="0.16" stroke-width="0.70"/>
<line x1="880.8" y1="279.2" x2="681.0" y2="377.2" stroke="#d14d42" stroke-opacity="0.29" stroke-width="0.91"/>
<line x1="880.8" y1="279.2" x2="916.0" y2="245.3" stroke="#e26f55" stroke-opacity="0.16" stroke-width="0.70"/>
<line x1="880.8" y1="279.2" x2="842.3" y2="286.1" stroke="#e47d68" stroke-opacity="0.16" stroke-width="0.70"/>
<line x1="880.8" y1="279.2" x2="840.6" y2="306.5" stroke="#e47d68" stroke-opacity="0.16" stroke-width="0.70"/>
<line x1="880.8" y1="279.2" x2="920.7" y2="299.1" stroke="#e47d68" stroke-opacity="0.16" stroke-width="0.70"/>
<line x1="880.8" y1="279.2" x2="956.0" y2="303.8" stroke="#e47d68" stroke-opacity="0.16" stroke-width="0.70"/>
<line x1="880.8" y1="279.2" x2="883.2" y2="322.4" stroke="#e47d68" stroke-opacity="0.16" stroke-width="0.70"/>
<line x1="880.8" y1="279.2" x2="899.9" y2="312.1" stroke="#e47d68" stroke-opacity="0.16" stroke-width="0.70"/>
<line x1="880.8" y1="279.2" x2="935.4" y2="275.8" stroke="#e47d68" stroke-opacity="0.16" stroke-width="0.70"/>
<line x1="880.8" y1="279.2" x2="865.1" y2="333.5" stroke="#e47d68" stroke-opacity="0.16" stroke-width="0.70"/>
<line x1="880.8" y1="279.2" x2="899.9" y2="339.0" stroke="#e47d68" stroke-opacity="0.16" stroke-width="0.70"/>
<line x1="880.8" y1="279.2" x2="855.3" y2="315.5" stroke="#e47d68" stroke-opacity="0.16" stroke-width="0.70"/>
<line x1="880.8" y1="279.2" x2="810.4" y2="324.3" stroke="#e47d68" stroke-opacity="0.16" stroke-width="0.70"/>
<line x1="880.8" y1="279.2" x2="803.5" y2="264.8" stroke="#e47d68" stroke-opacity="0.16" stroke-width="0.70"/>
<line x1="880.8" y1="279.2" x2="877.6" y2="257.9" stroke="#e47d68" stroke-opacity="0.16" stroke-width="0.70"/>
<line x1="880.8" y1="279.2" x2="904.3" y2="258.7" stroke="#e47d68" stroke-opacity="0.16" stroke-width="0.70"/>
<line x1="880.8" y1="279.2" x2="833.2" y2="271.5" stroke="#e47d68" stroke-opacity="0.16" stroke-width="0.70"/>
<line x1="880.8" y1="279.2" x2="934.0" y2="346.9" stroke="#e47d68" stroke-opacity="0.16" stroke-width="0.70"/>
<line x1="880.8" y1="279.2" x2="963.1" y2="331.2" stroke="#e26f55" stroke-opacity="0.16" stroke-width="0.70"/>
<line x1="880.8" y1="279.2" x2="862.6" y2="360.4" stroke="#e47d68" stroke-opacity="0.16" stroke-width="0.70"/>
<line x1="880.8" y1="279.2" x2="821.0" y2="308.9" stroke="#e47d68" stroke-opacity="0.16" stroke-width="0.70"/>
<line x1="880.8" y1="279.2" x2="840.6" y2="339.5" stroke="#e47d68" stroke-opacity="0.16" stroke-width="0.70"/>
<line x1="880.8" y1="279.2" x2="874.7" y2="238.7" stroke="#e47d68" stroke-opacity="0.16" stroke-width="0.70"/>
<line x1="880.8" y1="279.2" x2="893.8" y2="198.0" stroke="#e47d68" stroke-opacity="0.16" stroke-width="0.70"/>
<line x1="880.8" y1="279.2" x2="896.2" y2="222.0" stroke="#e47d68" stroke-opacity="0.16" stroke-width="0.70"/>
<line x1="880.8" y1="279.2" x2="899.4" y2="177.4" stroke="#e47d68" stroke-opacity="0.16" stroke-width="0.70"/>
<line x1="819.0" y1="133.6" x2="639.0" y2="254.3" stroke="#de5647" stroke-opacity="0.29" stroke-width="0.91"/>
<line x1="819.0" y1="133.6" x2="681.0" y2="377.2" stroke="#d15448" stroke-opacity="0.29" stroke-width="0.91"/>
<line x1="819.0" y1="133.6" x2="818.5" y2="414.2" stroke="#e27358" stroke-opacity="0.16" stroke-width="0.70"/>
<line x1="819.0" y1="133.6" x2="794.3" y2="33.0" stroke="#e06951" stroke-opacity="0.29" stroke-width="0.91"/>
<line x1="819.0" y1="133.6" x2="848.0" y2="55.9" stroke="#e17158" stroke-opacity="0.16" stroke-width="0.70"/>
<line x1="819.0" y1="133.6" x2="665.9" y2="336.8" stroke="#df5e46" stroke-opacity="0.29" stroke-width="0.91"/>
<line x1="819.0" y1="133.6" x2="765.6" y2="152.1" stroke="#e4846e" stroke-opacity="0.16" stroke-width="0.70"/>
<line x1="819.0" y1="133.6" x2="737.5" y2="138.0" stroke="#e4846e" stroke-opacity="0.16" stroke-width="0.70"/>
<line x1="819.0" y1="133.6" x2="753.4" y2="161.9" stroke="#e4846e" stroke-opacity="0.16" stroke-width="0.70"/>
<line x1="819.0" y1="133.6" x2="752.2" y2="413.5" stroke="#e4846e" stroke-opacity="0.16" stroke-width="0.70"/>
<line x1="819.0" y1="133.6" x2="701.2" y2="164.4" stroke="#e4846e" stroke-opacity="0.16" stroke-width="0.70"/>
<line x1="819.0" y1="133.6" x2="694.0" y2="348.1" stroke="#e4846e" stroke-opacity="0.16" stroke-width="0.70"/>
<line x1="819.0" y1="133.6" x2="833.2" y2="410.5" stroke="#e4846e" stroke-opacity="0.16" stroke-width="0.70"/>
<line x1="819.0" y1="133.6" x2="833.2" y2="102.0" stroke="#e4846e" stroke-opacity="0.16" stroke-width="0.70"/>
<line x1="819.0" y1="133.6" x2="819.0" y2="172.5" stroke="#e4846e" stroke-opacity="0.16" stroke-width="0.70"/>
<line x1="819.0" y1="133.6" x2="847.2" y2="155.8" stroke="#e4846e" stroke-opacity="0.16" stroke-width="0.70"/>
<line x1="819.0" y1="133.6" x2="857.0" y2="106.9" stroke="#e2755b" stroke-opacity="0.16" stroke-width="0.70"/>
<line x1="819.0" y1="133.6" x2="806.3" y2="102.5" stroke="#e0644e" stroke-opacity="0.29" stroke-width="0.91"/>
<line x1="819.0" y1="133.6" x2="899.4" y2="177.4" stroke="#e4846e" stroke-opacity="0.16" stroke-width="0.70"/>
<line x1="683.3" y1="131.0" x2="758.3" y2="355.5" stroke="#ce5448" stroke-opacity="0.29" stroke-width="0.91"/>
<line x1="683.3" y1="131.0" x2="819.0" y2="133.6" stroke="#e0674f" stroke-opacity="0.29" stroke-width="0.91"/>
<line x1="683.3" y1="131.0" x2="806.3" y2="102.5" stroke="#e0624e" stroke-opacity="0.29" stroke-width="0.91"/>
<line x1="683.3" y1="131.0" x2="792.5" y2="160.0" stroke="#e37961" stroke-opacity="0.16" stroke-width="0.70"/>
<line x1="683.3" y1="131.0" x2="765.6" y2="152.1" stroke="#e4826d" stroke-opacity="0.16" stroke-width="0.70"/>
<line x1="683.3" y1="131.0" x2="737.5" y2="138.0" stroke="#e4826d" stroke-opacity="0.16" stroke-width="0.70"/>
<line x1="683.3" y1="131.0" x2="735.5" y2="168.8" stroke="#e4826d" stroke-opacity="0.16" stroke-width="0.70"/>
<line x1="683.3" y1="131.0" x2="710.0" y2="206.8" stroke="#e4826d" stroke-opacity="0.16" stroke-width="0.70"/>
<line x1="683.3" y1="131.0" x2="773.0" y2="189.0" stroke="#e05e48" stroke-opacity="0.29" stroke-width="0.91"/>
<line x1="683.3" y1="131.0" x2="848.0" y2="55.9" stroke="#e16f57" stroke-opacity="0.16" stroke-width="0.70"/>
<line x1="683.3" y1="131.0" x2="659.0" y2="128.0" stroke="#e4826d" stroke-opacity="0.16" stroke-width="0.70"/>
<line x1="683.3" y1="131.0" x2="662.7" y2="150.5" stroke="#e4826d" stroke-opacity="0.16" stroke-width="0.70"/>
<line x1="683.3" y1="131.0" x2="757.0" y2="227.4" stroke="#e17058" stroke-opacity="0.16" stroke-width="0.70"/>
<line x1="683.3" y1="131.0" x2="765.0" y2="245.9" stroke="#e37961" stroke-opacity="0.16" stroke-width="0.70"/>
<line x1="683.3" y1="131.0" x2="956.0" y2="303.8" stroke="#e4826d" stroke-opacity="0.16" stroke-width="0.70"/>
<line x1="683.3" y1="131.0" x2="763.2" y2="117.9" stroke="#e16f57" stroke-opacity="0.16" stroke-width="0.70"/>
<line x1="683.3" y1="131.0" x2="857.0" y2="106.9" stroke="#e2735a" stroke-opacity="0.16" stroke-width="0.70"/>
<line x1="683.3" y1="131.0" x2="713.4" y2="113.0" stroke="#e4826d" stroke-opacity="0.16" stroke-width="0.70"/>
<line x1="683.3" y1="131.0" x2="673.2" y2="175.9" stroke="#e4826d" stroke-opacity="0.16" stroke-width="0.70"/>
<line x1="683.3" y1="131.0" x2="701.2" y2="164.4" stroke="#e4826d" stroke-opacity="0.16" stroke-width="0.70"/>
<line x1="683.3" y1="131.0" x2="681.0" y2="377.2" stroke="#d15247" stroke-opacity="0.29" stroke-width="0.91"/>
<line x1="683.3" y1="131.0" x2="673.2" y2="272.9" stroke="#e4826d" stroke-opacity="0.16" stroke-width="0.70"/>
<line x1="683.3" y1="131.0" x2="674.2" y2="291.7" stroke="#e4826d" stroke-opacity="0.16" stroke-width="0.70"/>
<line x1="806.3" y1="102.5" x2="848.0" y2="55.9" stroke="#e06c56" stroke-opacity="0.16" stroke-width="0.70"/>
<line x1="806.3" y1="102.5" x2="765.0" y2="245.9" stroke="#e37560" stroke-opacity="0.16" stroke-width="0.70"/>
<line x1="806.3" y1="102.5" x2="757.0" y2="227.4" stroke="#e06c57" stroke-opacity="0.16" stroke-width="0.70"/>
<line x1="806.3" y1="102.5" x2="777.4" y2="95.1" stroke="#e27560" stroke-opacity="0.16" stroke-width="0.70"/>
<line x1="806.3" y1="102.5" x2="811.7" y2="76.3" stroke="#e47f6c" stroke-opacity="0.16" stroke-width="0.70"/>
<line x1="806.3" y1="102.5" x2="824.4" y2="65.7" stroke="#e37964" stroke-opacity="0.16" stroke-width="0.70"/>
<line x1="806.3" y1="102.5" x2="833.2" y2="102.0" stroke="#e47f6c" stroke-opacity="0.16" stroke-width="0.70"/>
<line x1="806.3" y1="102.5" x2="794.3" y2="33.0" stroke="#df644f" stroke-opacity="0.29" stroke-width="0.91"/>
<line x1="806.3" y1="102.5" x2="766.9" y2="59.8" stroke="#e47f6c" stroke-opacity="0.16" stroke-width="0.70"/>
<line x1="806.3" y1="102.5" x2="763.2" y2="117.9" stroke="#e06b56" stroke-opacity="0.16" stroke-width="0.70"/>
<line x1="806.3" y1="102.5" x2="792.5" y2="160.0" stroke="#e37560" stroke-opacity="0.16" stroke-width="0.70"/>
<line x1="794.3" y1="33.0" x2="848.0" y2="55.9" stroke="#e07158" stroke-opacity="0.16" stroke-width="0.70"/>
<line x1="794.3" y1="33.0" x2="665.9" y2="336.8" stroke="#df5e47" stroke-opacity="0.29" stroke-width="0.91"/>
<line x1="794.3" y1="33.0" x2="757.0" y2="227.4" stroke="#e07259" stroke-opacity="0.16" stroke-width="0.70"/>
<line x1="794.3" y1="33.0" x2="766.9" y2="59.8" stroke="#e3846f" stroke-opacity="0.16" stroke-width="0.70"/>
<line x1="794.3" y1="33.0" x2="777.4" y2="95.1" stroke="#e27b62" stroke-opacity="0.16" stroke-width="0.70"/>
<line x1="794.3" y1="33.0" x2="763.2" y2="117.9" stroke="#e07058" stroke-opacity="0.16" stroke-width="0.70"/>
<line x1="794.3" y1="33.0" x2="681.0" y2="377.2" stroke="#d05448" stroke-opacity="0.29" stroke-width="0.91"/>
<line x1="794.3" y1="33.0" x2="893.8" y2="198.0" stroke="#e3846f" stroke-opacity="0.16" stroke-width="0.70"/>
<line x1="794.3" y1="33.0" x2="742.4" y2="68.2" stroke="#e27b62" stroke-opacity="0.16" stroke-width="0.70"/>
<line x1="794.3" y1="33.0" x2="824.4" y2="65.7" stroke="#e37e67" stroke-opacity="0.16" stroke-width="0.70"/>
<line x1="794.3" y1="33.0" x2="811.7" y2="76.3" stroke="#e3846f" stroke-opacity="0.16" stroke-width="0.70"/>
<line x1="779.3" y1="521.2" x2="1024.4" y2="400.0" stroke="#df5846" stroke-opacity="0.29" stroke-width="0.91"/>
<line x1="779.3" y1="521.2" x2="777.8" y2="480.2" stroke="#e27861" stroke-opacity="0.16" stroke-width="0.70"/>
<line x1="779.3" y1="521.2" x2="857.7" y2="495.0" stroke="#e3816e" stroke-opacity="0.16" stroke-width="0.70"/>
<line x1="779.3" y1="521.2" x2="837.6" y2="466.0" stroke="#e3816e" stroke-opacity="0.16" stroke-width="0.70"/>
<line x1="779.3" y1="521.2" x2="855.3" y2="452.7" stroke="#e3816e" stroke-opacity="0.16" stroke-width="0.70"/>
<line x1="779.3" y1="521.2" x2="693.8" y2="488.2" stroke="#e3816e" stroke-opacity="0.16" stroke-width="0.70"/>
<line x1="779.3" y1="521.2" x2="708.0" y2="461.1" stroke="#e3816e" stroke-opacity="0.16" stroke-width="0.70"/>
<line x1="779.3" y1="521.2" x2="738.3" y2="448.7" stroke="#e3816e" stroke-opacity="0.16" stroke-width="0.70"/>
<line x1="779.3" y1="521.2" x2="778.6" y2="446.1" stroke="#e27861" stroke-opacity="0.16" stroke-width="0.70"/>
<line x1="779.3" y1="521.2" x2="665.9" y2="336.8" stroke="#df5b46" stroke-opacity="0.29" stroke-width="0.91"/>
<line x1="779.3" y1="521.2" x2="842.3" y2="286.1" stroke="#e3816e" stroke-opacity="0.16" stroke-width="0.70"/>
<line x1="779.3" y1="521.2" x2="793.9" y2="398.3" stroke="#e3816e" stroke-opacity="0.16" stroke-width="0.70"/>
<line x1="779.3" y1="521.2" x2="810.4" y2="438.7" stroke="#e3816e" stroke-opacity="0.16" stroke-width="0.70"/>
<line x1="779.3" y1="521.2" x2="893.8" y2="400.7" stroke="#e1735b" stroke-opacity="0.16" stroke-width="0.70"/>
<line x1="779.3" y1="521.2" x2="932.7" y2="375.2" stroke="#e27861" stroke-opacity="0.16" stroke-width="0.70"/>
<line x1="779.3" y1="521.2" x2="799.7" y2="356.5" stroke="#e27861" stroke-opacity="0.16" stroke-width="0.70"/>
<line x1="779.3" y1="521.2" x2="943.8" y2="388.6" stroke="#e27861" stroke-opacity="0.16" stroke-width="0.70"/>
<line x1="779.3" y1="521.2" x2="879.0" y2="413.5" stroke="#e27861" stroke-opacity="0.16" stroke-width="0.70"/>
<line x1="779.3" y1="521.2" x2="879.0" y2="444.8" stroke="#e3816e" stroke-opacity="0.16" stroke-width="0.70"/>
<line x1="779.3" y1="521.2" x2="839.1" y2="392.9" stroke="#e3816e" stroke-opacity="0.16" stroke-width="0.70"/>
<line x1="779.3" y1="521.2" x2="924.4" y2="466.9" stroke="#e3816e" stroke-opacity="0.16" stroke-width="0.70"/>
<line x1="779.3" y1="521.2" x2="862.6" y2="360.4" stroke="#e3816e" stroke-opacity="0.16" stroke-width="0.70"/>
<line x1="779.3" y1="521.2" x2="786.3" y2="413.5" stroke="#e3816e" stroke-opacity="0.16" stroke-width="0.70"/>
<line x1="779.3" y1="521.2" x2="768.0" y2="406.8" stroke="#e3816e" stroke-opacity="0.16" stroke-width="0.70"/>
<line x1="848.0" y1="55.9" x2="904.8" y2="65.2" stroke="#e58c76" stroke-opacity="0.16" stroke-width="0.70"/>
<line x1="848.0" y1="55.9" x2="873.0" y2="82.4" stroke="#e58c76" stroke-opacity="0.16" stroke-width="0.70"/>
<line x1="848.0" y1="55.9" x2="840.2" y2="251.1" stroke="#e58c76" stroke-opacity="0.16" stroke-width="0.70"/>
<line x1="848.0" y1="55.9" x2="936.2" y2="117.5" stroke="#e58c76" stroke-opacity="0.16" stroke-width="0.70"/>
<line x1="848.0" y1="55.9" x2="893.8" y2="198.0" stroke="#e58c76" stroke-opacity="0.16" stroke-width="0.70"/>
<line x1="848.0" y1="55.9" x2="824.4" y2="65.7" stroke="#e4866e" stroke-opacity="0.16" stroke-width="0.70"/>
<line x1="848.0" y1="55.9" x2="811.7" y2="76.3" stroke="#e58c76" stroke-opacity="0.16" stroke-width="0.70"/>
<line x1="848.0" y1="55.9" x2="745.5" y2="259.5" stroke="#e38269" stroke-opacity="0.16" stroke-width="0.70"/>
<line x1="848.0" y1="55.9" x2="857.0" y2="106.9" stroke="#e27d63" stroke-opacity="0.16" stroke-width="0.70"/>
<line x1="848.0" y1="55.9" x2="907.2" y2="140.0" stroke="#e58c76" stroke-opacity="0.16" stroke-width="0.70"/>
<line x1="848.0" y1="55.9" x2="935.4" y2="84.8" stroke="#e4846c" stroke-opacity="0.16" stroke-width="0.70"/>
<line x1="848.0" y1="55.9" x2="893.8" y2="108.5" stroke="#e58c76" stroke-opacity="0.16" stroke-width="0.70"/>
<line x1="848.0" y1="55.9" x2="833.2" y2="102.0" stroke="#e58c76" stroke-opacity="0.16" stroke-width="0.70"/>
<line x1="1166.7" y1="191.7" x2="1103.0" y2="182.7" stroke="#e58b76" stroke-opacity="0.16" stroke-width="0.70"/>
<line x1="1166.7" y1="191.7" x2="1118.8" y2="217.0" stroke="#e58b76" stroke-opacity="0.16" stroke-width="0.70"/>
<line x1="1166.7" y1="191.7" x2="1157.0" y2="234.1" stroke="#e58b76" stroke-opacity="0.16" stroke-width="0.70"/>
<line x1="1166.7" y1="191.7" x2="956.0" y2="303.8" stroke="#e58b76" stroke-opacity="0.16" stroke-width="0.70"/>
<line x1="1166.7" y1="191.7" x2="1125.8" y2="295.0" stroke="#d95b4e" stroke-opacity="0.16" stroke-width="0.70"/>
<line x1="1166.7" y1="191.7" x2="1104.5" y2="280.5" stroke="#e38269" stroke-opacity="0.16" stroke-width="0.70"/>
<line x1="757.0" y1="227.4" x2="874.7" y2="238.7" stroke="#e58d76" stroke-opacity="0.16" stroke-width="0.70"/>
<line x1="757.0" y1="227.4" x2="1147.0" y2="459.1" stroke="#e3836a" stroke-opacity="0.16" stroke-width="0.70"/>
<line x1="757.0" y1="227.4" x2="792.5" y2="177.9" stroke="#e58d76" stroke-opacity="0.16" stroke-width="0.70"/>
<line x1="763.2" y1="117.9" x2="639.4" y2="432.1" stroke="#e58b76" stroke-opacity="0.16" stroke-width="0.70"/>
<line x1="763.2" y1="117.9" x2="681.0" y2="377.2" stroke="#d15b4f" stroke-opacity="0.16" stroke-width="0.70"/>
<line x1="763.2" y1="117.9" x2="737.5" y2="138.0" stroke="#e58b76" stroke-opacity="0.16" stroke-width="0.70"/>
<line x1="765.0" y1="245.9" x2="798.8" y2="340.4" stroke="#e6967f" stroke-opacity="0.16" stroke-width="0.70"/>
<line x1="969.2" y1="216.1" x2="1181.0" y2="304.4" stroke="#e4856f" stroke-opacity="0.16" stroke-width="0.70"/>
<line x1="969.2" y1="216.1" x2="1104.5" y2="280.5" stroke="#e37b63" stroke-opacity="0.16" stroke-width="0.70"/>
<line x1="969.2" y1="216.1" x2="946.5" y2="188.5" stroke="#e4856f" stroke-opacity="0.16" stroke-width="0.70"/>
<line x1="1025.9" y1="491.4" x2="1003.2" y2="487.0" stroke="#e58d76" stroke-opacity="0.16" stroke-width="0.70"/>
<line x1="1025.9" y1="491.4" x2="997.6" y2="507.7" stroke="#e58d76" stroke-opacity="0.16" stroke-width="0.70"/>
<line x1="1025.9" y1="491.4" x2="1047.6" y2="477.2" stroke="#e58d76" stroke-opacity="0.16" stroke-width="0.70"/>
<line x1="1025.9" y1="491.4" x2="1042.0" y2="506.0" stroke="#e58d76" stroke-opacity="0.16" stroke-width="0.70"/>
<line x1="1025.9" y1="491.4" x2="1164.5" y2="434.0" stroke="#e58d76" stroke-opacity="0.16" stroke-width="0.70"/>
<line x1="1025.9" y1="491.4" x2="1038.3" y2="419.3" stroke="#e58d76" stroke-opacity="0.16" stroke-width="0.70"/>
<line x1="1025.9" y1="491.4" x2="681.0" y2="377.2" stroke="#d15d50" stroke-opacity="0.16" stroke-width="0.70"/>
<line x1="1070.5" y1="449.5" x2="1032.0" y2="447.5" stroke="#e58b76" stroke-opacity="0.16" stroke-width="0.70"/>
<line x1="1070.5" y1="449.5" x2="1009.0" y2="441.4" stroke="#e58b76" stroke-opacity="0.16" stroke-width="0.70"/>
<line x1="1070.5" y1="449.5" x2="1038.3" y2="419.3" stroke="#e58b76" stroke-opacity="0.16" stroke-width="0.70"/>
<line x1="1070.5" y1="449.5" x2="1106.0" y2="462.3" stroke="#e58b76" stroke-opacity="0.16" stroke-width="0.70"/>
<line x1="1070.5" y1="449.5" x2="1047.6" y2="477.2" stroke="#e58b76" stroke-opacity="0.16" stroke-width="0.70"/>
</g>
<g>
<circle cx="766.9" cy="59.8" r="3.2" fill="#f2c4a4" stroke="#b6937b" stroke-width="0.5"/>
<circle cx="688.0" cy="61.5" r="3.2" fill="#f2c4a4" stroke="#b6937b" stroke-width="0.5"/>
<circle cx="904.8" cy="65.2" r="3.2" fill="#f2c4a4" stroke="#b6937b" stroke-width="0.5"/>
<circle cx="811.7" cy="76.3" r="3.2" fill="#f2c4a4" stroke="#b6937b" stroke-width="0.5"/>
<circle cx="873.0" cy="82.4" r="3.2" fill="#f2c4a4" stroke="#b6937b" stroke-width="0.5"/>
<circle cx="736.0" cy="94.5" r="3.2" fill="#f2c4a4" stroke="#b6937b" stroke-width="0.5"/>
<circle cx="833.2" cy="102.0" r="3.2" fill="#f2c4a4" stroke="#b6937b" stroke-width="0.5"/>
<circle cx="893.8" cy="108.5" r="3.2" fill="#f2c4a4" stroke="#b6937b" stroke-width="0.5"/>
<circle cx="713.4" cy="113.0" r="3.2" fill="#f2c4a4" stroke="#b6937b" stroke-width="0.5"/>
<circle cx="936.2" cy="117.5" r="3.2" fill="#f2c4a4" stroke="#b6937b" stroke-width="0.5"/>
<circle cx="659.0" cy="128.0" r="3.2" fill="#f2c4a4" stroke="#b6937b" stroke-width="0.5"/>
<circle cx="737.5" cy="138.0" r="3.2" fill="#f2c4a4" stroke="#b6937b" stroke-width="0.5"/>
<circle cx="907.2" cy="140.0" r="3.2" fill="#f2c4a4" stroke="#b6937b" stroke-width="0.5"/>
<circle cx="942.8" cy="141.5" r="3.2" fill="#f2c4a4" stroke="#b6937b" stroke-width="0.5"/>
<circle cx="662.7" cy="150.5" r="3.2" fill="#f2c4a4" stroke="#b6937b" stroke-width="0.5"/>
<circle cx="765.6" cy="152.1" r="3.2" fill="#f2c4a4" stroke="#b6937b" stroke-width="0.5"/>
<circle cx="847.2" cy="155.8" r="3.2" fill="#f2c4a4" stroke="#b6937b" stroke-width="0.5"/>
<circle cx="753.4" cy="161.9" r="3.2" fill="#f2c4a4" stroke="#b6937b" stroke-width="0.5"/>
<circle cx="701.2" cy="164.4" r="3.2" fill="#f2c4a4" stroke="#b6937b" stroke-width="0.5"/>
<circle cx="735.5" cy="168.8" r="3.2" fill="#f2c4a4" stroke="#b6937b" stroke-width="0.5"/>
<circle cx="819.0" cy="172.5" r="3.2" fill="#f2c4a4" stroke="#b6937b" stroke-width="0.5"/>
<circle cx="673.2" cy="175.9" r="3.2" fill="#f2c4a4" stroke="#b6937b" stroke-width="0.5"/>
<circle cx="716.6" cy="176.6" r="3.2" fill="#f2c4a4" stroke="#b6937b" stroke-width="0.5"/>
<circle cx="792.5" cy="177.9" r="3.2" fill="#f2c4a4" stroke="#b6937b" stroke-width="0.5"/>
<circle cx="899.4" cy="177.4" r="3.2" fill="#f2c4a4" stroke="#b6937b" stroke-width="0.5"/>
<circle cx="1103.0" cy="182.7" r="3.2" fill="#f2c4a4" stroke="#b6937b" stroke-width="0.5"/>
<circle cx="946.5" cy="188.5" r="3.2" fill="#f2c4a4" stroke="#b6937b" stroke-width="0.5"/>
<circle cx="867.3" cy="196.3" r="3.2" fill="#f2c4a4" stroke="#b6937b" stroke-width="0.5"/>
<circle cx="736.2" cy="197.5" r="3.2" fill="#f2c4a4" stroke="#b6937b" stroke-width="0.5"/>
<circle cx="893.8" cy="198.0" r="3.2" fill="#f2c4a4" stroke="#b6937b" stroke-width="0.5"/>
<circle cx="662.0" cy="207.8" r="3.2" fill="#f2c4a4" stroke="#b6937b" stroke-width="0.5"/>
<circle cx="710.0" cy="206.8" r="3.2" fill="#f2c4a4" stroke="#b6937b" stroke-width="0.5"/>
<circle cx="759.5" cy="206.8" r="3.2" fill="#f2c4a4" stroke="#b6937b" stroke-width="0.5"/>
<circle cx="871.7" cy="212.2" r="3.2" fill="#f2c4a4" stroke="#b6937b" stroke-width="0.5"/>
<circle cx="1118.8" cy="217.0" r="3.2" fill="#f2c4a4" stroke="#b6937b" stroke-width="0.5"/>
<circle cx="702.6" cy="222.5" r="3.2" fill="#f2c4a4" stroke="#b6937b" stroke-width="0.5"/>
<circle cx="896.2" cy="222.0" r="3.2" fill="#f2c4a4" stroke="#b6937b" stroke-width="0.5"/>
<circle cx="926.0" cy="223.2" r="3.2" fill="#f2c4a4" stroke="#b6937b" stroke-width="0.5"/>
<circle cx="841.0" cy="230.5" r="3.2" fill="#f2c4a4" stroke="#b6937b" stroke-width="0.5"/>
<circle cx="1157.0" cy="234.1" r="3.2" fill="#f2c4a4" stroke="#b6937b" stroke-width="0.5"/>
<circle cx="715.9" cy="234.2" r="3.2" fill="#f2c4a4" stroke="#b6937b" stroke-width="0.5"/>
<circle cx="798.0" cy="236.7" r="3.2" fill="#f2c4a4" stroke="#b6937b" stroke-width="0.5"/>
<circle cx="874.7" cy="238.7" r="3.2" fill="#f2c4a4" stroke="#b6937b" stroke-width="0.5"/>
<circle cx="680.3" cy="245.9" r="3.2" fill="#f2c4a4" stroke="#b6937b" stroke-width="0.5"/>
<circle cx="840.2" cy="251.1" r="3.2" fill="#f2c4a4" stroke="#b6937b" stroke-width="0.5"/>
<circle cx="877.6" cy="257.9" r="3.2" fill="#f2c4a4" stroke="#b6937b" stroke-width="0.5"/>
<circle cx="904.3" cy="258.7" r="3.2" fill="#f2c4a4" stroke="#b6937b" stroke-width="0.5"/>
<circle cx="776.5" cy="266.0" r="3.2" fill="#f2c4a4" stroke="#b6937b" stroke-width="0.5"/>
<circle cx="803.5" cy="264.8" r="3.2" fill="#f2c4a4" stroke="#b6937b" stroke-width="0.5"/>
<circle cx="1181.7" cy="270.7" r="3.2" fill="#f2c4a4" stroke="#b6937b" stroke-width="0.5"/>
<circle cx="833.2" cy="271.5" r="3.2" fill="#f2c4a4" stroke="#b6937b" stroke-width="0.5"/>
<circle cx="673.2" cy="272.9" r="3.2" fill="#f2c4a4" stroke="#b6937b" stroke-width="0.5"/>
<circle cx="1048.3" cy="274.8" r="3.2" fill="#f2c4a4" stroke="#b6937b" stroke-width="0.5"/>
<circle cx="935.4" cy="275.8" r="3.2" fill="#f2c4a4" stroke="#b6937b" stroke-width="0.5"/>
<circle cx="1006.0" cy="277.7" r="3.2" fill="#f2c4a4" stroke="#b6937b" stroke-width="0.5"/>
<circle cx="842.3" cy="286.1" r="3.2" fill="#f2c4a4" stroke="#b6937b" stroke-width="0.5"/>
<circle cx="786.3" cy="289.3" r="3.2" fill="#f2c4a4" stroke="#b6937b" stroke-width="0.5"/>
<circle cx="674.2" cy="291.7" r="3.2" fill="#f2c4a4" stroke="#b6937b" stroke-width="0.5"/>
<circle cx="920.7" cy="299.1" r="3.2" fill="#f2c4a4" stroke="#b6937b" stroke-width="0.5"/>
<circle cx="956.0" cy="303.8" r="3.2" fill="#f2c4a4" stroke="#b6937b" stroke-width="0.5"/>
<circle cx="1181.0" cy="304.4" r="3.2" fill="#f2c4a4" stroke="#b6937b" stroke-width="0.5"/>
<circle cx="840.6" cy="306.5" r="3.2" fill="#f2c4a4" stroke="#b6937b" stroke-width="0.5"/>
<circle cx="724.7" cy="307.7" r="3.2" fill="#f2c4a4" stroke="#b6937b" stroke-width="0.5"/>
<circle cx="821.0" cy="308.9" r="3.2" fill="#f2c4a4" stroke="#b6937b" stroke-width="0.5"/>
<circle cx="899.9" cy="312.1" r="3.2" fill="#f2c4a4" stroke="#b6937b" stroke-width="0.5"/>
<circle cx="855.3" cy="315.5" r="3.2" fill="#f2c4a4" stroke="#b6937b" stroke-width="0.5"/>
<circle cx="768.0" cy="317.5" r="3.2" fill="#f2c4a4" stroke="#b6937b" stroke-width="0.5"/>
<circle cx="741.1" cy="319.5" r="3.2" fill="#f2c4a4" stroke="#b6937b" stroke-width="0.5"/>
<circle cx="883.2" cy="322.4" r="3.2" fill="#f2c4a4" stroke="#b6937b" stroke-width="0.5"/>
<circle cx="810.4" cy="324.3" r="3.2" fill="#f2c4a4" stroke="#b6937b" stroke-width="0.5"/>
<circle cx="713.0" cy="324.8" r="3.2" fill="#f2c4a4" stroke="#b6937b" stroke-width="0.5"/>
<circle cx="1086.8" cy="331.4" r="3.2" fill="#f2c4a4" stroke="#b6937b" stroke-width="0.5"/>
<circle cx="1186.6" cy="332.1" r="3.2" fill="#f2c4a4" stroke="#b6937b" stroke-width="0.5"/>
<circle cx="865.1" cy="333.5" r="3.2" fill="#f2c4a4" stroke="#b6937b" stroke-width="0.5"/>
<circle cx="840.6" cy="339.5" r="3.2" fill="#f2c4a4" stroke="#b6937b" stroke-width="0.5"/>
<circle cx="798.8" cy="340.4" r="3.2" fill="#f2c4a4" stroke="#b6937b" stroke-width="0.5"/>
<circle cx="899.9" cy="339.0" r="3.2" fill="#f2c4a4" stroke="#b6937b" stroke-width="0.5"/>
<circle cx="725.2" cy="340.8" r="3.2" fill="#f2c4a4" stroke="#b6937b" stroke-width="0.5"/>
<circle cx="1001.6" cy="339.9" r="3.2" fill="#f2c4a4" stroke="#b6937b" stroke-width="0.5"/>
<circle cx="1141.0" cy="342.4" r="3.2" fill="#f2c4a4" stroke="#b6937b" stroke-width="0.5"/>
<circle cx="934.0" cy="346.9" r="3.2" fill="#f2c4a4" stroke="#b6937b" stroke-width="0.5"/>
<circle cx="1039.8" cy="346.8" r="3.2" fill="#f2c4a4" stroke="#b6937b" stroke-width="0.5"/>
<circle cx="694.0" cy="348.1" r="3.2" fill="#f2c4a4" stroke="#b6937b" stroke-width="0.5"/>
<circle cx="1115.9" cy="348.7" r="3.2" fill="#f2c4a4" stroke="#b6937b" stroke-width="0.5"/>
<circle cx="862.6" cy="360.4" r="3.2" fill="#f2c4a4" stroke="#b6937b" stroke-width="0.5"/>
<circle cx="641.9" cy="368.9" r="3.2" fill="#f2c4a4" stroke="#b6937b" stroke-width="0.5"/>
<circle cx="1092.8" cy="368.9" r="3.2" fill="#f2c4a4" stroke="#b6937b" stroke-width="0.5"/>
<circle cx="782.5" cy="376.2" r="3.2" fill="#f2c4a4" stroke="#b6937b" stroke-width="0.5"/>
<circle cx="732.5" cy="377.1" r="3.2" fill="#f2c4a4" stroke="#b6937b" stroke-width="0.5"/>
<circle cx="1059.5" cy="376.9" r="3.2" fill="#f2c4a4" stroke="#b6937b" stroke-width="0.5"/>
<circle cx="873.4" cy="383.5" r="3.2" fill="#f2c4a4" stroke="#b6937b" stroke-width="0.5"/>
<circle cx="1153.2" cy="389.7" r="3.2" fill="#f2c4a4" stroke="#b6937b" stroke-width="0.5"/>
<circle cx="839.1" cy="392.9" r="3.2" fill="#f2c4a4" stroke="#b6937b" stroke-width="0.5"/>
<circle cx="708.5" cy="395.8" r="3.2" fill="#f2c4a4" stroke="#b6937b" stroke-width="0.5"/>
<circle cx="793.9" cy="398.3" r="3.2" fill="#f2c4a4" stroke="#b6937b" stroke-width="0.5"/>
<circle cx="668.8" cy="400.7" r="3.2" fill="#f2c4a4" stroke="#b6937b" stroke-width="0.5"/>
<circle cx="738.7" cy="401.9" r="3.2" fill="#f2c4a4" stroke="#b6937b" stroke-width="0.5"/>
<circle cx="768.0" cy="406.8" r="3.2" fill="#f2c4a4" stroke="#b6937b" stroke-width="0.5"/>
<circle cx="1191.5" cy="407.8" r="3.2" fill="#f2c4a4" stroke="#b6937b" stroke-width="0.5"/>
<circle cx="833.2" cy="410.5" r="3.2" fill="#f2c4a4" stroke="#b6937b" stroke-width="0.5"/>
<circle cx="1149.0" cy="413.2" r="3.2" fill="#f2c4a4" stroke="#b6937b" stroke-width="0.5"/>
<circle cx="752.2" cy="413.5" r="3.2" fill="#f2c4a4" stroke="#b6937b" stroke-width="0.5"/>
<circle cx="786.3" cy="413.5" r="3.2" fill="#f2c4a4" stroke="#b6937b" stroke-width="0.5"/>
<circle cx="1038.3" cy="419.3" r="3.2" fill="#f2c4a4" stroke="#b6937b" stroke-width="0.5"/>
<circle cx="696.3" cy="431.4" r="3.2" fill="#f2c4a4" stroke="#b6937b" stroke-width="0.5"/>
<circle cx="639.4" cy="432.1" r="3.2" fill="#f2c4a4" stroke="#b6937b" stroke-width="0.5"/>
<circle cx="1164.5" cy="434.0" r="3.2" fill="#f2c4a4" stroke="#b6937b" stroke-width="0.5"/>
<circle cx="810.4" cy="438.7" r="3.2" fill="#f2c4a4" stroke="#b6937b" stroke-width="0.5"/>
<circle cx="662.0" cy="439.9" r="3.2" fill="#f2c4a4" stroke="#b6937b" stroke-width="0.5"/>
<circle cx="1009.0" cy="441.4" r="3.2" fill="#f2c4a4" stroke="#b6937b" stroke-width="0.5"/>
<circle cx="929.8" cy="443.5" r="3.2" fill="#f2c4a4" stroke="#b6937b" stroke-width="0.5"/>
<circle cx="879.0" cy="444.8" r="3.2" fill="#f2c4a4" stroke="#b6937b" stroke-width="0.5"/>
<circle cx="1032.0" cy="447.5" r="3.2" fill="#f2c4a4" stroke="#b6937b" stroke-width="0.5"/>
<circle cx="738.3" cy="448.7" r="3.2" fill="#f2c4a4" stroke="#b6937b" stroke-width="0.5"/>
<circle cx="855.3" cy="452.7" r="3.2" fill="#f2c4a4" stroke="#b6937b" stroke-width="0.5"/>
<circle cx="649.0" cy="455.0" r="3.2" fill="#f2c4a4" stroke="#b6937b" stroke-width="0.5"/>
<circle cx="708.0" cy="461.1" r="3.2" fill="#f2c4a4" stroke="#b6937b" stroke-width="0.5"/>
<circle cx="1106.0" cy="462.3" r="3.2" fill="#f2c4a4" stroke="#b6937b" stroke-width="0.5"/>
<circle cx="837.6" cy="466.0" r="3.2" fill="#f2c4a4" stroke="#b6937b" stroke-width="0.5"/>
<circle cx="924.4" cy="466.9" r="3.2" fill="#f2c4a4" stroke="#b6937b" stroke-width="0.5"/>
<circle cx="1047.6" cy="477.2" r="3.2" fill="#f2c4a4" stroke="#b6937b" stroke-width="0.5"/>
<circle cx="1003.2" cy="487.0" r="3.2" fill="#f2c4a4" stroke="#b6937b" stroke-width="0.5"/>
<circle cx="693.8" cy="488.2" r="3.2" fill="#f2c4a4" stroke="#b6937b" stroke-width="0.5"/>
<circle cx="857.7" cy="495.0" r="3.2" fill="#f2c4a4" stroke="#b6937b" stroke-width="0.5"/>
<circle cx="1042.0" cy="506.0" r="3.2" fill="#f2c4a4" stroke="#b6937b" stroke-width="0.5"/>
<circle cx="997.6" cy="507.7" r="3.2" fill="#f2c4a4" stroke="#b6937b" stroke-width="0.5"/>
<circle cx="824.4" cy="65.7" r="3.8" fill="#f0b08a" stroke="#b48468" stroke-width="0.5"/>
<circle cx="935.4" cy="84.8" r="4.0" fill="#f0aa82" stroke="#b48062" stroke-width="0.5"/>
<circle cx="792.5" cy="160.0" r="4.2" fill="#eea47a" stroke="#b27b5c" stroke-width="0.5"/>
<circle cx="765.0" cy="245.9" r="4.2" fill="#eea47a" stroke="#b27b5c" stroke-width="0.5"/>
<circle cx="728.9" cy="252.2" r="4.2" fill="#eea47a" stroke="#b27b5c" stroke-width="0.5"/>
<circle cx="1023.5" cy="256.7" r="4.2" fill="#eea47a" stroke="#b27b5c" stroke-width="0.5"/>
<circle cx="745.5" cy="259.5" r="4.2" fill="#eea47a" stroke="#b27b5c" stroke-width="0.5"/>
<circle cx="932.7" cy="375.2" r="4.2" fill="#eea47a" stroke="#b27b5c" stroke-width="0.5"/>
<circle cx="742.4" cy="68.2" r="4.4" fill="#eda47a" stroke="#b27b5c" stroke-width="0.5"/>
<circle cx="777.4" cy="95.1" r="4.4" fill="#eda47a" stroke="#b27b5c" stroke-width="0.5"/>
<circle cx="704.4" cy="299.1" r="4.4" fill="#eda47a" stroke="#b27b5c" stroke-width="0.5"/>
<circle cx="799.7" cy="356.5" r="4.4" fill="#eda47a" stroke="#b27b5c" stroke-width="0.5"/>
<circle cx="943.8" cy="388.6" r="4.4" fill="#eda47a" stroke="#b27b5c" stroke-width="0.5"/>
<circle cx="778.6" cy="446.1" r="4.4" fill="#eda47a" stroke="#b27b5c" stroke-width="0.5"/>
<circle cx="1104.5" cy="280.5" r="4.5" fill="#eda47a" stroke="#b27b5c" stroke-width="0.5"/>
<circle cx="879.0" cy="413.5" r="4.5" fill="#eda47a" stroke="#b27b5c" stroke-width="0.5"/>
<circle cx="1147.0" cy="459.1" r="4.5" fill="#eda47a" stroke="#b27b5c" stroke-width="0.5"/>
<circle cx="777.8" cy="480.2" r="4.6" fill="#eda47a" stroke="#b27b5c" stroke-width="0.5"/>
<circle cx="963.1" cy="331.2" r="5.0" fill="#ea9466" stroke="#b06f4c" stroke-width="0.5"/>
<circle cx="893.8" cy="400.7" r="5.0" fill="#ea9466" stroke="#b06f4c" stroke-width="0.5"/>
<circle cx="916.0" cy="245.3" r="5.2" fill="#ea9466" stroke="#b06f4c" stroke-width="0.5"/>
<circle cx="857.0" cy="106.9" r="5.4" fill="#ea9264" stroke="#b06e4b" stroke-width="0.5"/>
<circle cx="818.5" cy="414.2" r="5.4" fill="#e98a5c" stroke="#af6845" stroke-width="0.5"/>
<circle cx="1025.9" cy="491.4" r="5.4" fill="#e8865c" stroke="#ae6445" stroke-width="0.5"/>
<circle cx="848.0" cy="55.9" r="6.1" fill="#e8845a" stroke="#ae6344" stroke-width="0.5"/>
<circle cx="763.2" cy="117.9" r="6.1" fill="#e8825a" stroke="#ae6244" stroke-width="0.5"/>
<circle cx="1166.7" cy="191.7" r="6.1" fill="#e8825a" stroke="#ae6244" stroke-width="0.5"/>
<circle cx="969.2" cy="216.1" r="6.1" fill="#e66c44" stroke="#ac5133" stroke-width="0.5"/>
<circle cx="635.7" cy="221.5" r="6.1" fill="#e8845a" stroke="#ae6344" stroke-width="0.5"/>
<circle cx="757.0" cy="227.4" r="6.1" fill="#e8865c" stroke="#ae6445" stroke-width="0.5"/>
<circle cx="1070.5" cy="449.5" r="6.1" fill="#e8825a" stroke="#ae6244" stroke-width="0.5"/>
<circle cx="744.3" cy="291.3" r="6.9" fill="#e98e60" stroke="#af6a48" stroke-width="0.5"/>
<circle cx="794.3" cy="33.0" r="7.4" fill="#e46a42" stroke="#ab5032" stroke-width="0.5"/>
<circle cx="806.3" cy="102.5" r="7.8" fill="#e5583a" stroke="#ac422c" stroke-width="0.5"/>
<circle cx="683.3" cy="131.0" r="7.8" fill="#e6643e" stroke="#ac4b2e" stroke-width="0.5"/>
<circle cx="779.3" cy="521.2" r="8.2" fill="#e46040" stroke="#ab4830" stroke-width="0.5"/>
<circle cx="819.0" cy="133.6" r="8.6" fill="#e66a40" stroke="#ac5030" stroke-width="0.5"/>
<circle cx="880.8" cy="279.2" r="8.6" fill="#e5522c" stroke="#ac3e21" stroke-width="0.5"/>
<circle cx="673.2" cy="100.5" r="10.3" fill="#e34826" stroke="#aa361c" stroke-width="0.5"/>
<circle cx="773.0" cy="189.0" r="10.3" fill="#e44a28" stroke="#ab381e" stroke-width="0.5"/>
<circle cx="1024.4" cy="400.0" r="10.5" fill="#e23c20" stroke="#aa2d18" stroke-width="0.5"/>
<circle cx="665.9" cy="336.8" r="11.0" fill="#e34420" stroke="#aa3318" stroke-width="0.5"/>
<circle cx="639.0" cy="254.3" r="11.4" fill="#de2a22" stroke="#a6201a" stroke-width="0.5"/>
<circle cx="1125.8" cy="295.0" r="12.3" fill="#cc2420" stroke="#991b18" stroke-width="0.5"/>
<circle cx="681.0" cy="377.2" r="14.2" fill="#b22424" stroke="#861b1b" stroke-width="0.5"/>
<circle cx="758.3" cy="355.5" r="15.9" fill="#aa2828" stroke="#801e1e" stroke-width="0.5"/>
<circle cx="828.2" cy="204.9" r="17.7" fill="#832626" stroke="#621c1c" stroke-width="0.5"/>
</g>
<g text-anchor="middle" dominant-baseline="central">
<text x="794.3" y="32.4" font-size="10.0" style="font-weight:700">安静</text>
<text x="848.0" y="54.7" font-size="9.4">环境</text>
<text x="766.9" y="58.6" font-size="9.4">一家人</text>
<text x="688.0" y="60.3" font-size="9.4">干净服务</text>
<text x="904.8" y="64.0" font-size="9.4">周边环境</text>
<text x="824.4" y="64.5" font-size="9.4">位子</text>
<text x="742.4" y="67.0" font-size="9.4">不好</text>
<text x="811.7" y="75.1" font-size="9.4">主人</text>
<text x="873.0" y="81.2" font-size="9.4">周围环境</text>
<text x="935.4" y="83.6" font-size="9.4">房源</text>
<text x="736.0" y="93.3" font-size="9.4">视野</text>
<text x="777.4" y="93.9" font-size="9.4">人</text>
<text x="673.2" y="100.5" font-size="10.6" style="font-weight:700">挺好</text>
<text x="833.2" y="100.8" font-size="9.4">阳光</text>
<text x="806.3" y="102.0" font-size="10.4" style="font-weight:700">棒</text>
<text x="857.0" y="105.7" font-size="9.4">差</text>
<text x="893.8" y="107.3" font-size="9.4">空调效果</text>
<text x="713.4" y="111.8" font-size="9.4">房间装修</text>
<text x="763.2" y="116.7" font-size="9.4">设施</text>
<text x="936.2" y="116.3" font-size="9.4">居住环境</text>
<text x="659.0" y="126.8" font-size="9.4">采光</text>
<text x="683.5" y="130.0" font-size="10.4" style="font-weight:700">一般</text>
<text x="819.0" y="133.6" font-size="10.0" style="font-weight:700">舒服</text>
<text x="737.5" y="136.8" font-size="9.4">床垫</text>
<text x="907.2" y="138.8" font-size="9.4">周边</text>
<text x="942.8" y="140.3" font-size="9.4">区</text>
<text x="662.7" y="149.3" font-size="9.4">热水效果</text>
<text x="765.6" y="150.9" font-size="9.4">睡着</text>
<text x="847.2" y="154.6" font-size="9.4">性格</text>
<text x="792.5" y="158.8" font-size="9.4">地点</text>
<text x="753.4" y="160.7" font-size="9.4">床铺</text>
<text x="701.2" y="163.2" font-size="9.4">沙发</text>
<text x="735.5" y="167.6" font-size="9.4">方面</text>
<text x="819.0" y="171.3" font-size="9.4">光线</text>
<text x="673.2" y="174.7" font-size="9.4">信号</text>
<text x="716.6" y="175.4" font-size="9.4">良好</text>
<text x="792.5" y="176.7" font-size="9.4">便利</text>
<text x="899.4" y="176.2" font-size="9.4">空间</text>
<text x="1103.0" y="181.5" font-size="9.4">高</text>
<text x="946.5" y="187.3" font-size="9.4">入住体验</text>
<text x="773.0" y="188.1" font-size="10.2" style="font-weight:700">感觉</text>
<text x="1166.7" y="190.5" font-size="9.4">性价比</text>
<text x="867.3" y="195.1" font-size="9.4">风景</text>
<text x="736.2" y="196.3" font-size="9.4">说话</text>
<text x="893.8" y="196.8" font-size="9.4">小区</text>
<text x="828.0" y="203.8" font-size="13.8" style="font-weight:700">好</text>
<text x="662.0" y="206.6" font-size="9.4">布置</text>
<text x="710.0" y="205.6" font-size="9.4">特别</text>
<text x="759.5" y="205.6" font-size="9.4">叔叔阿姨</text>
<text x="871.7" y="211.0" font-size="9.4">小院</text>
<text x="969.2" y="214.9" font-size="9.4">阿姨</text>
<text x="1118.8" y="215.8" font-size="9.4">超高</text>
<text x="635.7" y="220.3" font-size="9.4">体验</text>
<text x="702.6" y="221.3" font-size="9.4">房</text>
<text x="896.2" y="220.8" font-size="9.4">亲切</text>
<text x="926.0" y="222.0" font-size="9.4">房间位置</text>
<text x="757.0" y="226.2" font-size="9.4">位置</text>
<text x="841.0" y="229.3" font-size="9.4">通风</text>
<text x="1157.0" y="232.9" font-size="9.4">低</text>
<text x="715.9" y="233.0" font-size="9.4">地址</text>
<text x="798.0" y="235.5" font-size="9.4">装修风格</text>
<text x="874.7" y="237.5" font-size="9.4">地理位置</text>
<text x="916.0" y="244.1" font-size="9.4">设计</text>
<text x="680.3" y="244.7" font-size="9.4">好客</text>
<text x="765.0" y="244.7" font-size="9.4">服务</text>
<text x="840.2" y="249.9" font-size="9.4">小区环境</text>
<text x="728.9" y="251.0" font-size="9.4">赞</text>
<text x="639.0" y="253.6" font-size="11.8" style="font-weight:700">很好</text>
<text x="1023.5" y="255.5" font-size="9.4">房主</text>
<text x="877.6" y="256.7" font-size="9.4">空间大</text>
<text x="904.3" y="257.5" font-size="9.4">网</text>
<text x="745.5" y="258.3" font-size="9.4">卫生</text>
<text x="776.5" y="264.8" font-size="9.4">老板</text>
<text x="803.5" y="263.6" font-size="9.4">总体</text>
<text x="1181.7" y="269.5" font-size="9.4">大姐</text>
<text x="833.2" y="270.3" font-size="9.4">设计风格</text>
<text x="673.2" y="271.7" font-size="9.4">整体</text>
<text x="1048.3" y="273.6" font-size="9.4">妈妈</text>
<text x="935.4" y="274.6" font-size="9.4">菜</text>
<text x="1006.0" y="276.5" font-size="9.4">工作人员</text>
<text x="880.8" y="278.0" font-size="10.6" style="font-weight:700">非常好</text>
<text x="1104.5" y="279.3" font-size="9.4">房东</text>
<text x="842.3" y="284.9" font-size="9.4">漂亮</text>
<text x="786.3" y="288.1" font-size="9.4">独特</text>
<text x="744.3" y="290.1" font-size="9.4">风格</text>
<text x="674.2" y="290.5" font-size="9.4">值</text>
<text x="1125.3" y="294.8" font-size="11.6" style="font-weight:700">热情</text>
<text x="704.4" y="297.9" font-size="9.4">小</text>
<text x="920.7" y="297.9" font-size="9.4">价位</text>
<text x="956.0" y="302.6" font-size="9.4">价格</text>
<text x="1181.0" y="303.2" font-size="9.4">叔叔</text>
<text x="840.6" y="305.3" font-size="9.4">地段</text>
<text x="724.7" y="306.5" font-size="9.4">价位合理</text>
<text x="821.0" y="307.7" font-size="9.4">热水</text>
<text x="899.9" y="310.9" font-size="9.4">好找</text>
<text x="855.3" y="314.3" font-size="9.4">猫猫</text>
<text x="768.0" y="316.3" font-size="9.4">声音</text>
<text x="741.1" y="318.3" font-size="9.4">条件</text>
<text x="883.2" y="321.2" font-size="9.4">味道</text>
<text x="810.4" y="323.1" font-size="9.4">很棒</text>
<text x="713.0" y="323.6" font-size="9.4">简洁</text>
<text x="963.1" y="330.0" font-size="9.4">合适</text>
<text x="1086.8" y="330.2" font-size="9.4">精致</text>
<text x="1186.6" y="330.9" font-size="9.4">详细</text>
<text x="865.1" y="332.3" font-size="9.4">房屋</text>
<text x="665.9" y="336.3" font-size="10.8" style="font-weight:700">干净</text>
<text x="840.6" y="338.3" font-size="9.4">灰</text>
<text x="798.8" y="339.2" font-size="9.4">态度</text>
<text x="899.9" y="337.8" font-size="9.4">不大</text>
<text x="725.2" y="339.6" font-size="9.4">窗户</text>
<text x="1001.6" y="338.7" font-size="9.4">人员</text>
<text x="1141.0" y="341.2" font-size="9.4">姐</text>
<text x="934.0" y="345.7" font-size="9.4">酒店</text>
<text x="1039.8" y="345.6" font-size="9.4">哥哥</text>
<text x="694.0" y="346.9" font-size="9.4">被单</text>
<text x="1115.9" y="347.5" font-size="9.4">耐心</text>
<text x="758.3" y="355.2" font-size="11.6" style="font-weight:700">不错</text>
<text x="799.7" y="355.3" font-size="9.4">家</text>
<text x="862.6" y="359.2" font-size="9.4">舒适</text>
<text x="641.9" y="367.7" font-size="9.4">用品</text>
<text x="1092.8" y="367.7" font-size="9.4">不便</text>
<text x="932.7" y="374.0" font-size="9.4">装修</text>
<text x="681.0" y="376.7" font-size="12.0" style="font-weight:700">房间</text>
<text x="782.5" y="375.0" font-size="9.4">好看</text>
<text x="732.5" y="375.9" font-size="9.4">民宿</text>
<text x="1059.5" y="375.7" font-size="9.4">姐姐</text>
<text x="873.4" y="382.3" font-size="9.4">美</text>
<text x="943.8" y="387.4" font-size="9.4">地方</text>
<text x="1153.2" y="388.5" font-size="9.4">生活</text>
<text x="839.1" y="391.7" font-size="9.4">狗狗</text>
<text x="708.5" y="394.6" font-size="9.4">不干净</text>
<text x="793.9" y="397.1" font-size="9.4">小屋</text>
<text x="1024.4" y="399.0" font-size="10.6" style="font-weight:700">方便</text>
<text x="668.8" y="399.5" font-size="9.4">好家里</text>
<text x="893.8" y="399.5" font-size="9.4">温馨</text>
<text x="738.7" y="400.7" font-size="9.4">床单</text>
<text x="768.0" y="405.6" font-size="9.4">多</text>
<text x="1191.5" y="406.6" font-size="9.4">停车</text>
<text x="833.2" y="409.3" font-size="9.4">软</text>
<text x="1149.0" y="412.0" font-size="9.4">开车</text>
<text x="752.2" y="412.3" font-size="9.4">枕头</text>
<text x="786.3" y="412.3" font-size="9.4">很大</text>
<text x="879.0" y="412.3" font-size="9.4">院子</text>
<text x="818.5" y="413.0" font-size="9.4">床</text>
<text x="1038.3" y="418.1" font-size="9.4">超市</text>
<text x="696.3" y="430.2" font-size="9.4">地板</text>
<text x="639.4" y="430.9" font-size="9.4">齐全</text>
<text x="1164.5" y="432.8" font-size="9.4">地铁</text>
<text x="810.4" y="437.5" font-size="9.4">可爱</text>
<text x="662.0" y="438.7" font-size="9.4">整洁</text>
<text x="1009.0" y="440.2" font-size="9.4">车</text>
<text x="929.8" y="442.3" font-size="9.4">不舒适</text>
<text x="879.0" y="443.6" font-size="9.4">猫咪</text>
<text x="778.6" y="444.9" font-size="9.4">屋子</text>
<text x="1032.0" y="446.3" font-size="9.4">空调</text>
<text x="738.3" y="447.5" font-size="9.4">暖和</text>
<text x="1070.5" y="448.3" font-size="9.4">还可以</text>
<text x="855.3" y="451.5" font-size="9.4">暖</text>
<text x="649.0" y="453.8" font-size="9.4">东西</text>
<text x="1147.0" y="457.9" font-size="9.4">交通</text>
<text x="708.0" y="459.9" font-size="9.4">公寓</text>
<text x="1106.0" y="461.1" font-size="9.4">购物</text>
<text x="837.6" y="464.8" font-size="9.4">不小</text>
<text x="924.4" y="465.7" font-size="9.4">明亮</text>
<text x="1047.6" y="476.0" font-size="9.4">景点</text>
<text x="777.8" y="479.0" font-size="9.4">大</text>
<text x="1003.2" y="485.8" font-size="9.4">站</text>
<text x="693.8" y="487.0" font-size="9.4">是</text>
<text x="1025.9" y="490.2" font-size="9.4">近</text>
<text x="857.7" y="493.8" font-size="9.4">香</text>
<text x="1042.0" y="504.8" font-size="9.4">景区</text>
<text x="997.6" y="506.5" font-size="9.4">距离</text>
<text x="779.3" y="519.9" font-size="10.2" style="font-weight:700">房子</text>
</g>
</g>
<text class="cap" x="300.7" y="552.6" font-size="20" text-anchor="middle" dominant-baseline="central">(a) Fruchterman Reingold布局</text>
<text class="cap" x="914" y="552.2" font-size="20" text-anchor="middle" dominant-baseline="central">(b) OpenOrd布局</text>
</svg>
</body></html>
